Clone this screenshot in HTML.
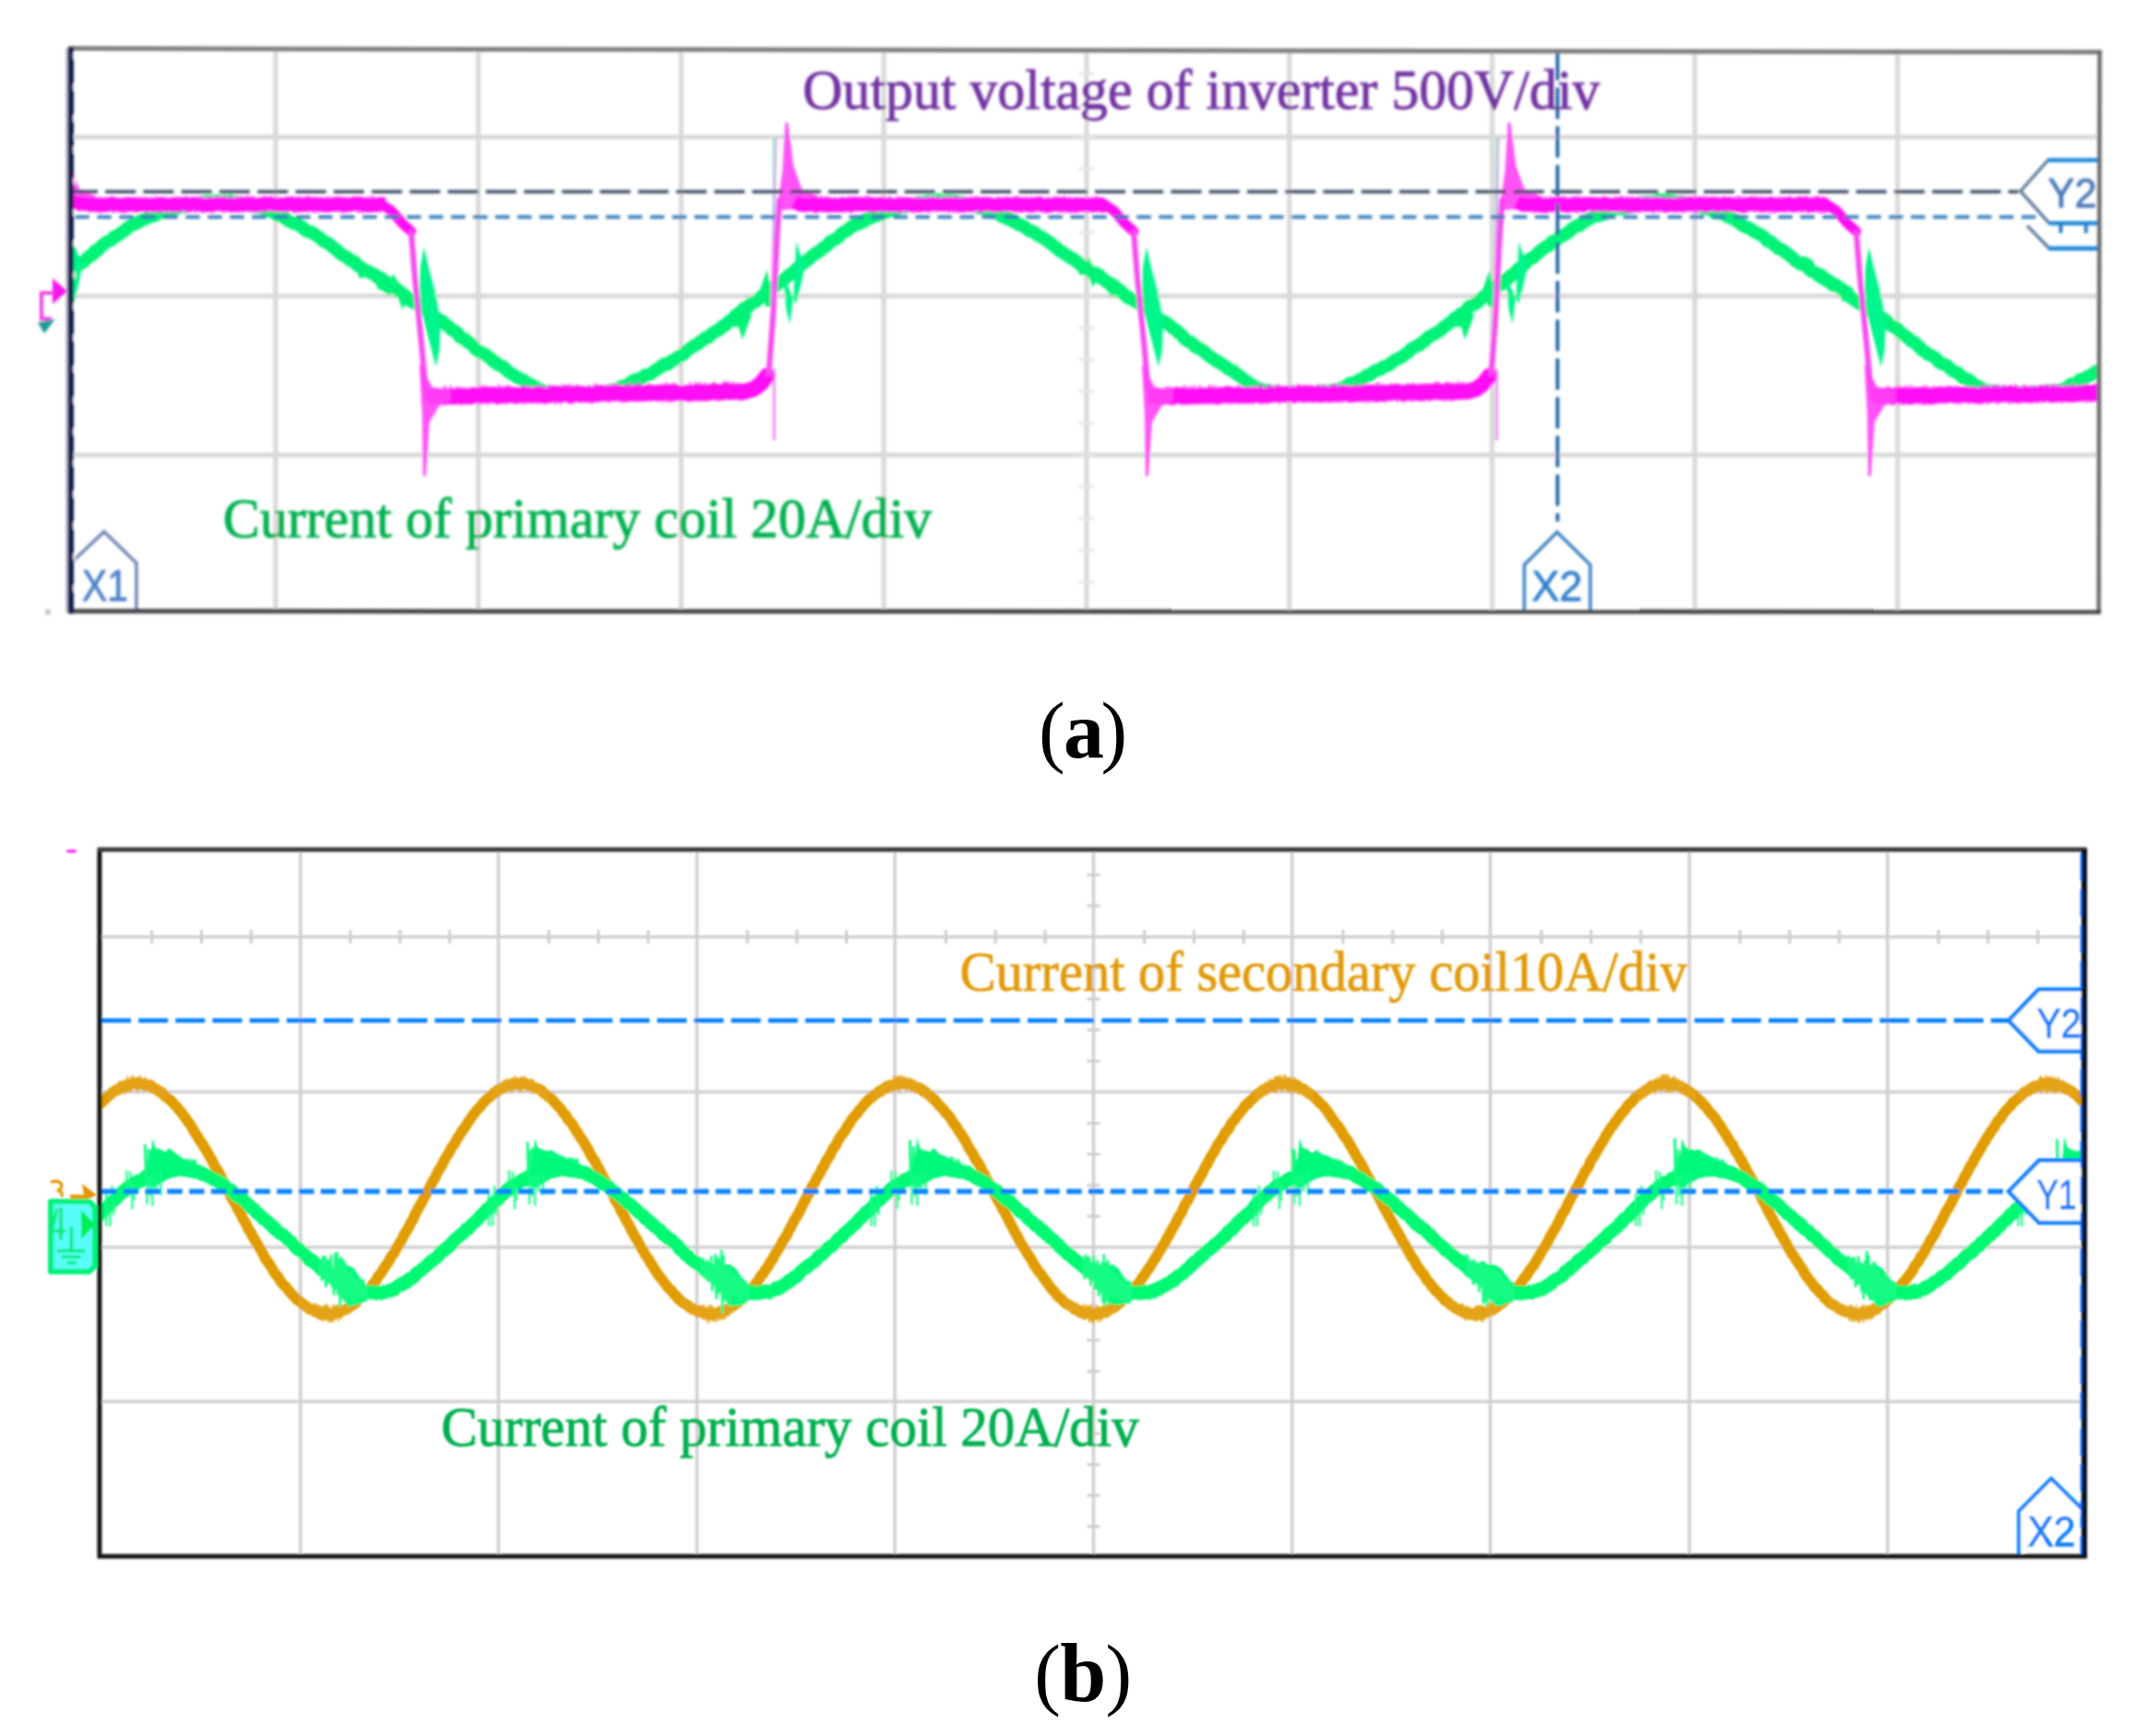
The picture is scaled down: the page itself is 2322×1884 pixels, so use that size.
<!DOCTYPE html>
<html lang="en"><head><meta charset="utf-8"><title>Figure</title>
<style>html,body{margin:0;padding:0;background:#fff}svg{display:block}text{font-family:"Liberation Serif",serif}.ss{font-family:"Liberation Sans",sans-serif}</style></head><body>
<svg width="2322" height="1884" viewBox="0 0 2322 1884">
<defs><filter id="bA" x="-2%" y="-5%" width="104%" height="110%"><feGaussianBlur stdDeviation="1.6"/></filter><filter id="bB" x="-2%" y="-5%" width="104%" height="110%"><feGaussianBlur stdDeviation="0.9"/></filter><clipPath id="cA"><rect x="76" y="53" width="2203" height="611"/></clipPath><clipPath id="cB"><rect x="108" y="922" width="2153.5" height="766"/></clipPath></defs>
<rect width="2322" height="1884" fill="#fff"/>
<g filter="url(#bA)">
<path d="M299,53V663M519,53V663M739,53V663M959,53V663M1179,53V663M1399,53V663M1619,53V663M1839,53V663M2059,53V663M76,148.75H2279M76,321.25H2279M76,493.75H2279" stroke="#d8d8d8" stroke-width="5" fill="none"/>
<path d="M1171,79.8h16M1171,114.2h16M1171,148.8h16M1171,183.2h16M1171,217.8h16M1171,252.2h16M1171,286.8h16M1171,321.2h16M1171,355.8h16M1171,390.2h16M1171,424.8h16M1171,459.2h16M1171,493.8h16M1171,528.2h16M1171,562.8h16M1171,597.2h16M1171,631.8h16" stroke="#e4e4e4" stroke-width="3" fill="none"/>
<g clip-path="url(#cA)">
<polyline points="40.0,323.5 43.0,321.0 46.0,319.9 49.0,316.3 52.0,315.1 55.0,312.2 58.0,309.0 61.0,307.6 64.0,304.0 67.0,302.5 70.0,299.2 73.0,296.7 76.0,295.1 79.0,293.6 82.0,289.4 85.0,287.2 88.0,285.7 91.0,284.1 94.0,280.8 97.0,278.0 100.0,276.9 103.0,272.3 106.0,271.9 109.0,268.1 112.0,265.5 115.0,263.2 118.0,261.5 121.0,260.6 124.0,257.0 127.0,256.0 130.0,254.1 133.0,251.5 136.0,250.0 139.0,246.8 142.0,244.9 145.0,243.4 148.0,242.7 151.0,240.5 154.0,238.7 157.0,237.9 160.0,236.3 163.0,234.7 166.0,234.7 169.0,233.3 172.0,231.0 175.0,230.7 178.0,229.5 181.0,229.3 184.0,228.1 187.0,226.2 190.0,227.1 193.0,224.3 196.0,224.4 199.0,224.5 202.0,222.4 205.0,222.5 208.0,220.7 211.0,221.6 214.0,221.2 217.0,220.2 220.0,220.4 223.0,218.5 226.0,219.0 229.0,218.4 232.0,218.1 235.0,217.7 238.0,218.6 241.0,218.9 244.0,218.0 247.0,218.9 250.0,217.8 253.0,219.8 256.0,220.0 259.0,221.3 262.0,221.4 265.0,220.7 268.0,221.7 271.0,223.1 274.0,222.4 277.0,224.3 280.0,224.5 283.0,225.4 286.0,226.2 289.0,228.9 292.0,228.4 295.0,229.8 298.0,231.4 301.0,233.9 304.0,233.3 307.0,235.6 310.0,237.3 313.0,239.6 316.0,241.0 319.0,242.7 322.0,242.9 325.0,244.9 328.0,246.5 331.0,249.5 334.0,251.5 337.0,251.4 340.0,253.3 343.0,255.4 346.0,257.3 349.0,260.0 352.0,262.3 355.0,263.6 358.0,265.2 361.0,268.3 364.0,270.3 367.0,272.9 370.0,276.0 373.0,277.4 376.0,279.1 379.0,281.4 382.0,283.6 385.0,284.1 388.0,288.2 391.0,289.9 394.0,292.0 397.0,293.8 400.0,294.7 403.0,296.5 406.0,297.6 409.0,300.7 412.0,301.2 415.0,303.1 418.0,305.4 421.0,307.3 424.0,309.8 427.0,311.2 430.0,313.3 433.0,315.9 436.0,318.0 439.0,320.9 442.0,322.2 445.0,326.4 448.0,327.9 451.0,328.9 454.0,331.2 457.0,333.5 460.0,335.6 463.0,337.1 466.0,340.9 469.0,343.3 472.0,344.1 475.0,346.2 478.0,347.4 481.0,349.6 484.0,352.4 487.0,354.5 490.0,358.2 493.0,359.0 496.0,361.1 499.0,365.7 502.0,367.1 505.0,368.5 508.0,371.8 511.0,372.9 514.0,376.3 517.0,379.7 520.0,381.6 523.0,383.3 526.0,384.4 529.0,386.8 532.0,388.5 535.0,392.0 538.0,393.5 541.0,396.2 544.0,397.1 547.0,398.8 550.0,402.1 553.0,404.5 556.0,406.1 559.0,407.9 562.0,410.0 565.0,411.8 568.0,412.6 571.0,415.3 574.0,416.7 577.0,417.8 580.0,419.4 583.0,421.4 586.0,422.5 589.0,424.4 592.0,425.7 595.0,425.0 598.0,426.5 601.0,426.8 604.0,426.9 607.0,425.6 610.0,425.5 613.0,425.6 616.0,425.7 619.0,425.9 622.0,427.0 625.0,427.7 628.0,427.5 631.0,426.6 634.0,426.9 637.0,427.1 640.0,425.2 643.0,426.4 646.0,426.9 649.0,426.4 652.0,426.2 655.0,425.2 658.0,424.1 661.0,425.0 664.0,423.2 667.0,423.5 670.0,422.9 673.0,420.3 676.0,419.0 679.0,419.0 682.0,417.1 685.0,414.3 688.0,412.8 691.0,411.4 694.0,411.8 697.0,410.1 700.0,407.0 703.0,407.1 706.0,405.9 709.0,403.5 712.0,401.1 715.0,399.8 718.0,397.1 721.0,395.1 724.0,395.7 727.0,393.1 730.0,391.0 733.0,390.2 736.0,387.1 739.0,386.2 742.0,384.1 745.0,380.6 748.0,378.7 751.0,376.8 754.0,374.7 757.0,373.5 760.0,370.7 763.0,369.0 766.0,366.2 769.0,366.0 772.0,362.5 775.0,360.6 778.0,358.8 781.0,357.4 784.0,354.0 787.0,353.0 790.0,349.7 793.0,347.5 796.0,345.1 799.0,341.5 802.0,340.0 805.0,337.0 808.0,334.2 811.0,333.9 814.0,330.1 817.0,328.7 820.0,327.2 823.0,324.8 826.0,322.1 829.0,320.4 832.0,318.2 835.0,316.4 838.0,312.4 841.0,311.1 844.0,307.8 847.0,305.4 850.0,304.2 853.0,301.0 856.0,298.7 859.0,296.7 862.0,294.6 865.0,291.0 868.0,289.0 871.0,286.3 874.0,283.9 877.0,281.9 880.0,278.9 883.0,276.7 886.0,274.1 889.0,272.9 892.0,269.9 895.0,268.0 898.0,265.9 901.0,262.1 904.0,260.7 907.0,259.5 910.0,257.2 913.0,253.6 916.0,251.6 919.0,250.4 922.0,247.5 925.0,245.9 928.0,243.6 931.0,243.3 934.0,241.9 937.0,240.6 940.0,237.4 943.0,237.4 946.0,236.0 949.0,233.5 952.0,234.1 955.0,233.1 958.0,230.2 961.0,230.9 964.0,228.5 967.0,227.8 970.0,228.2 973.0,227.0 976.0,224.7 979.0,224.6 982.0,224.2 985.0,223.0 988.0,222.0 991.0,221.6 994.0,221.9 997.0,219.6 1000.0,220.3 1003.0,219.5 1006.0,218.0 1009.0,218.2 1012.0,218.5 1015.0,218.0 1018.0,216.7 1021.0,218.9 1024.0,218.5 1027.0,219.1 1030.0,217.4 1033.0,218.2 1036.0,218.0 1039.0,220.2 1042.0,219.4 1045.0,219.6 1048.0,220.9 1051.0,222.7 1054.0,223.2 1057.0,222.6 1060.0,223.3 1063.0,226.0 1066.0,226.1 1069.0,227.4 1072.0,226.9 1075.0,227.9 1078.0,230.5 1081.0,231.1 1084.0,231.5 1087.0,234.9 1090.0,235.6 1093.0,237.4 1096.0,237.2 1099.0,240.5 1102.0,240.2 1105.0,243.7 1108.0,244.4 1111.0,245.8 1114.0,248.1 1117.0,250.8 1120.0,251.0 1123.0,252.6 1126.0,255.4 1129.0,256.7 1132.0,258.4 1135.0,260.6 1138.0,262.4 1141.0,264.9 1144.0,267.3 1147.0,269.5 1150.0,272.7 1153.0,273.7 1156.0,276.3 1159.0,277.6 1162.0,280.1 1165.0,281.3 1168.0,283.9 1171.0,285.4 1174.0,289.1 1177.0,290.6 1180.0,291.7 1183.0,294.3 1186.0,297.2 1189.0,297.1 1192.0,300.6 1195.0,301.4 1198.0,303.5 1201.0,306.2 1204.0,307.1 1207.0,309.5 1210.0,312.0 1213.0,314.9 1216.0,315.6 1219.0,319.0 1222.0,321.0 1225.0,323.0 1228.0,324.6 1231.0,326.6 1234.0,328.0 1237.0,330.3 1240.0,332.2 1243.0,335.8 1246.0,336.7 1249.0,338.6 1252.0,340.4 1255.0,344.3 1258.0,346.4 1261.0,348.1 1264.0,349.3 1267.0,351.4 1270.0,353.8 1273.0,356.5 1276.0,358.2 1279.0,361.3 1282.0,363.2 1285.0,367.3 1288.0,369.7 1291.0,371.1 1294.0,372.6 1297.0,376.6 1300.0,377.3 1303.0,379.6 1306.0,380.9 1309.0,384.0 1312.0,386.4 1315.0,388.6 1318.0,390.0 1321.0,392.8 1324.0,393.6 1327.0,396.3 1330.0,397.8 1333.0,400.5 1336.0,401.6 1339.0,403.5 1342.0,406.1 1345.0,407.9 1348.0,410.8 1351.0,412.7 1354.0,415.2 1357.0,416.9 1360.0,418.8 1363.0,420.9 1366.0,421.3 1369.0,422.3 1372.0,424.8 1375.0,423.6 1378.0,425.5 1381.0,425.7 1384.0,424.5 1387.0,426.6 1390.0,426.9 1393.0,426.4 1396.0,426.8 1399.0,427.2 1402.0,425.7 1405.0,426.7 1408.0,426.7 1411.0,427.5 1414.0,427.4 1417.0,427.4 1420.0,426.6 1423.0,427.2 1426.0,426.6 1429.0,426.4 1432.0,425.1 1435.0,424.5 1438.0,424.5 1441.0,424.7 1444.0,423.6 1447.0,424.7 1450.0,423.2 1453.0,422.4 1456.0,421.2 1459.0,420.1 1462.0,418.3 1465.0,415.8 1468.0,416.3 1471.0,414.8 1474.0,412.7 1477.0,411.4 1480.0,410.2 1483.0,407.3 1486.0,407.4 1489.0,404.6 1492.0,402.6 1495.0,401.4 1498.0,400.8 1501.0,397.9 1504.0,397.4 1507.0,396.3 1510.0,393.4 1513.0,391.3 1516.0,389.7 1519.0,388.3 1522.0,386.6 1525.0,384.3 1528.0,382.3 1531.0,379.0 1534.0,377.2 1537.0,375.4 1540.0,374.6 1543.0,371.5 1546.0,370.0 1549.0,366.6 1552.0,364.6 1555.0,363.0 1558.0,361.8 1561.0,359.7 1564.0,357.6 1567.0,354.5 1570.0,352.8 1573.0,350.4 1576.0,348.1 1579.0,344.9 1582.0,344.4 1585.0,340.3 1588.0,339.7 1591.0,337.2 1594.0,332.7 1597.0,331.6 1600.0,330.3 1603.0,328.5 1606.0,325.2 1609.0,322.7 1612.0,320.4 1615.0,319.9 1618.0,315.8 1621.0,314.4 1624.0,310.9 1627.0,309.3 1630.0,307.9 1633.0,303.4 1636.0,302.6 1639.0,299.4 1642.0,297.8 1645.0,294.9 1648.0,291.3 1651.0,290.5 1654.0,287.0 1657.0,283.5 1660.0,281.0 1663.0,279.8 1666.0,277.3 1669.0,274.5 1672.0,271.7 1675.0,269.8 1678.0,267.4 1681.0,266.4 1684.0,262.2 1687.0,261.8 1690.0,259.9 1693.0,256.2 1696.0,256.1 1699.0,253.7 1702.0,252.1 1705.0,248.7 1708.0,246.9 1711.0,245.0 1714.0,244.7 1717.0,242.0 1720.0,239.8 1723.0,238.5 1726.0,236.7 1729.0,234.9 1732.0,233.8 1735.0,234.4 1738.0,231.9 1741.0,232.3 1744.0,229.5 1747.0,228.5 1750.0,228.2 1753.0,226.5 1756.0,226.1 1759.0,226.8 1762.0,226.0 1765.0,225.1 1768.0,224.0 1771.0,224.0 1774.0,223.3 1777.0,221.7 1780.0,221.5 1783.0,219.3 1786.0,220.4 1789.0,219.2 1792.0,219.4 1795.0,218.7 1798.0,217.5 1801.0,216.7 1804.0,218.8 1807.0,216.9 1810.0,217.9 1813.0,217.8 1816.0,218.1 1819.0,219.6 1822.0,220.5 1825.0,219.2 1828.0,220.7 1831.0,220.4 1834.0,221.6 1837.0,221.9 1840.0,222.1 1843.0,223.0 1846.0,224.0 1849.0,226.6 1852.0,226.6 1855.0,226.9 1858.0,229.5 1861.0,230.9 1864.0,230.7 1867.0,231.2 1870.0,232.7 1873.0,233.8 1876.0,235.9 1879.0,236.7 1882.0,238.6 1885.0,240.1 1888.0,242.5 1891.0,244.9 1894.0,246.3 1897.0,247.2 1900.0,249.0 1903.0,251.1 1906.0,252.5 1909.0,254.3 1912.0,255.6 1915.0,258.1 1918.0,261.8 1921.0,261.9 1924.0,264.9 1927.0,267.4 1930.0,270.1 1933.0,270.7 1936.0,272.9 1939.0,275.0 1942.0,277.4 1945.0,279.6 1948.0,282.9 1951.0,284.7 1954.0,286.8 1957.0,286.7 1960.0,288.7 1963.0,292.3 1966.0,294.6 1969.0,295.5 1972.0,297.6 1975.0,298.0 1978.0,300.7 1981.0,303.9 1984.0,305.5 1987.0,307.6 1990.0,309.9 1993.0,310.3 1996.0,312.1 1999.0,314.4 2002.0,317.6 2005.0,320.2 2008.0,323.0 2011.0,324.6 2014.0,326.6 2017.0,329.0 2020.0,330.4 2023.0,332.6 2026.0,333.5 2029.0,337.3 2032.0,338.0 2035.0,341.7 2038.0,343.1 2041.0,344.4 2044.0,346.1 2047.0,348.5 2050.0,351.6 2053.0,354.0 2056.0,354.9 2059.0,357.2 2062.0,360.7 2065.0,363.2 2068.0,365.1 2071.0,367.1 2074.0,370.4 2077.0,371.3 2080.0,374.3 2083.0,376.9 2086.0,380.3 2089.0,381.8 2092.0,384.5 2095.0,385.7 2098.0,387.2 2101.0,389.4 2104.0,393.2 2107.0,394.6 2110.0,395.7 2113.0,397.0 2116.0,400.1 2119.0,402.5 2122.0,403.8 2125.0,405.3 2128.0,408.3 2131.0,410.9 2134.0,411.3 2137.0,412.8 2140.0,415.5 2143.0,417.5 2146.0,419.9 2149.0,420.3 2152.0,423.1 2155.0,424.0 2158.0,424.2 2161.0,424.1 2164.0,426.4 2167.0,425.1 2170.0,426.5 2173.0,425.2 2176.0,425.4 2179.0,426.8 2182.0,425.9 2185.0,427.6 2188.0,426.6 2191.0,425.9 2194.0,426.0 2197.0,426.5 2200.0,427.0 2203.0,427.6 2206.0,425.5 2209.0,425.9 2212.0,425.3 2215.0,427.0 2218.0,424.8 2221.0,424.4 2224.0,424.1 2227.0,424.5 2230.0,425.1 2233.0,424.3 2236.0,423.0 2239.0,422.5 2242.0,421.1 2245.0,418.4 2248.0,416.7 2251.0,417.1 2254.0,415.3 2257.0,412.1 2260.0,412.2 2263.0,410.0 2266.0,408.5 2269.0,406.9 2272.0,405.0 2275.0,403.0 2278.0,402.0 2281.0,400.5 2284.0,400.2 2287.0,396.5 2290.0,396.8 2293.0,393.3 2296.0,391.8 2299.0,391.1" stroke="#00f276" stroke-width="14" fill="none" stroke-linejoin="round"/>
<polyline points="-397.0,291.0 -392.0,294.8 -387.0,298.0 -382.0,303.9 -377.0,303.4 -372.0,307.5 -367.0,309.6 -362.0,302.4 -357.0,307.0 -352.0,307.5 -347.0,325.5 -342.0,332.2" stroke="#00f276" stroke-width="6" fill="none"/>
<polygon points="-324.0,268.0 -319.0,290.0 -311.0,320.0 -306.0,350.0 -307.0,380.0 -311.0,398.0 -317.0,375.0 -325.0,345.0 -329.0,315.0 -328.0,290.0" fill="#00f58c"/>
<polyline points="42.0,324.0 47.0,310.0 51.0,332.0 55.0,316.0" stroke="#00f276" stroke-width="9" fill="none"/>
<polyline points="56.0,330.0 56.0,150.0" stroke="#3ff0b0" stroke-width="3" fill="none" opacity="0.8"/>
<polygon points="66.0,300.0 69.0,335.0 73.0,352.0 77.0,320.0 80.0,262.0 84.0,275.0 90.0,285.0 86.0,305.0 80.0,330.0" fill="#00f58c"/>
<polyline points="12.0,354.0 18.0,342.0 22.0,356.0 28.0,340.0" stroke="#00f276" stroke-width="8" fill="none"/>
<polyline points="387.0,281.2 392.0,298.5 397.0,297.1 402.0,292.1 407.0,294.7 412.0,311.0 417.0,313.3 422.0,316.8 427.0,303.7 432.0,312.0 437.0,327.8 442.0,316.4" stroke="#00f276" stroke-width="6" fill="none"/>
<polygon points="460.0,268.0 465.0,290.0 473.0,320.0 478.0,350.0 477.0,380.0 473.0,398.0 467.0,375.0 459.0,345.0 455.0,315.0 456.0,290.0" fill="#00f58c"/>
<polyline points="826.0,324.0 831.0,310.0 835.0,332.0 839.0,316.0" stroke="#00f276" stroke-width="9" fill="none"/>
<polyline points="840.0,330.0 840.0,150.0" stroke="#3ff0b0" stroke-width="3" fill="none" opacity="0.8"/>
<polygon points="850.0,300.0 853.0,335.0 857.0,352.0 861.0,320.0 864.0,262.0 868.0,275.0 874.0,285.0 870.0,305.0 864.0,330.0" fill="#00f58c"/>
<polyline points="796.0,354.0 802.0,342.0 806.0,356.0 812.0,340.0" stroke="#00f276" stroke-width="8" fill="none"/>
<polyline points="1171.0,294.9 1176.0,295.7 1181.0,286.5 1186.0,303.9 1191.0,293.2 1196.0,295.8 1201.0,310.2 1206.0,317.2 1211.0,307.0 1216.0,311.0 1221.0,326.2 1226.0,328.3" stroke="#00f276" stroke-width="6" fill="none"/>
<polygon points="1244.0,268.0 1249.0,290.0 1257.0,320.0 1262.0,350.0 1261.0,380.0 1257.0,398.0 1251.0,375.0 1243.0,345.0 1239.0,315.0 1240.0,290.0" fill="#00f58c"/>
<polyline points="1610.0,324.0 1615.0,310.0 1619.0,332.0 1623.0,316.0" stroke="#00f276" stroke-width="9" fill="none"/>
<polyline points="1624.0,330.0 1624.0,150.0" stroke="#3ff0b0" stroke-width="3" fill="none" opacity="0.8"/>
<polygon points="1634.0,300.0 1637.0,335.0 1641.0,352.0 1645.0,320.0 1648.0,262.0 1652.0,275.0 1658.0,285.0 1654.0,305.0 1648.0,330.0" fill="#00f58c"/>
<polyline points="1580.0,354.0 1586.0,342.0 1590.0,356.0 1596.0,340.0" stroke="#00f276" stroke-width="8" fill="none"/>
<polyline points="1955.0,280.5 1960.0,282.1 1965.0,285.2 1970.0,301.6 1975.0,305.1 1980.0,307.2 1985.0,300.5 1990.0,304.0 1995.0,306.7 2000.0,321.3 2005.0,313.2 2010.0,316.1" stroke="#00f276" stroke-width="6" fill="none"/>
<polygon points="2028.0,268.0 2033.0,290.0 2041.0,320.0 2046.0,350.0 2045.0,380.0 2041.0,398.0 2035.0,375.0 2027.0,345.0 2023.0,315.0 2024.0,290.0" fill="#00f58c"/>
<polyline points="2394.0,324.0 2399.0,310.0 2403.0,332.0 2407.0,316.0" stroke="#00f276" stroke-width="9" fill="none"/>
<polyline points="2408.0,330.0 2408.0,150.0" stroke="#3ff0b0" stroke-width="3" fill="none" opacity="0.8"/>
<polygon points="2418.0,300.0 2421.0,335.0 2425.0,352.0 2429.0,320.0 2432.0,262.0 2436.0,275.0 2442.0,285.0 2438.0,305.0 2432.0,330.0" fill="#00f58c"/>
<polyline points="2364.0,354.0 2370.0,342.0 2374.0,356.0 2380.0,340.0" stroke="#00f276" stroke-width="8" fill="none"/>
<polyline points="-706.0,219.0 -700.0,221.2 -694.0,221.9 -688.0,221.1 -682.0,221.0 -676.0,222.8 -670.0,221.5 -664.0,221.9 -658.0,221.7 -652.0,222.8 -646.0,221.5 -640.0,221.1 -634.0,222.2 -628.0,222.7 -622.0,221.4 -616.0,221.2 -610.0,222.0 -604.0,221.4 -598.0,222.2 -592.0,222.5 -586.0,222.3 -580.0,221.0 -574.0,222.3 -568.0,222.4 -562.0,221.7 -556.0,221.1 -550.0,221.7 -544.0,221.1 -538.0,223.0 -532.0,221.1 -526.0,222.5 -520.0,222.8 -514.0,222.6 -508.0,222.6 -502.0,221.8 -496.0,221.7 -490.0,222.2 -484.0,221.2 -478.0,221.1 -472.0,222.0 -466.0,222.0 -460.0,221.8 -454.0,222.6 -448.0,222.3 -442.0,221.3 -436.0,222.1 -430.0,222.3 -424.0,221.8 -418.0,221.5 -412.0,223.0 -406.0,222.3 -400.0,221.8 -394.0,221.1 -388.0,222.5 -382.0,222.8 -376.0,221.8 -370.0,221.0 -367.0,222.0" stroke="#ff0cf4" stroke-width="15" fill="none" stroke-linejoin="round"/>
<polyline points="-688.0,212.8 -686.8,231.3 -685.4,213.2 -684.2,229.9 -682.8,214.1 -681.6,231.8 -680.2,214.0 -679.0,229.0 -677.6,215.1 -676.4,228.8 -675.0,213.5 -673.8,229.8 -672.4,212.8 -671.2,229.0 -669.8,215.3 -668.6,229.0 -667.2,212.7 -666.0,229.9 -664.6,213.5 -663.4,231.7 -662.0,212.9 -660.8,229.1 -659.4,214.3 -658.2,229.1 -656.8,214.9 -655.6,228.7 -654.2,214.2 -653.0,231.1 -651.6,212.7 -650.4,231.3 -649.0,214.4 -647.8,231.4 -646.4,215.3 -645.2,231.7 -643.8,214.4 -642.6,230.6 -641.2,213.3 -640.0,228.8 -638.6,213.0 -637.4,230.9 -636.0,212.4 -634.8,230.7 -633.4,212.5 -632.2,230.7 -630.8,213.3 -629.6,229.2 -628.2,213.8 -627.0,230.5 -625.6,215.4 -624.4,231.8 -623.0,215.0 -621.8,229.8 -620.4,215.0 -619.2,231.9 -617.8,212.6 -616.6,229.2 -615.2,212.4 -614.0,231.4 -612.6,213.1 -611.4,230.8 -610.0,214.4 -608.8,229.9 -607.4,213.9 -606.2,231.5 -604.8,212.8 -603.6,230.8 -602.2,214.4 -601.0,229.4 -599.6,214.1 -598.4,229.8 -597.0,213.7 -595.8,229.1 -594.4,215.5 -593.2,232.0 -591.8,213.9 -590.6,230.1 -589.2,213.3 -588.0,231.4 -586.6,212.6 -585.4,231.3 -584.0,214.1 -582.8,228.7 -581.4,214.2 -580.2,229.8 -578.8,212.7 -577.6,230.3 -576.2,213.2 -575.0,228.6 -573.6,215.0 -572.4,231.7 -571.0,214.4 -569.8,231.0 -568.4,215.2 -567.2,231.1 -565.8,212.4 -564.6,230.8 -563.2,212.8 -562.0,228.6 -560.6,215.3 -559.4,230.6 -558.0,213.1 -556.8,228.9 -555.4,215.0 -554.2,231.6 -552.8,214.5 -551.6,231.3 -550.2,212.7 -549.0,230.9 -547.6,213.0 -546.4,229.3 -545.0,212.6 -543.8,230.6 -542.4,214.6 -541.2,229.6 -539.8,213.4 -538.6,231.7 -537.2,213.9 -536.0,229.4 -534.6,212.1 -533.4,230.2 -532.0,213.4 -530.8,230.7 -529.4,214.7 -528.2,229.8 -526.8,214.8 -525.6,229.9 -524.2,213.3 -523.0,229.5 -521.6,214.4 -520.4,229.8 -519.0,212.7 -517.8,229.4 -516.4,212.8 -515.2,228.7 -513.8,212.5 -512.6,231.9 -511.2,213.9 -510.0,230.3 -508.6,213.1 -507.4,231.6 -506.0,214.6 -504.8,230.4 -503.4,212.5 -502.2,231.1 -500.8,214.2 -499.6,229.8 -498.2,214.2 -497.0,229.0 -495.6,214.3 -494.4,228.8 -493.0,214.7 -491.8,230.7 -490.4,212.1 -489.2,229.5 -487.8,213.7 -486.6,229.6 -485.2,212.1 -484.0,231.5 -482.6,212.3 -481.4,231.6 -480.0,212.9 -478.8,231.1 -477.4,214.7 -476.2,229.5 -474.8,213.3 -473.6,230.0 -472.2,214.2 -471.0,228.7 -469.6,213.8 -468.4,230.6 -467.0,215.3 -465.8,228.7 -464.4,213.5 -463.2,229.6 -461.8,213.7 -460.6,230.4 -459.2,214.1 -458.0,229.6 -456.6,215.0 -455.4,229.8 -454.0,212.6 -452.8,229.1 -451.4,215.5 -450.2,231.3 -448.8,213.0 -447.6,230.1 -446.2,215.3 -445.0,229.0 -443.6,213.2 -442.4,229.4 -441.0,212.7 -439.8,231.9 -438.4,215.3 -437.2,231.4 -435.8,212.4 -434.6,230.6 -433.2,213.5 -432.0,230.6 -430.6,213.7 -429.4,230.2 -428.0,214.9 -426.8,228.5 -425.4,215.3 -424.2,228.6 -422.8,214.9 -421.6,229.1 -420.2,212.3 -419.0,228.9 -417.6,213.4 -416.4,230.8 -415.0,214.8 -413.8,229.9 -412.4,213.7 -411.2,230.7 -409.8,213.2 -408.6,230.0 -407.2,213.4 -406.0,230.3 -404.6,215.3 -403.4,230.7 -402.0,212.0 -400.8,231.0 -399.4,213.8 -398.2,230.4 -396.8,214.2 -395.6,230.0 -394.2,212.3 -393.0,228.8 -391.6,213.2 -390.4,229.1 -389.0,212.0 -387.8,229.4 -386.4,213.2 -385.2,228.9 -383.8,212.4 -382.6,231.7 -381.2,212.2 -380.0,229.4 -378.6,215.3 -377.4,230.7 -376.0,213.1 -374.8,230.9 -373.4,212.3 -372.2,231.9" stroke="#ff0cf4" stroke-width="1.6" fill="none" opacity="0.75"/>
<polyline points="-371.0,221.0 -359.0,229.0 -347.0,243.0 -338.0,251.0" stroke="#ff0cf4" stroke-width="11" fill="none" stroke-linejoin="round" stroke-linecap="round"/>
<polyline points="-338.0,250.0 -334.0,300.0 -327.0,370.0 -322.0,425.0" stroke="#f84af0" stroke-width="6" fill="none" stroke-linejoin="round"/>
<polyline points="-315.0,430.0 -309.0,429.6 -303.0,430.8 -297.0,430.6 -291.0,428.9 -285.0,429.7 -279.0,428.9 -273.0,430.3 -267.0,430.1 -261.0,428.7 -255.0,428.5 -249.0,429.9 -243.0,428.4 -237.0,428.7 -231.0,429.0 -225.0,428.5 -219.0,429.4 -213.0,429.4 -207.0,429.4 -201.0,429.1 -195.0,428.4 -189.0,428.1 -183.0,428.2 -177.0,427.0 -171.0,427.0 -165.0,428.7 -159.0,427.2 -153.0,428.4 -147.0,428.1 -141.0,427.3 -135.0,427.6 -129.0,427.4 -123.0,426.6 -117.0,426.2 -111.0,426.3 -105.0,427.2 -99.0,426.2 -93.0,427.7 -87.0,427.1 -81.0,425.6 -75.0,425.8 -69.0,426.7 -63.0,425.4 -57.0,425.4 -51.0,425.2 -45.0,426.7 -39.0,426.5 -33.0,425.3 -27.0,426.7 -21.0,425.7 -15.0,425.9 -9.0,426.3 -3.0,425.9 3.0,425.7 9.0,425.0 15.0,424.6 21.0,424.5 24.0,425.0 34.0,422.0 42.0,416.0 48.0,408.0" stroke="#ff0cf4" stroke-width="17" fill="none" stroke-linejoin="round" stroke-linecap="round"/>
<polyline points="-303.0,422.3 -301.8,440.7 -300.4,418.3 -299.2,440.0 -297.8,421.9 -296.6,440.0 -295.2,419.4 -294.0,439.0 -292.6,421.7 -291.4,440.0 -290.0,419.3 -288.8,438.2 -287.4,420.7 -286.2,438.1 -284.8,420.6 -283.6,440.4 -282.2,421.9 -281.0,439.8 -279.6,418.0 -278.4,439.8 -277.0,419.3 -275.8,438.7 -274.4,420.7 -273.2,439.6 -271.8,418.4 -270.6,437.1 -269.2,419.6 -268.0,437.2 -266.6,419.8 -265.4,437.0 -264.0,419.3 -262.8,439.3 -261.4,418.1 -260.2,438.8 -258.8,420.5 -257.6,438.3 -256.2,419.4 -255.0,437.7 -253.6,418.3 -252.4,436.9 -251.0,420.1 -249.8,437.0 -248.4,418.5 -247.2,439.5 -245.8,417.2 -244.6,438.6 -243.2,417.2 -242.0,438.3 -240.6,418.9 -239.4,437.0 -238.0,417.8 -236.8,439.7 -235.4,420.4 -234.2,437.0 -232.8,417.1 -231.6,439.0 -230.2,419.1 -229.0,439.8 -227.6,418.8 -226.4,436.6 -225.0,419.8 -223.8,436.6 -222.4,417.0 -221.2,439.3 -219.8,417.8 -218.6,437.6 -217.2,418.2 -216.0,437.4 -214.6,419.7 -213.4,437.6 -212.0,418.6 -210.8,436.6 -209.4,416.6 -208.2,438.2 -206.8,416.7 -205.6,436.4 -204.2,418.3 -203.0,438.3 -201.6,418.2 -200.4,436.0 -199.0,418.2 -197.8,437.7 -196.4,416.9 -195.2,437.4 -193.8,418.3 -192.6,436.9 -191.2,418.6 -190.0,438.1 -188.6,419.5 -187.4,436.5 -186.0,419.1 -184.8,437.9 -183.4,417.5 -182.2,437.4 -180.8,419.4 -179.6,438.2 -178.2,416.8 -177.0,437.7 -175.6,417.2 -174.4,438.9 -173.0,417.2 -171.8,437.6 -170.4,418.9 -169.2,436.2 -167.8,416.1 -166.6,436.3 -165.2,416.0 -164.0,438.8 -162.6,419.6 -161.4,437.6 -160.0,419.4 -158.8,435.8 -157.4,419.6 -156.2,436.3 -154.8,418.8 -153.6,436.1 -152.2,419.7 -151.0,438.3 -149.6,418.8 -148.4,438.2 -147.0,418.0 -145.8,435.1 -144.4,416.2 -143.2,436.6 -141.8,419.0 -140.6,438.4 -139.2,418.6 -138.0,435.0 -136.6,418.8 -135.4,437.5 -134.0,419.8 -132.8,435.7 -131.4,416.0 -130.2,437.3 -128.8,417.2 -127.6,437.1 -126.2,415.9 -125.0,437.1 -123.6,416.8 -122.4,437.8 -121.0,416.8 -119.8,436.7 -118.4,418.6 -117.2,435.3 -115.8,419.0 -114.6,436.1 -113.2,418.4 -112.0,437.0 -110.6,415.5 -109.4,435.4 -108.0,417.7 -106.8,437.0 -105.4,418.7 -104.2,437.4 -102.8,417.2 -101.6,434.5 -100.2,415.5 -99.0,436.2 -97.6,416.4 -96.4,437.4 -95.0,415.3 -93.8,435.4 -92.4,419.2 -91.2,437.2 -89.8,415.1 -88.6,434.6 -87.2,418.0 -86.0,434.9 -84.6,415.9 -83.4,437.5 -82.0,418.2 -80.8,435.3 -79.4,415.2 -78.2,435.7 -76.8,418.1 -75.6,435.7 -74.2,418.9 -73.0,436.7 -71.6,417.3 -70.4,435.1 -69.0,415.6 -67.8,435.5 -66.4,414.4 -65.2,434.5 -63.8,416.5 -62.6,437.1 -61.2,415.5 -60.0,435.9 -58.6,415.9 -57.4,434.6 -56.0,417.0 -54.8,433.9 -53.4,418.3 -52.2,436.9 -50.8,415.8 -49.6,436.0 -48.2,416.0 -47.0,434.0 -45.6,417.2 -44.4,434.9 -43.0,414.2 -41.8,436.9 -40.4,414.0 -39.2,436.8 -37.8,416.3 -36.6,434.0 -35.2,414.2 -34.0,433.6 -32.6,414.8 -31.4,434.0 -30.0,415.4 -28.8,435.8 -27.4,414.6 -26.2,433.8 -24.8,415.2 -23.6,436.1 -22.2,414.6 -21.0,434.6 -19.6,413.7 -18.4,435.8 -17.0,415.2 -15.8,435.8 -14.4,416.0 -13.2,435.8 -11.8,417.0 -10.6,435.5 -9.2,414.9 -8.0,436.4 -6.6,414.9 -5.4,434.6 -4.0,414.3 -2.8,435.7 -1.4,416.3 -0.2,435.2 1.2,416.4 2.4,434.5 3.8,415.0 5.0,433.1 6.4,413.7 7.6,433.3 9.0,416.4 10.2,434.1 11.6,417.3 12.8,434.7 14.2,416.2 15.4,435.9 16.8,415.2 18.0,433.8 19.4,414.9 20.6,434.9" stroke="#ff0cf4" stroke-width="1.6" fill="none" opacity="0.75"/>
<polyline points="50.0,408.0 55.0,340.0 59.0,260.0 62.0,215.0" stroke="#f84af0" stroke-width="6" fill="none" stroke-linejoin="round"/>
<polygon points="-329.0,395.0 -326.0,450.0 -325.0,517.0 -322.0,517.0 -318.0,458.0 -307.0,440.0 -295.0,436.0 -295.0,424.0 -315.0,420.0" fill="#ff40f6" opacity="0.9"/>
<polygon points="59.0,228.0 65.0,185.0 68.0,133.0 71.0,133.0 77.0,180.0 86.0,205.0 104.0,213.0 104.0,226.0" fill="#ff40f6" opacity="0.9"/>
<polyline points="56.0,400.0 56.0,478.0" stroke="#e070e8" stroke-width="3" fill="none" opacity="0.8"/>
<polyline points="53.0,330.0 58.0,150.0" stroke="#ff80f8" stroke-width="3" fill="none" opacity="0.6"/>
<polyline points="78.0,219.0 84.0,221.4 90.0,221.1 96.0,221.6 102.0,222.2 108.0,222.2 114.0,222.7 120.0,221.4 126.0,221.9 132.0,222.6 138.0,221.4 144.0,221.8 150.0,222.1 156.0,222.2 162.0,222.4 168.0,223.0 174.0,221.2 180.0,222.8 186.0,222.1 192.0,222.3 198.0,221.6 204.0,222.0 210.0,221.4 216.0,221.2 222.0,222.7 228.0,222.3 234.0,221.2 240.0,221.2 246.0,221.8 252.0,222.7 258.0,221.9 264.0,222.1 270.0,222.0 276.0,222.8 282.0,222.4 288.0,221.5 294.0,221.3 300.0,222.2 306.0,222.5 312.0,221.3 318.0,221.6 324.0,222.4 330.0,222.0 336.0,221.6 342.0,221.9 348.0,221.9 354.0,223.0 360.0,222.4 366.0,221.4 372.0,221.7 378.0,222.3 384.0,221.0 390.0,221.1 396.0,222.5 402.0,223.0 408.0,222.6 414.0,221.2 417.0,222.0" stroke="#ff0cf4" stroke-width="15" fill="none" stroke-linejoin="round"/>
<polyline points="96.0,213.8 97.2,231.2 98.6,215.0 99.8,229.2 101.2,214.0 102.4,228.9 103.8,215.2 105.0,230.8 106.4,214.3 107.6,231.2 109.0,213.6 110.2,231.7 111.6,214.5 112.8,229.7 114.2,214.6 115.4,228.7 116.8,214.5 118.0,229.7 119.4,213.8 120.6,229.7 122.0,212.1 123.2,231.6 124.6,214.3 125.8,229.2 127.2,213.8 128.4,228.9 129.8,214.8 131.0,231.0 132.4,215.1 133.6,231.9 135.0,215.2 136.2,232.0 137.6,214.1 138.8,230.4 140.2,214.1 141.4,230.5 142.8,214.1 144.0,228.9 145.4,215.3 146.6,231.4 148.0,213.8 149.2,231.2 150.6,215.3 151.8,230.3 153.2,213.6 154.4,229.8 155.8,215.0 157.0,230.9 158.4,213.1 159.6,231.6 161.0,215.2 162.2,228.6 163.6,213.3 164.8,230.7 166.2,214.9 167.4,230.8 168.8,212.5 170.0,230.0 171.4,215.1 172.6,231.8 174.0,215.5 175.2,231.6 176.6,215.0 177.8,229.6 179.2,213.0 180.4,231.5 181.8,214.9 183.0,228.6 184.4,215.4 185.6,230.5 187.0,213.5 188.2,231.7 189.6,213.8 190.8,230.3 192.2,212.6 193.4,231.2 194.8,214.0 196.0,230.9 197.4,214.1 198.6,228.7 200.0,213.1 201.2,230.6 202.6,212.0 203.8,230.8 205.2,215.0 206.4,231.2 207.8,213.6 209.0,228.8 210.4,213.8 211.6,231.6 213.0,213.3 214.2,230.0 215.6,215.5 216.8,230.8 218.2,212.0 219.4,231.5 220.8,214.7 222.0,228.9 223.4,213.8 224.6,229.5 226.0,213.5 227.2,230.1 228.6,212.9 229.8,231.7 231.2,214.2 232.4,231.1 233.8,213.1 235.0,229.0 236.4,212.8 237.6,229.5 239.0,213.5 240.2,230.2 241.6,213.2 242.8,231.6 244.2,212.3 245.4,228.7 246.8,215.4 248.0,228.7 249.4,212.4 250.6,230.9 252.0,213.3 253.2,229.9 254.6,214.4 255.8,230.6 257.2,212.1 258.4,231.4 259.8,213.4 261.0,229.6 262.4,212.2 263.6,231.0 265.0,213.9 266.2,229.1 267.6,212.1 268.8,228.9 270.2,212.2 271.4,229.1 272.8,212.7 274.0,230.2 275.4,212.8 276.6,230.1 278.0,214.5 279.2,231.1 280.6,214.3 281.8,229.5 283.2,213.3 284.4,230.8 285.8,212.7 287.0,230.6 288.4,212.5 289.6,231.0 291.0,215.4 292.2,229.0 293.6,212.6 294.8,230.5 296.2,212.1 297.4,229.4 298.8,214.1 300.0,229.8 301.4,212.8 302.6,229.3 304.0,213.9 305.2,230.9 306.6,214.4 307.8,229.4 309.2,214.9 310.4,231.7 311.8,212.8 313.0,231.2 314.4,214.5 315.6,229.0 317.0,212.4 318.2,232.0 319.6,215.0 320.8,231.9 322.2,212.7 323.4,230.4 324.8,212.8 326.0,230.2 327.4,213.6 328.6,230.4 330.0,213.8 331.2,229.8 332.6,212.7 333.8,231.0 335.2,212.1 336.4,229.6 337.8,215.3 339.0,229.9 340.4,213.0 341.6,231.7 343.0,213.4 344.2,228.5 345.6,214.2 346.8,230.4 348.2,213.6 349.4,229.7 350.8,215.3 352.0,229.9 353.4,213.7 354.6,229.4 356.0,212.6 357.2,229.6 358.6,213.7 359.8,229.2 361.2,214.8 362.4,228.8 363.8,212.7 365.0,229.5 366.4,213.5 367.6,229.8 369.0,212.8 370.2,231.5 371.6,214.6 372.8,231.7 374.2,213.8 375.4,231.5 376.8,214.2 378.0,230.1 379.4,215.2 380.6,229.6 382.0,215.4 383.2,229.5 384.6,213.4 385.8,228.8 387.2,214.8 388.4,231.5 389.8,213.5 391.0,230.6 392.4,214.8 393.6,231.7 395.0,214.5 396.2,228.8 397.6,213.9 398.8,230.6 400.2,213.4 401.4,229.0 402.8,212.5 404.0,229.7 405.4,212.0 406.6,229.8 408.0,215.4 409.2,228.6 410.6,214.2 411.8,231.0" stroke="#ff0cf4" stroke-width="1.6" fill="none" opacity="0.75"/>
<polyline points="413.0,221.0 425.0,229.0 437.0,243.0 446.0,251.0" stroke="#ff0cf4" stroke-width="11" fill="none" stroke-linejoin="round" stroke-linecap="round"/>
<polyline points="446.0,250.0 450.0,300.0 457.0,370.0 462.0,425.0" stroke="#f84af0" stroke-width="6" fill="none" stroke-linejoin="round"/>
<polyline points="469.0,430.0 475.0,430.0 481.0,430.6 487.0,430.6 493.0,430.5 499.0,429.9 505.0,430.4 511.0,429.9 517.0,428.5 523.0,428.9 529.0,428.7 535.0,428.3 541.0,429.9 547.0,428.9 553.0,428.2 559.0,429.4 565.0,428.4 571.0,428.0 577.0,428.9 583.0,427.7 589.0,429.2 595.0,429.1 601.0,427.2 607.0,428.1 613.0,427.0 619.0,428.7 625.0,427.3 631.0,427.7 637.0,428.0 643.0,428.0 649.0,427.4 655.0,426.5 661.0,426.8 667.0,426.1 673.0,426.4 679.0,427.4 685.0,427.0 691.0,426.6 697.0,427.0 703.0,426.5 709.0,426.2 715.0,426.2 721.0,426.1 727.0,426.0 733.0,426.0 739.0,426.7 745.0,426.8 751.0,426.6 757.0,425.7 763.0,426.5 769.0,426.2 775.0,424.8 781.0,426.1 787.0,424.5 793.0,425.5 799.0,424.9 805.0,425.5 808.0,425.0 818.0,422.0 826.0,416.0 832.0,408.0" stroke="#ff0cf4" stroke-width="17" fill="none" stroke-linejoin="round" stroke-linecap="round"/>
<polyline points="481.0,418.9 482.2,440.8 483.6,418.2 484.8,438.7 486.2,422.2 487.4,437.6 488.8,417.9 490.0,438.4 491.4,421.2 492.6,437.7 494.0,420.6 495.2,438.4 496.6,418.9 497.8,437.8 499.2,420.1 500.4,440.2 501.8,420.1 503.0,437.6 504.4,420.2 505.6,437.9 507.0,421.9 508.2,439.0 509.6,420.6 510.8,439.8 512.2,420.8 513.4,437.3 514.8,419.8 516.0,438.6 517.4,421.2 518.6,438.7 520.0,419.0 521.2,439.6 522.6,417.6 523.8,438.7 525.2,418.0 526.4,437.2 527.8,418.3 529.0,440.1 530.4,419.7 531.6,437.6 533.0,420.6 534.2,437.5 535.6,419.8 536.8,438.0 538.2,420.8 539.4,439.5 540.8,417.1 542.0,437.0 543.4,418.6 544.6,438.0 546.0,419.1 547.2,438.2 548.6,419.4 549.8,439.2 551.2,417.1 552.4,437.4 553.8,419.7 555.0,436.5 556.4,419.4 557.6,437.2 559.0,420.4 560.2,439.2 561.6,418.9 562.8,437.0 564.2,420.4 565.4,438.3 566.8,417.4 568.0,439.2 569.4,417.8 570.6,438.7 572.0,420.3 573.2,436.5 574.6,418.0 575.8,438.2 577.2,420.1 578.4,437.0 579.8,420.9 581.0,438.3 582.4,418.5 583.6,438.8 585.0,416.7 586.2,437.7 587.6,419.2 588.8,436.8 590.2,417.9 591.4,439.1 592.8,420.3 594.0,437.2 595.4,417.3 596.6,436.2 598.0,417.7 599.2,436.5 600.6,418.1 601.8,439.1 603.2,420.4 604.4,438.0 605.8,417.9 607.0,438.5 608.4,418.9 609.6,438.8 611.0,416.1 612.2,435.7 613.6,418.8 614.8,436.3 616.2,416.6 617.4,438.6 618.8,416.8 620.0,438.4 621.4,417.7 622.6,438.4 624.0,419.0 625.2,435.6 626.6,416.9 627.8,436.8 629.2,420.1 630.4,438.0 631.8,419.5 633.0,436.0 634.4,419.7 635.6,437.3 637.0,419.3 638.2,436.2 639.6,417.5 640.8,438.4 642.2,419.9 643.4,438.2 644.8,416.6 646.0,435.9 647.4,416.1 648.6,437.1 650.0,417.8 651.2,435.7 652.6,417.8 653.8,436.1 655.2,419.4 656.4,435.4 657.8,418.5 659.0,436.4 660.4,417.1 661.6,437.4 663.0,419.2 664.2,435.1 665.6,415.7 666.8,436.5 668.2,418.6 669.4,435.4 670.8,416.6 672.0,436.2 673.4,417.7 674.6,437.8 676.0,419.4 677.2,436.7 678.6,416.3 679.8,436.5 681.2,416.7 682.4,434.5 683.8,415.0 685.0,434.5 686.4,417.7 687.6,435.7 689.0,415.5 690.2,436.8 691.6,415.5 692.8,436.2 694.2,414.8 695.4,435.3 696.8,417.4 698.0,436.1 699.4,417.7 700.6,434.6 702.0,416.0 703.2,435.3 704.6,415.1 705.8,436.4 707.2,419.0 708.4,434.4 709.8,418.1 711.0,435.1 712.4,418.0 713.6,436.3 715.0,417.9 716.2,435.4 717.6,417.1 718.8,437.3 720.2,416.8 721.4,434.0 722.8,414.4 724.0,437.2 725.4,418.6 726.6,436.8 728.0,415.9 729.2,436.9 730.6,415.9 731.8,435.9 733.2,415.0 734.4,433.7 735.8,418.1 737.0,434.0 738.4,418.5 739.6,434.4 741.0,418.3 742.2,433.9 743.6,416.9 744.8,434.1 746.2,418.2 747.4,436.8 748.8,414.2 750.0,436.5 751.4,418.0 752.6,435.4 754.0,414.1 755.2,434.9 756.6,416.0 757.8,436.4 759.2,414.1 760.4,435.3 761.8,417.0 763.0,435.8 764.4,414.8 765.6,434.2 767.0,416.1 768.2,435.5 769.6,417.1 770.8,434.4 772.2,415.6 773.4,434.3 774.8,414.0 776.0,434.1 777.4,415.8 778.6,435.8 780.0,417.8 781.2,434.1 782.6,417.0 783.8,434.8 785.2,413.5 786.4,434.2 787.8,413.6 789.0,433.4 790.4,413.5 791.6,433.9 793.0,416.3 794.2,433.7 795.6,413.7 796.8,433.4 798.2,417.4 799.4,432.7 800.8,415.1 802.0,434.7 803.4,416.0 804.6,434.9" stroke="#ff0cf4" stroke-width="1.6" fill="none" opacity="0.75"/>
<polyline points="834.0,408.0 839.0,340.0 843.0,260.0 846.0,215.0" stroke="#f84af0" stroke-width="6" fill="none" stroke-linejoin="round"/>
<polygon points="455.0,395.0 458.0,450.0 459.0,517.0 462.0,517.0 466.0,458.0 477.0,440.0 489.0,436.0 489.0,424.0 469.0,420.0" fill="#ff40f6" opacity="0.9"/>
<polygon points="843.0,228.0 849.0,185.0 852.0,133.0 855.0,133.0 861.0,180.0 870.0,205.0 888.0,213.0 888.0,226.0" fill="#ff40f6" opacity="0.9"/>
<polyline points="840.0,400.0 840.0,478.0" stroke="#e070e8" stroke-width="3" fill="none" opacity="0.8"/>
<polyline points="837.0,330.0 842.0,150.0" stroke="#ff80f8" stroke-width="3" fill="none" opacity="0.6"/>
<polyline points="862.0,219.0 868.0,222.0 874.0,222.7 880.0,221.7 886.0,222.5 892.0,222.0 898.0,223.0 904.0,222.4 910.0,222.9 916.0,221.8 922.0,222.3 928.0,221.3 934.0,221.4 940.0,222.2 946.0,221.6 952.0,222.7 958.0,221.2 964.0,222.7 970.0,222.8 976.0,223.0 982.0,221.5 988.0,222.3 994.0,222.3 1000.0,222.4 1006.0,221.8 1012.0,221.2 1018.0,221.8 1024.0,222.1 1030.0,221.2 1036.0,221.8 1042.0,223.0 1048.0,221.3 1054.0,222.7 1060.0,221.6 1066.0,222.2 1072.0,221.2 1078.0,222.7 1084.0,222.4 1090.0,221.6 1096.0,221.7 1102.0,221.7 1108.0,222.1 1114.0,222.2 1120.0,222.3 1126.0,221.0 1132.0,222.5 1138.0,223.0 1144.0,221.8 1150.0,221.6 1156.0,222.1 1162.0,222.6 1168.0,221.9 1174.0,221.8 1180.0,221.5 1186.0,222.6 1192.0,221.7 1198.0,222.9 1201.0,222.0" stroke="#ff0cf4" stroke-width="15" fill="none" stroke-linejoin="round"/>
<polyline points="880.0,213.4 881.2,229.3 882.6,214.4 883.8,231.9 885.2,212.4 886.4,231.8 887.8,215.4 889.0,229.4 890.4,212.4 891.6,229.5 893.0,213.6 894.2,229.6 895.6,213.3 896.8,230.0 898.2,212.6 899.4,231.0 900.8,214.0 902.0,230.1 903.4,215.4 904.6,230.9 906.0,213.9 907.2,228.5 908.6,215.3 909.8,229.3 911.2,214.1 912.4,230.3 913.8,213.2 915.0,231.7 916.4,215.0 917.6,229.2 919.0,214.0 920.2,229.9 921.6,212.8 922.8,231.6 924.2,213.4 925.4,230.9 926.8,212.9 928.0,228.8 929.4,214.2 930.6,229.8 932.0,215.2 933.2,229.6 934.6,214.9 935.8,230.8 937.2,214.5 938.4,229.7 939.8,212.2 941.0,230.3 942.4,212.1 943.6,230.7 945.0,213.7 946.2,231.4 947.6,214.8 948.8,231.6 950.2,214.1 951.4,228.7 952.8,213.5 954.0,228.9 955.4,213.5 956.6,230.7 958.0,213.0 959.2,230.9 960.6,215.5 961.8,228.5 963.2,213.0 964.4,230.4 965.8,212.3 967.0,229.9 968.4,215.2 969.6,228.6 971.0,215.4 972.2,229.1 973.6,212.8 974.8,230.5 976.2,212.5 977.4,231.6 978.8,213.7 980.0,229.0 981.4,214.8 982.6,230.6 984.0,215.0 985.2,230.3 986.6,213.7 987.8,228.6 989.2,215.2 990.4,231.8 991.8,213.8 993.0,230.1 994.4,214.0 995.6,231.3 997.0,213.2 998.2,230.9 999.6,213.5 1000.8,229.0 1002.2,214.7 1003.4,229.5 1004.8,215.4 1006.0,230.7 1007.4,212.5 1008.6,231.8 1010.0,215.3 1011.2,229.2 1012.6,213.3 1013.8,228.6 1015.2,214.7 1016.4,229.9 1017.8,212.8 1019.0,228.7 1020.4,215.3 1021.6,229.3 1023.0,214.7 1024.2,229.1 1025.6,213.4 1026.8,229.1 1028.2,215.5 1029.4,231.5 1030.8,213.9 1032.0,230.0 1033.4,214.6 1034.6,231.6 1036.0,212.1 1037.2,228.7 1038.6,213.1 1039.8,230.9 1041.2,213.5 1042.4,229.9 1043.8,214.1 1045.0,231.0 1046.4,215.4 1047.6,231.5 1049.0,215.2 1050.2,229.1 1051.6,214.2 1052.8,228.5 1054.2,212.4 1055.4,229.9 1056.8,214.2 1058.0,229.7 1059.4,212.4 1060.6,229.7 1062.0,213.2 1063.2,231.9 1064.6,214.0 1065.8,231.7 1067.2,213.6 1068.4,229.9 1069.8,213.9 1071.0,229.7 1072.4,214.0 1073.6,229.5 1075.0,215.4 1076.2,231.3 1077.6,214.7 1078.8,229.0 1080.2,214.8 1081.4,230.4 1082.8,212.7 1084.0,230.4 1085.4,213.9 1086.6,231.3 1088.0,214.7 1089.2,229.8 1090.6,214.7 1091.8,229.9 1093.2,213.3 1094.4,230.5 1095.8,214.5 1097.0,230.2 1098.4,214.8 1099.6,231.5 1101.0,213.1 1102.2,231.8 1103.6,212.0 1104.8,230.6 1106.2,214.0 1107.4,232.0 1108.8,213.6 1110.0,229.9 1111.4,213.7 1112.6,228.9 1114.0,212.9 1115.2,230.9 1116.6,215.2 1117.8,231.5 1119.2,212.9 1120.4,231.2 1121.8,215.4 1123.0,231.0 1124.4,215.0 1125.6,228.6 1127.0,213.0 1128.2,230.9 1129.6,212.8 1130.8,229.3 1132.2,214.8 1133.4,231.6 1134.8,215.3 1136.0,231.7 1137.4,212.7 1138.6,231.2 1140.0,214.8 1141.2,231.0 1142.6,215.2 1143.8,229.5 1145.2,212.6 1146.4,229.9 1147.8,214.3 1149.0,231.5 1150.4,213.9 1151.6,230.7 1153.0,213.3 1154.2,231.5 1155.6,212.2 1156.8,229.1 1158.2,214.2 1159.4,231.3 1160.8,213.1 1162.0,231.6 1163.4,215.4 1164.6,231.0 1166.0,213.9 1167.2,232.0 1168.6,214.1 1169.8,231.7 1171.2,215.2 1172.4,229.5 1173.8,214.6 1175.0,230.6 1176.4,214.7 1177.6,230.9 1179.0,214.1 1180.2,230.6 1181.6,214.0 1182.8,231.1 1184.2,215.0 1185.4,231.1 1186.8,213.6 1188.0,230.7 1189.4,212.2 1190.6,230.5 1192.0,214.7 1193.2,230.2 1194.6,213.7 1195.8,231.7" stroke="#ff0cf4" stroke-width="1.6" fill="none" opacity="0.75"/>
<polyline points="1197.0,221.0 1209.0,229.0 1221.0,243.0 1230.0,251.0" stroke="#ff0cf4" stroke-width="11" fill="none" stroke-linejoin="round" stroke-linecap="round"/>
<polyline points="1230.0,250.0 1234.0,300.0 1241.0,370.0 1246.0,425.0" stroke="#f84af0" stroke-width="6" fill="none" stroke-linejoin="round"/>
<polyline points="1253.0,430.0 1259.0,430.3 1265.0,430.1 1271.0,430.7 1277.0,429.0 1283.0,430.2 1289.0,429.9 1295.0,430.3 1301.0,430.1 1307.0,429.4 1313.0,429.6 1319.0,430.0 1325.0,429.4 1331.0,428.0 1337.0,428.5 1343.0,429.3 1349.0,428.3 1355.0,429.4 1361.0,428.3 1367.0,428.9 1373.0,429.3 1379.0,428.4 1385.0,427.5 1391.0,428.1 1397.0,427.6 1403.0,428.7 1409.0,427.6 1415.0,427.3 1421.0,427.6 1427.0,427.9 1433.0,428.1 1439.0,427.5 1445.0,427.2 1451.0,427.5 1457.0,426.4 1463.0,427.3 1469.0,427.5 1475.0,427.3 1481.0,426.6 1487.0,426.0 1493.0,427.4 1499.0,427.0 1505.0,426.4 1511.0,425.6 1517.0,425.5 1523.0,426.6 1529.0,425.4 1535.0,425.4 1541.0,426.7 1547.0,425.0 1553.0,425.3 1559.0,424.7 1565.0,425.7 1571.0,424.6 1577.0,425.6 1583.0,425.1 1589.0,425.0 1592.0,425.0 1602.0,422.0 1610.0,416.0 1616.0,408.0" stroke="#ff0cf4" stroke-width="17" fill="none" stroke-linejoin="round" stroke-linecap="round"/>
<polyline points="1265.0,419.2 1266.2,437.4 1267.6,419.3 1268.8,437.8 1270.2,419.4 1271.4,439.8 1272.8,421.7 1274.0,439.8 1275.4,419.6 1276.6,438.1 1278.0,419.4 1279.2,437.6 1280.6,420.3 1281.8,440.5 1283.2,419.1 1284.4,437.7 1285.8,417.7 1287.0,440.0 1288.4,420.2 1289.6,437.8 1291.0,418.9 1292.2,437.1 1293.6,419.8 1294.8,437.1 1296.2,417.9 1297.4,438.0 1298.8,421.4 1300.0,438.0 1301.4,417.5 1302.6,437.4 1304.0,419.8 1305.2,438.8 1306.6,420.5 1307.8,438.7 1309.2,421.5 1310.4,438.4 1311.8,417.3 1313.0,438.4 1314.4,418.3 1315.6,437.8 1317.0,418.3 1318.2,437.6 1319.6,418.7 1320.8,439.9 1322.2,419.4 1323.4,439.3 1324.8,420.1 1326.0,437.8 1327.4,421.1 1328.6,437.5 1330.0,418.7 1331.2,439.0 1332.6,418.2 1333.8,438.7 1335.2,421.0 1336.4,439.0 1337.8,421.2 1339.0,437.7 1340.4,420.6 1341.6,437.6 1343.0,416.9 1344.2,438.1 1345.6,417.2 1346.8,438.6 1348.2,420.7 1349.4,438.7 1350.8,419.7 1352.0,438.3 1353.4,419.4 1354.6,438.3 1356.0,419.4 1357.2,436.8 1358.6,420.4 1359.8,439.2 1361.2,417.2 1362.4,436.9 1363.8,420.7 1365.0,436.3 1366.4,417.3 1367.6,439.1 1369.0,416.3 1370.2,437.3 1371.6,420.6 1372.8,436.6 1374.2,418.9 1375.4,438.3 1376.8,416.3 1378.0,437.8 1379.4,417.9 1380.6,436.2 1382.0,419.6 1383.2,436.1 1384.6,417.7 1385.8,437.0 1387.2,416.2 1388.4,438.6 1389.8,418.4 1391.0,436.3 1392.4,418.8 1393.6,435.6 1395.0,417.7 1396.2,438.4 1397.6,418.1 1398.8,435.9 1400.2,420.1 1401.4,435.6 1402.8,417.1 1404.0,438.5 1405.4,420.0 1406.6,435.3 1408.0,416.0 1409.2,435.9 1410.6,417.0 1411.8,436.5 1413.2,420.2 1414.4,438.0 1415.8,417.1 1417.0,437.1 1418.4,418.0 1419.6,437.0 1421.0,417.7 1422.2,436.6 1423.6,417.6 1424.8,437.2 1426.2,419.3 1427.4,436.4 1428.8,417.2 1430.0,435.2 1431.4,416.3 1432.6,437.4 1434.0,418.4 1435.2,437.2 1436.6,417.3 1437.8,436.3 1439.2,418.1 1440.4,437.1 1441.8,419.1 1443.0,437.8 1444.4,417.3 1445.6,436.9 1447.0,415.9 1448.2,435.5 1449.6,416.3 1450.8,437.1 1452.2,418.9 1453.4,436.6 1454.8,417.1 1456.0,437.9 1457.4,417.9 1458.6,435.4 1460.0,417.5 1461.2,435.4 1462.6,418.4 1463.8,437.8 1465.2,418.5 1466.4,437.0 1467.8,418.4 1469.0,437.3 1470.4,416.4 1471.6,435.0 1473.0,416.3 1474.2,436.8 1475.6,418.2 1476.8,435.9 1478.2,416.8 1479.4,436.6 1480.8,415.9 1482.0,437.4 1483.4,416.6 1484.6,437.1 1486.0,416.0 1487.2,436.9 1488.6,418.4 1489.8,435.8 1491.2,416.7 1492.4,436.9 1493.8,414.7 1495.0,436.2 1496.4,414.6 1497.6,435.7 1499.0,416.8 1500.2,436.3 1501.6,416.4 1502.8,437.2 1504.2,418.0 1505.4,435.5 1506.8,418.4 1508.0,435.1 1509.4,416.0 1510.6,435.2 1512.0,418.5 1513.2,433.8 1514.6,415.5 1515.8,437.0 1517.2,416.6 1518.4,434.0 1519.8,418.0 1521.0,436.8 1522.4,418.2 1523.6,437.0 1525.0,417.6 1526.2,433.9 1527.6,415.2 1528.8,434.7 1530.2,416.8 1531.4,436.4 1532.8,414.8 1534.0,436.0 1535.4,418.3 1536.6,434.2 1538.0,417.2 1539.2,435.1 1540.6,415.9 1541.8,434.5 1543.2,416.0 1544.4,436.1 1545.8,416.6 1547.0,434.4 1548.4,416.7 1549.6,435.3 1551.0,418.0 1552.2,436.3 1553.6,417.0 1554.8,434.3 1556.2,414.9 1557.4,433.1 1558.8,413.5 1560.0,434.5 1561.4,414.4 1562.6,434.7 1564.0,417.6 1565.2,433.8 1566.6,417.2 1567.8,436.1 1569.2,413.9 1570.4,435.2 1571.8,414.0 1573.0,434.9 1574.4,416.6 1575.6,436.3 1577.0,414.3 1578.2,433.7 1579.6,415.7 1580.8,432.8 1582.2,413.2 1583.4,434.4 1584.8,415.4 1586.0,432.7 1587.4,413.8 1588.6,432.8" stroke="#ff0cf4" stroke-width="1.6" fill="none" opacity="0.75"/>
<polyline points="1618.0,408.0 1623.0,340.0 1627.0,260.0 1630.0,215.0" stroke="#f84af0" stroke-width="6" fill="none" stroke-linejoin="round"/>
<polygon points="1239.0,395.0 1242.0,450.0 1243.0,517.0 1246.0,517.0 1250.0,458.0 1261.0,440.0 1273.0,436.0 1273.0,424.0 1253.0,420.0" fill="#ff40f6" opacity="0.9"/>
<polygon points="1627.0,228.0 1633.0,185.0 1636.0,133.0 1639.0,133.0 1645.0,180.0 1654.0,205.0 1672.0,213.0 1672.0,226.0" fill="#ff40f6" opacity="0.9"/>
<polyline points="1624.0,400.0 1624.0,478.0" stroke="#e070e8" stroke-width="3" fill="none" opacity="0.8"/>
<polyline points="1621.0,330.0 1626.0,150.0" stroke="#ff80f8" stroke-width="3" fill="none" opacity="0.6"/>
<polyline points="1646.0,219.0 1652.0,222.2 1658.0,222.3 1664.0,222.2 1670.0,222.7 1676.0,222.9 1682.0,222.4 1688.0,221.9 1694.0,221.5 1700.0,222.9 1706.0,222.0 1712.0,221.7 1718.0,222.1 1724.0,221.6 1730.0,221.3 1736.0,222.2 1742.0,221.4 1748.0,222.6 1754.0,222.5 1760.0,221.7 1766.0,221.9 1772.0,222.9 1778.0,221.6 1784.0,221.7 1790.0,222.0 1796.0,221.5 1802.0,221.5 1808.0,222.8 1814.0,222.2 1820.0,222.3 1826.0,222.5 1832.0,221.3 1838.0,221.8 1844.0,221.1 1850.0,223.0 1856.0,221.7 1862.0,222.1 1868.0,222.2 1874.0,221.3 1880.0,222.4 1886.0,222.8 1892.0,222.8 1898.0,221.2 1904.0,221.4 1910.0,221.9 1916.0,222.1 1922.0,221.2 1928.0,222.6 1934.0,222.6 1940.0,221.5 1946.0,222.6 1952.0,221.3 1958.0,221.1 1964.0,222.9 1970.0,221.7 1976.0,221.7 1982.0,222.7 1985.0,222.0" stroke="#ff0cf4" stroke-width="15" fill="none" stroke-linejoin="round"/>
<polyline points="1664.0,214.6 1665.2,231.6 1666.6,213.0 1667.8,229.7 1669.2,213.0 1670.4,230.9 1671.8,212.4 1673.0,231.2 1674.4,213.7 1675.6,231.6 1677.0,212.7 1678.2,232.0 1679.6,215.0 1680.8,229.2 1682.2,212.4 1683.4,230.8 1684.8,214.1 1686.0,229.9 1687.4,212.8 1688.6,231.8 1690.0,213.4 1691.2,229.0 1692.6,213.0 1693.8,229.4 1695.2,213.5 1696.4,230.8 1697.8,212.1 1699.0,228.8 1700.4,214.8 1701.6,231.7 1703.0,213.5 1704.2,229.6 1705.6,214.3 1706.8,230.1 1708.2,212.1 1709.4,230.9 1710.8,213.0 1712.0,231.7 1713.4,212.6 1714.6,229.6 1716.0,214.9 1717.2,231.6 1718.6,213.6 1719.8,231.2 1721.2,213.3 1722.4,229.3 1723.8,215.4 1725.0,228.7 1726.4,213.9 1727.6,231.6 1729.0,214.5 1730.2,230.3 1731.6,215.2 1732.8,229.3 1734.2,215.3 1735.4,229.0 1736.8,215.3 1738.0,228.8 1739.4,212.6 1740.6,230.5 1742.0,213.0 1743.2,228.5 1744.6,214.6 1745.8,230.7 1747.2,215.4 1748.4,229.6 1749.8,215.4 1751.0,229.6 1752.4,212.5 1753.6,228.6 1755.0,213.8 1756.2,230.6 1757.6,212.7 1758.8,229.1 1760.2,212.5 1761.4,231.3 1762.8,215.2 1764.0,230.6 1765.4,212.8 1766.6,232.0 1768.0,214.1 1769.2,231.8 1770.6,212.4 1771.8,228.6 1773.2,214.4 1774.4,230.8 1775.8,214.4 1777.0,230.0 1778.4,213.0 1779.6,231.4 1781.0,215.0 1782.2,228.6 1783.6,214.8 1784.8,230.4 1786.2,212.6 1787.4,229.8 1788.8,214.2 1790.0,229.7 1791.4,213.1 1792.6,231.5 1794.0,215.0 1795.2,231.9 1796.6,213.5 1797.8,229.3 1799.2,213.3 1800.4,231.3 1801.8,213.8 1803.0,228.6 1804.4,213.2 1805.6,230.8 1807.0,213.6 1808.2,231.0 1809.6,213.5 1810.8,229.8 1812.2,213.6 1813.4,229.5 1814.8,214.6 1816.0,230.5 1817.4,215.2 1818.6,231.3 1820.0,212.1 1821.2,229.0 1822.6,213.3 1823.8,229.9 1825.2,212.1 1826.4,231.8 1827.8,213.3 1829.0,228.9 1830.4,213.6 1831.6,229.2 1833.0,212.8 1834.2,229.4 1835.6,213.4 1836.8,231.1 1838.2,212.3 1839.4,231.5 1840.8,212.5 1842.0,231.2 1843.4,213.7 1844.6,229.7 1846.0,213.0 1847.2,230.0 1848.6,212.5 1849.8,229.2 1851.2,212.3 1852.4,231.7 1853.8,214.1 1855.0,229.2 1856.4,212.7 1857.6,228.6 1859.0,213.2 1860.2,228.6 1861.6,212.7 1862.8,231.7 1864.2,213.1 1865.4,229.7 1866.8,214.7 1868.0,229.8 1869.4,212.3 1870.6,229.8 1872.0,213.2 1873.2,231.5 1874.6,215.4 1875.8,228.6 1877.2,213.0 1878.4,229.3 1879.8,214.3 1881.0,229.6 1882.4,214.0 1883.6,229.5 1885.0,212.4 1886.2,230.2 1887.6,212.1 1888.8,231.3 1890.2,213.8 1891.4,231.8 1892.8,212.8 1894.0,231.8 1895.4,215.0 1896.6,229.6 1898.0,215.2 1899.2,228.5 1900.6,212.4 1901.8,229.4 1903.2,214.4 1904.4,230.6 1905.8,212.2 1907.0,229.2 1908.4,215.3 1909.6,231.2 1911.0,212.5 1912.2,231.1 1913.6,215.3 1914.8,231.2 1916.2,214.0 1917.4,230.0 1918.8,215.0 1920.0,231.8 1921.4,213.1 1922.6,231.3 1924.0,215.0 1925.2,231.7 1926.6,215.0 1927.8,229.6 1929.2,213.7 1930.4,229.7 1931.8,212.9 1933.0,230.1 1934.4,214.1 1935.6,229.9 1937.0,213.3 1938.2,230.8 1939.6,214.1 1940.8,229.7 1942.2,212.4 1943.4,230.5 1944.8,214.8 1946.0,230.7 1947.4,215.4 1948.6,229.0 1950.0,213.4 1951.2,230.5 1952.6,213.1 1953.8,231.0 1955.2,215.3 1956.4,231.6 1957.8,215.3 1959.0,228.9 1960.4,212.1 1961.6,231.9 1963.0,213.7 1964.2,228.5 1965.6,214.7 1966.8,230.4 1968.2,213.3 1969.4,230.4 1970.8,212.0 1972.0,230.4 1973.4,212.6 1974.6,231.9 1976.0,215.2 1977.2,231.9 1978.6,212.5 1979.8,231.9" stroke="#ff0cf4" stroke-width="1.6" fill="none" opacity="0.75"/>
<polyline points="1981.0,221.0 1993.0,229.0 2005.0,243.0 2014.0,251.0" stroke="#ff0cf4" stroke-width="11" fill="none" stroke-linejoin="round" stroke-linecap="round"/>
<polyline points="2014.0,250.0 2018.0,300.0 2025.0,370.0 2030.0,425.0" stroke="#f84af0" stroke-width="6" fill="none" stroke-linejoin="round"/>
<polyline points="2037.0,430.0 2043.0,429.4 2049.0,429.1 2055.0,430.2 2061.0,428.8 2067.0,429.2 2073.0,430.5 2079.0,428.9 2085.0,428.5 2091.0,429.9 2097.0,430.1 2103.0,428.6 2109.0,428.7 2115.0,428.0 2121.0,428.7 2127.0,428.3 2133.0,428.3 2139.0,428.4 2145.0,429.5 2151.0,428.9 2157.0,427.8 2163.0,428.0 2169.0,428.2 2175.0,427.8 2181.0,427.2 2187.0,428.4 2193.0,428.5 2199.0,428.3 2205.0,428.4 2211.0,427.7 2217.0,426.9 2223.0,427.3 2229.0,428.2 2235.0,427.5 2241.0,427.5 2247.0,427.9 2253.0,427.5 2259.0,427.1 2265.0,425.8 2271.0,426.8 2277.0,425.6 2283.0,426.8 2289.0,426.1 2295.0,426.3 2301.0,426.5 2307.0,425.9 2313.0,426.3 2319.0,425.8 2325.0,425.9 2331.0,425.6 2337.0,425.9 2343.0,425.4 2349.0,425.1 2355.0,425.4 2361.0,425.0 2367.0,425.8 2373.0,425.6 2376.0,425.0 2386.0,422.0 2394.0,416.0 2400.0,408.0" stroke="#ff0cf4" stroke-width="17" fill="none" stroke-linejoin="round" stroke-linecap="round"/>
<polyline points="2049.0,418.5 2050.2,438.7 2051.6,422.1 2052.8,440.8 2054.2,421.1 2055.4,439.6 2056.8,418.6 2058.0,437.5 2059.4,418.7 2060.6,439.6 2062.0,418.1 2063.2,439.9 2064.6,421.0 2065.8,440.1 2067.2,418.3 2068.4,438.4 2069.8,419.4 2071.0,439.1 2072.4,417.6 2073.6,437.3 2075.0,418.6 2076.2,438.3 2077.6,421.1 2078.8,437.6 2080.2,420.3 2081.4,439.3 2082.8,421.2 2084.0,439.2 2085.4,421.1 2086.6,440.2 2088.0,418.0 2089.2,439.1 2090.6,417.7 2091.8,437.9 2093.2,420.1 2094.4,439.8 2095.8,419.8 2097.0,438.1 2098.4,418.5 2099.6,438.0 2101.0,420.0 2102.2,438.9 2103.6,419.2 2104.8,437.6 2106.2,418.6 2107.4,437.5 2108.8,420.2 2110.0,438.1 2111.4,421.0 2112.6,438.7 2114.0,418.1 2115.2,437.0 2116.6,419.1 2117.8,436.4 2119.2,420.8 2120.4,438.1 2121.8,418.3 2123.0,438.5 2124.4,418.9 2125.6,439.1 2127.0,420.1 2128.2,438.2 2129.6,421.2 2130.8,437.1 2132.2,418.5 2133.4,437.2 2134.8,418.7 2136.0,439.3 2137.4,419.9 2138.6,437.0 2140.0,419.1 2141.2,437.9 2142.6,418.8 2143.8,436.3 2145.2,420.4 2146.4,439.3 2147.8,419.6 2149.0,438.7 2150.4,416.7 2151.6,438.4 2153.0,419.2 2154.2,436.0 2155.6,417.4 2156.8,439.2 2158.2,418.8 2159.4,437.9 2160.8,419.6 2162.0,436.6 2163.4,416.9 2164.6,436.1 2166.0,417.9 2167.2,439.1 2168.6,416.8 2169.8,437.6 2171.2,420.3 2172.4,436.3 2173.8,416.7 2175.0,435.8 2176.4,418.5 2177.6,436.9 2179.0,418.6 2180.2,438.7 2181.6,417.5 2182.8,438.2 2184.2,419.9 2185.4,437.4 2186.8,416.1 2188.0,437.8 2189.4,418.3 2190.6,438.8 2192.0,419.5 2193.2,435.5 2194.6,418.4 2195.8,435.7 2197.2,416.8 2198.4,435.2 2199.8,419.1 2201.0,435.8 2202.4,417.7 2203.6,438.3 2205.0,418.7 2206.2,436.2 2207.6,418.3 2208.8,436.6 2210.2,419.6 2211.4,438.0 2212.8,417.4 2214.0,435.0 2215.4,417.7 2216.6,437.9 2218.0,418.9 2219.2,436.5 2220.6,416.1 2221.8,435.5 2223.2,418.3 2224.4,437.8 2225.8,417.3 2227.0,437.4 2228.4,415.9 2229.6,435.2 2231.0,417.8 2232.2,434.9 2233.6,416.8 2234.8,435.8 2236.2,418.7 2237.4,438.0 2238.8,418.7 2240.0,436.4 2241.4,417.2 2242.6,434.8 2244.0,417.8 2245.2,436.8 2246.6,418.1 2247.8,435.8 2249.2,415.4 2250.4,436.8 2251.8,418.0 2253.0,435.2 2254.4,417.6 2255.6,435.9 2257.0,416.9 2258.2,435.4 2259.6,418.7 2260.8,435.0 2262.2,416.3 2263.4,437.5 2264.8,416.2 2266.0,436.7 2267.4,418.5 2268.6,437.4 2270.0,417.6 2271.2,435.7 2272.6,415.9 2273.8,436.4 2275.2,415.7 2276.4,434.0 2277.8,418.7 2279.0,437.3 2280.4,415.2 2281.6,434.1 2283.0,417.9 2284.2,435.4 2285.6,418.0 2286.8,434.6 2288.2,414.4 2289.4,436.0 2290.8,417.0 2292.0,436.3 2293.4,417.8 2294.6,434.5 2296.0,417.9 2297.2,436.7 2298.6,418.1 2299.8,434.1 2301.2,414.7 2302.4,436.5 2303.8,416.3 2305.0,433.6 2306.4,415.3 2307.6,436.1 2309.0,417.8 2310.2,434.3 2311.6,415.2 2312.8,436.1 2314.2,414.8 2315.4,435.3 2316.8,417.7 2318.0,436.1 2319.4,415.1 2320.6,435.2 2322.0,416.2 2323.2,434.0 2324.6,417.9 2325.8,433.4 2327.2,417.2 2328.4,436.2 2329.8,415.0 2331.0,434.7 2332.4,416.2 2333.6,436.2 2335.0,414.0 2336.2,433.6 2337.6,417.4 2338.8,434.6 2340.2,414.6 2341.4,436.1 2342.8,414.4 2344.0,435.5 2345.4,414.7 2346.6,434.0 2348.0,416.8 2349.2,434.8 2350.6,416.9 2351.8,436.2 2353.2,414.8 2354.4,433.7 2355.8,413.4 2357.0,433.9 2358.4,417.1 2359.6,433.8 2361.0,414.8 2362.2,435.2 2363.6,416.8 2364.8,433.2 2366.2,416.8 2367.4,433.8 2368.8,415.8 2370.0,432.7 2371.4,416.0 2372.6,434.9" stroke="#ff0cf4" stroke-width="1.6" fill="none" opacity="0.75"/>
<polyline points="2402.0,408.0 2407.0,340.0 2411.0,260.0 2414.0,215.0" stroke="#f84af0" stroke-width="6" fill="none" stroke-linejoin="round"/>
<polygon points="2023.0,395.0 2026.0,450.0 2027.0,517.0 2030.0,517.0 2034.0,458.0 2045.0,440.0 2057.0,436.0 2057.0,424.0 2037.0,420.0" fill="#ff40f6" opacity="0.9"/>
<polygon points="2411.0,228.0 2417.0,185.0 2420.0,133.0 2423.0,133.0 2429.0,180.0 2438.0,205.0 2456.0,213.0 2456.0,226.0" fill="#ff40f6" opacity="0.9"/>
<polyline points="2408.0,400.0 2408.0,478.0" stroke="#e070e8" stroke-width="3" fill="none" opacity="0.8"/>
<polyline points="2405.0,330.0 2410.0,150.0" stroke="#ff80f8" stroke-width="3" fill="none" opacity="0.6"/>
<polyline points="2430.0,219.0 2436.0,221.4 2442.0,222.3 2448.0,222.0 2454.0,221.1 2460.0,222.0 2466.0,221.0 2472.0,222.6 2478.0,222.8 2484.0,222.8 2490.0,221.4 2496.0,221.6 2502.0,221.6 2508.0,222.2 2514.0,222.5 2520.0,221.4 2526.0,221.9 2532.0,222.5 2538.0,222.5 2544.0,222.8 2550.0,222.2 2556.0,221.6 2562.0,222.2 2568.0,221.2 2574.0,221.0 2580.0,221.4 2586.0,221.3 2592.0,221.6 2598.0,221.3 2604.0,221.7 2610.0,222.0 2616.0,221.7 2622.0,221.7 2628.0,221.2 2634.0,222.7 2640.0,222.6 2646.0,222.4 2652.0,221.9 2658.0,222.5 2664.0,221.2 2670.0,221.3 2676.0,221.8 2682.0,221.1 2688.0,221.1 2694.0,222.2 2700.0,221.8 2706.0,222.4 2712.0,221.8 2718.0,222.7 2724.0,221.2 2730.0,222.5 2736.0,222.5 2742.0,221.7 2748.0,222.3 2754.0,221.2 2760.0,221.0 2766.0,222.3 2769.0,222.0" stroke="#ff0cf4" stroke-width="15" fill="none" stroke-linejoin="round"/>
<polyline points="2448.0,212.6 2449.2,229.6 2450.6,214.6 2451.8,228.9 2453.2,214.7 2454.4,229.0 2455.8,214.6 2457.0,230.4 2458.4,214.4 2459.6,229.4 2461.0,213.5 2462.2,228.6 2463.6,214.6 2464.8,231.8 2466.2,214.5 2467.4,230.4 2468.8,212.0 2470.0,231.7 2471.4,213.0 2472.6,230.4 2474.0,214.7 2475.2,228.8 2476.6,215.1 2477.8,228.7 2479.2,212.7 2480.4,231.0 2481.8,214.8 2483.0,231.1 2484.4,215.2 2485.6,229.1 2487.0,212.6 2488.2,232.0 2489.6,214.0 2490.8,230.7 2492.2,215.1 2493.4,230.5 2494.8,215.1 2496.0,230.8 2497.4,214.7 2498.6,229.4 2500.0,212.8 2501.2,230.3 2502.6,212.6 2503.8,231.4 2505.2,215.2 2506.4,229.7 2507.8,215.2 2509.0,229.3 2510.4,212.8 2511.6,229.1 2513.0,214.4 2514.2,228.8 2515.6,212.8 2516.8,230.6 2518.2,214.9 2519.4,229.6 2520.8,212.2 2522.0,231.3 2523.4,215.4 2524.6,231.3 2526.0,215.0 2527.2,230.3 2528.6,214.9 2529.8,231.3 2531.2,212.8 2532.4,229.2 2533.8,212.3 2535.0,230.9 2536.4,213.0 2537.6,228.7 2539.0,215.5 2540.2,231.6 2541.6,215.4 2542.8,230.3 2544.2,214.3 2545.4,228.7 2546.8,213.4 2548.0,228.7 2549.4,212.5 2550.6,228.7 2552.0,214.2 2553.2,229.9 2554.6,213.2 2555.8,231.9 2557.2,213.5 2558.4,231.3 2559.8,213.8 2561.0,231.2 2562.4,213.8 2563.6,229.4 2565.0,213.1 2566.2,229.6 2567.6,215.3 2568.8,230.1 2570.2,212.7 2571.4,230.9 2572.8,214.9 2574.0,229.9 2575.4,213.3 2576.6,231.8 2578.0,213.7 2579.2,231.1 2580.6,213.4 2581.8,230.8 2583.2,213.3 2584.4,228.7 2585.8,212.8 2587.0,231.3 2588.4,212.9 2589.6,231.5 2591.0,214.7 2592.2,230.6 2593.6,213.5 2594.8,231.6 2596.2,213.5 2597.4,231.8 2598.8,212.4 2600.0,228.7 2601.4,213.2 2602.6,229.9 2604.0,213.3 2605.2,231.2 2606.6,214.3 2607.8,229.8 2609.2,212.2 2610.4,229.3 2611.8,213.1 2613.0,231.3 2614.4,213.2 2615.6,231.7 2617.0,214.0 2618.2,229.6 2619.6,214.4 2620.8,230.6 2622.2,212.2 2623.4,231.6 2624.8,213.8 2626.0,229.9 2627.4,214.5 2628.6,229.0 2630.0,213.6 2631.2,228.8 2632.6,214.1 2633.8,230.1 2635.2,215.4 2636.4,229.7 2637.8,212.0 2639.0,229.2 2640.4,212.4 2641.6,229.9 2643.0,213.6 2644.2,229.3 2645.6,214.7 2646.8,230.7 2648.2,214.2 2649.4,231.6 2650.8,214.1 2652.0,229.7 2653.4,215.0 2654.6,229.1 2656.0,214.3 2657.2,231.4 2658.6,212.4 2659.8,231.9 2661.2,214.4 2662.4,229.6 2663.8,212.4 2665.0,231.3 2666.4,213.4 2667.6,231.5 2669.0,212.1 2670.2,229.9 2671.6,215.5 2672.8,231.5 2674.2,215.1 2675.4,229.4 2676.8,213.5 2678.0,230.8 2679.4,212.9 2680.6,230.9 2682.0,212.1 2683.2,231.1 2684.6,212.9 2685.8,230.8 2687.2,215.0 2688.4,231.1 2689.8,214.6 2691.0,230.0 2692.4,213.7 2693.6,229.7 2695.0,214.6 2696.2,229.5 2697.6,214.4 2698.8,231.0 2700.2,213.1 2701.4,231.8 2702.8,212.7 2704.0,228.7 2705.4,213.2 2706.6,230.2 2708.0,213.1 2709.2,228.6 2710.6,212.4 2711.8,231.6 2713.2,215.1 2714.4,229.8 2715.8,214.4 2717.0,230.3 2718.4,215.0 2719.6,230.6 2721.0,213.9 2722.2,231.8 2723.6,213.8 2724.8,228.5 2726.2,212.2 2727.4,229.5 2728.8,214.8 2730.0,231.7 2731.4,213.7 2732.6,232.0 2734.0,214.9 2735.2,230.6 2736.6,212.1 2737.8,230.7 2739.2,214.7 2740.4,231.2 2741.8,215.4 2743.0,230.4 2744.4,214.1 2745.6,228.8 2747.0,212.2 2748.2,230.7 2749.6,213.8 2750.8,231.9 2752.2,214.2 2753.4,231.7 2754.8,214.4 2756.0,231.4 2757.4,213.8 2758.6,228.7 2760.0,213.6 2761.2,231.6 2762.6,214.8 2763.8,231.3" stroke="#ff0cf4" stroke-width="1.6" fill="none" opacity="0.75"/>
<polyline points="2765.0,221.0 2777.0,229.0 2789.0,243.0 2798.0,251.0" stroke="#ff0cf4" stroke-width="11" fill="none" stroke-linejoin="round" stroke-linecap="round"/>
<polyline points="2798.0,250.0 2802.0,300.0 2809.0,370.0 2814.0,425.0" stroke="#f84af0" stroke-width="6" fill="none" stroke-linejoin="round"/>
<polyline points="2821.0,430.0 2827.0,429.1 2833.0,429.5 2839.0,429.9 2845.0,430.1 2851.0,430.5 2857.0,429.7 2863.0,430.4 2869.0,429.9 2875.0,429.0 2881.0,429.6 2887.0,428.6 2893.0,429.8 2899.0,428.9 2905.0,429.1 2911.0,429.6 2917.0,428.5 2923.0,428.9 2929.0,428.2 2935.0,428.0 2941.0,428.9 2947.0,428.1 2953.0,427.3 2959.0,428.9 2965.0,428.2 2971.0,427.8 2977.0,427.6 2983.0,427.0 2989.0,428.4 2995.0,426.6 3001.0,426.9 3007.0,427.4 3013.0,427.5 3019.0,427.8 3025.0,426.9 3031.0,426.1 3037.0,426.6 3043.0,427.2 3049.0,426.5 3055.0,427.2 3061.0,427.2 3067.0,425.6 3073.0,426.2 3079.0,425.2 3085.0,426.2 3091.0,426.4 3097.0,425.6 3103.0,426.1 3109.0,425.5 3115.0,426.6 3121.0,426.4 3127.0,426.2 3133.0,424.6 3139.0,425.5 3145.0,425.9 3151.0,425.8 3157.0,425.5 3160.0,425.0 3170.0,422.0 3178.0,416.0 3184.0,408.0" stroke="#ff0cf4" stroke-width="17" fill="none" stroke-linejoin="round" stroke-linecap="round"/>
<polyline points="2833.0,418.2 2834.2,438.0 2835.6,421.6 2836.8,439.9 2838.2,419.0 2839.4,437.7 2840.8,420.5 2842.0,440.2 2843.4,418.7 2844.6,440.2 2846.0,420.4 2847.2,439.0 2848.6,420.7 2849.8,440.2 2851.2,418.9 2852.4,437.6 2853.8,418.8 2855.0,438.5 2856.4,417.9 2857.6,438.1 2859.0,421.1 2860.2,439.4 2861.6,417.8 2862.8,437.2 2864.2,421.9 2865.4,438.9 2866.8,420.8 2868.0,438.4 2869.4,420.9 2870.6,439.4 2872.0,418.3 2873.2,439.2 2874.6,417.9 2875.8,437.2 2877.2,420.7 2878.4,439.7 2879.8,420.6 2881.0,437.1 2882.4,420.4 2883.6,436.8 2885.0,417.3 2886.2,439.9 2887.6,419.9 2888.8,437.6 2890.2,418.6 2891.4,439.6 2892.8,419.8 2894.0,439.6 2895.4,418.3 2896.6,439.2 2898.0,418.7 2899.2,438.2 2900.6,418.7 2901.8,439.6 2903.2,420.0 2904.4,437.6 2905.8,418.8 2907.0,439.4 2908.4,420.9 2909.6,436.4 2911.0,418.9 2912.2,436.7 2913.6,416.9 2914.8,437.0 2916.2,419.1 2917.4,438.8 2918.8,419.1 2920.0,437.9 2921.4,416.7 2922.6,438.1 2924.0,418.4 2925.2,436.2 2926.6,418.6 2927.8,437.6 2929.2,418.8 2930.4,437.0 2931.8,416.7 2933.0,439.3 2934.4,418.5 2935.6,436.7 2937.0,418.3 2938.2,438.7 2939.6,419.5 2940.8,439.2 2942.2,418.2 2943.4,438.3 2944.8,419.7 2946.0,436.3 2947.4,417.0 2948.6,436.6 2950.0,419.0 2951.2,439.0 2952.6,419.4 2953.8,435.9 2955.2,420.1 2956.4,436.9 2957.8,416.2 2959.0,437.0 2960.4,417.5 2961.6,438.6 2963.0,420.2 2964.2,436.8 2965.6,418.0 2966.8,437.7 2968.2,419.2 2969.4,437.6 2970.8,417.8 2972.0,436.9 2973.4,415.9 2974.6,438.4 2976.0,417.5 2977.2,435.9 2978.6,417.5 2979.8,435.6 2981.2,419.4 2982.4,437.8 2983.8,419.8 2985.0,438.3 2986.4,420.0 2987.6,437.8 2989.0,416.5 2990.2,437.7 2991.6,416.5 2992.8,435.7 2994.2,416.6 2995.4,437.9 2996.8,418.6 2998.0,437.7 2999.4,419.8 3000.6,437.5 3002.0,417.1 3003.2,434.9 3004.6,418.2 3005.8,436.3 3007.2,416.0 3008.4,437.0 3009.8,416.4 3011.0,436.6 3012.4,417.2 3013.6,436.9 3015.0,417.1 3016.2,435.8 3017.6,418.0 3018.8,435.0 3020.2,416.3 3021.4,437.0 3022.8,417.7 3024.0,434.7 3025.4,416.3 3026.6,437.2 3028.0,417.9 3029.2,437.5 3030.6,417.8 3031.8,437.5 3033.2,417.2 3034.4,434.7 3035.8,417.8 3037.0,435.5 3038.4,415.3 3039.6,437.7 3041.0,415.5 3042.2,436.1 3043.6,418.1 3044.8,435.6 3046.2,417.6 3047.4,436.5 3048.8,415.0 3050.0,434.8 3051.4,417.9 3052.6,437.0 3054.0,416.8 3055.2,436.8 3056.6,415.8 3057.8,434.6 3059.2,415.0 3060.4,435.5 3061.8,418.4 3063.0,434.4 3064.4,415.7 3065.6,435.8 3067.0,418.8 3068.2,436.7 3069.6,414.5 3070.8,434.2 3072.2,415.3 3073.4,434.5 3074.8,416.2 3076.0,437.0 3077.4,414.9 3078.6,434.9 3080.0,416.2 3081.2,435.3 3082.6,415.2 3083.8,436.8 3085.2,418.6 3086.4,434.3 3087.8,417.0 3089.0,436.7 3090.4,418.1 3091.6,436.6 3093.0,414.3 3094.2,435.0 3095.6,415.9 3096.8,436.7 3098.2,415.3 3099.4,436.6 3100.8,415.0 3102.0,435.4 3103.4,415.1 3104.6,436.4 3106.0,417.6 3107.2,435.6 3108.6,414.4 3109.8,436.7 3111.2,415.0 3112.4,434.9 3113.8,414.2 3115.0,435.3 3116.4,417.6 3117.6,434.9 3119.0,416.4 3120.2,435.6 3121.6,414.5 3122.8,436.2 3124.2,418.0 3125.4,435.0 3126.8,414.6 3128.0,433.8 3129.4,414.6 3130.6,435.2 3132.0,416.8 3133.2,436.1 3134.6,417.0 3135.8,432.9 3137.2,415.7 3138.4,434.2 3139.8,413.6 3141.0,436.2 3142.4,414.3 3143.6,432.9 3145.0,415.2 3146.2,434.7 3147.6,415.8 3148.8,432.8 3150.2,415.5 3151.4,434.3 3152.8,413.3 3154.0,435.3 3155.4,413.6 3156.6,432.9" stroke="#ff0cf4" stroke-width="1.6" fill="none" opacity="0.75"/>
<polyline points="3186.0,408.0 3191.0,340.0 3195.0,260.0 3198.0,215.0" stroke="#f84af0" stroke-width="6" fill="none" stroke-linejoin="round"/>
<polygon points="2807.0,395.0 2810.0,450.0 2811.0,517.0 2814.0,517.0 2818.0,458.0 2829.0,440.0 2841.0,436.0 2841.0,424.0 2821.0,420.0" fill="#ff40f6" opacity="0.9"/>
<polygon points="3195.0,228.0 3201.0,185.0 3204.0,133.0 3207.0,133.0 3213.0,180.0 3222.0,205.0 3240.0,213.0 3240.0,226.0" fill="#ff40f6" opacity="0.9"/>
<polyline points="3192.0,400.0 3192.0,478.0" stroke="#e070e8" stroke-width="3" fill="none" opacity="0.8"/>
<polyline points="3189.0,330.0 3194.0,150.0" stroke="#ff80f8" stroke-width="3" fill="none" opacity="0.6"/>
</g>
<path d="M76,208H2190" stroke="#3c4c66" stroke-width="4" stroke-dasharray="33 8.3" stroke-dashoffset="3.1" fill="none" opacity="0.92"/>
<path d="M76,235.5H2210" stroke="#2c78b8" stroke-width="4" stroke-dasharray="15.5 8.5" stroke-dashoffset="18.6" fill="none" opacity="0.92"/>
<path d="M1690,53V566" stroke="#2468a8" stroke-width="4" stroke-dasharray="34 8" fill="none"/>
<path d="M79,609L113,577L148,611V663" stroke="#6f82b4" stroke-width="3.5" fill="none"/>
<path d="M1654,663V613L1689.5,577.5L1725.5,613V663" stroke="#3a80c4" stroke-width="3.5" fill="none"/>
<path d="M2222.4,173.7L2192.3,207.4L2223.4,242.2M2199.6,244.8L2223.4,269.5" stroke="#5c7894" stroke-width="3.3" fill="none"/>
<path d="M2280,173.7H2221.5M2280,242.2H2222.5M2280,269.6H2222.5" stroke="#1c86d8" stroke-width="4.6" fill="none"/>
<path d="M2236,243v10M2263.4,243v10" stroke="#2a78c8" stroke-width="4" fill="none"/>
<text class="ss" x="89" y="652" font-size="48" fill="#4c80c8" stroke="#4c80c8" stroke-width="0.8" textLength="50" lengthAdjust="spacingAndGlyphs">X1</text>
<text class="ss" x="1662" y="652" font-size="46" fill="#2f7ecc" stroke="#2f7ecc" stroke-width="0.8" textLength="55" lengthAdjust="spacingAndGlyphs">X2</text>
<text class="ss" x="2222" y="225" font-size="45" fill="#4a7ab8" stroke="#4a7ab8" stroke-width="0.8" textLength="53" lengthAdjust="spacingAndGlyphs">Y2</text>
<rect x="49" y="661" width="6" height="6" fill="#c8c8c8"/>
<path d="M74,52.6L2280.5,56.6" stroke="#7c7c7c" stroke-width="5" fill="none"/>
<path d="M2278.2,55L2277.2,665.5" stroke="#6a6a6a" stroke-width="4.6" fill="none"/>
<path d="M74,663.3L2279.5,664" stroke="#444" stroke-width="5" fill="none"/>
<path d="M73,52V665" stroke="#8a8aa0" stroke-width="3" fill="none" opacity="0.7"/>
<path d="M77,51V666" stroke="#0c1646" stroke-width="6" fill="none"/>
<path d="M80.6,57V663" stroke="#fff" stroke-width="2.6" stroke-dasharray="7 27" fill="none" opacity="0.85"/>
<polygon points="57,302 73,316 57,330" fill="#f418ec"/>
<path d="M58,318H45V346H56" stroke="#f040e0" stroke-width="4" fill="none"/>
<polygon points="41,350 60,346 48,362" fill="#1a9a98"/>
<text x="871" y="118" font-size="62" fill="#7030a0" stroke="#7030a0" stroke-width="0.9" textLength="865" lengthAdjust="spacingAndGlyphs">Output voltage of inverter 500V/div</text>
<text x="242" y="583" font-size="62" fill="#00b050" stroke="#00b050" stroke-width="1" textLength="769" lengthAdjust="spacingAndGlyphs">Current of primary coil 20A/div</text>
</g>
<text fill="#000"><tspan x="1127" y="821.8" font-size="86">(</tspan><tspan x="1154.1" y="822.3" font-size="88" font-weight="bold">a</tspan><tspan x="1194.5" y="821.8" font-size="86">)</tspan></text>
<g filter="url(#bB)">
<path d="M326,922V1689M540.8,922V1689M756.3,922V1689M971,922V1689M1186.5,922V1689M1402,922V1689M1617,922V1689M1833,922V1689M2048,922V1689M108,1016.8H2261.5M108,1185H2261.5M108,1353.5H2261.5M108,1521H2261.5" stroke="#d0d0d0" stroke-width="3.6" fill="none"/>
<path d="M164.8,1009.3v15M218.6,1009.3v15M272.5,1009.3v15M380.1,1009.3v15M434.0,1009.3v15M487.9,1009.3v15M595.6,1009.3v15M649.4,1009.3v15M703.2,1009.3v15M811.0,1009.3v15M864.8,1009.3v15M918.6,1009.3v15M1026.4,1009.3v15M1080.2,1009.3v15M1134.0,1009.3v15M1241.8,1009.3v15M1295.6,1009.3v15M1349.5,1009.3v15M1457.2,1009.3v15M1511.0,1009.3v15M1564.9,1009.3v15M1672.6,1009.3v15M1726.4,1009.3v15M1780.3,1009.3v15M1888.0,1009.3v15M1941.8,1009.3v15M1995.7,1009.3v15M2103.3,1009.3v15M2157.2,1009.3v15M2211.1,1009.3v15M1179.5,949.4h14M1179.5,983.1h14M1179.5,1050.5h14M1179.5,1084.2h14M1179.5,1117.8h14M1179.5,1151.5h14M1179.5,1218.9h14M1179.5,1252.6h14M1179.5,1286.2h14M1179.5,1319.9h14M1179.5,1387.3h14M1179.5,1421.0h14M1179.5,1454.6h14M1179.5,1488.3h14M1179.5,1555.7h14M1179.5,1589.4h14M1179.5,1623.0h14M1179.5,1656.7h14" stroke="#cdcdcd" stroke-width="3" fill="none"/>
<g clip-path="url(#cB)">
<polyline points="100.0,1207.7 102.0,1205.9 104.0,1203.3 106.0,1200.8 108.0,1198.1 110.0,1196.9 112.0,1194.7 114.0,1193.1 116.0,1191.2 118.0,1189.3 120.0,1187.7 122.0,1185.5 124.0,1184.5 126.0,1182.7 128.0,1182.4 130.0,1181.6 132.0,1179.2 134.0,1179.3 136.0,1177.8 138.0,1178.4 140.0,1176.7 142.0,1176.3 144.0,1176.4 146.0,1175.6 148.0,1175.3 150.0,1176.5 152.0,1176.0 154.0,1177.1 156.0,1176.3 158.0,1177.7 160.0,1177.1 162.0,1179.0 164.0,1178.8 166.0,1180.8 168.0,1181.6 170.0,1182.2 172.0,1184.3 174.0,1184.5 176.0,1186.1 178.0,1189.0 180.0,1189.9 182.0,1192.1 184.0,1193.4 186.0,1194.8 188.0,1197.5 190.0,1199.7 192.0,1201.4 194.0,1204.1 196.0,1206.3 198.0,1208.8 200.0,1212.0 202.0,1214.1 204.0,1217.5 206.0,1219.8 208.0,1223.0 210.0,1227.1 212.0,1229.9 214.0,1232.9 216.0,1236.2 218.0,1239.4 220.0,1241.8 222.0,1245.9 224.0,1248.6 226.0,1252.3 228.0,1255.9 230.0,1259.1 232.0,1263.5 234.0,1267.2 236.0,1270.0 238.0,1273.6 240.0,1277.3 242.0,1281.8 244.0,1284.8 246.0,1289.6 248.0,1293.0 250.0,1297.5 252.0,1301.2 254.0,1304.2 256.0,1307.6 258.0,1312.5 260.0,1315.6 262.0,1319.0 264.0,1323.6 266.0,1326.4 268.0,1330.3 270.0,1334.8 272.0,1337.2 274.0,1341.7 276.0,1344.7 278.0,1348.5 280.0,1351.3 282.0,1354.8 284.0,1358.2 286.0,1361.8 288.0,1366.2 290.0,1368.7 292.0,1371.6 294.0,1374.7 296.0,1378.2 298.0,1381.5 300.0,1384.2 302.0,1385.8 304.0,1389.9 306.0,1392.5 308.0,1395.1 310.0,1396.1 312.0,1399.1 314.0,1401.3 316.0,1403.8 318.0,1406.0 320.0,1407.8 322.0,1410.5 324.0,1411.5 326.0,1412.9 328.0,1414.9 330.0,1416.2 332.0,1417.9 334.0,1418.7 336.0,1421.1 338.0,1421.2 340.0,1422.3 342.0,1423.3 344.0,1423.7 346.0,1424.5 348.0,1425.8 350.0,1424.9 352.0,1426.0 354.0,1425.6 356.0,1425.3 358.0,1425.9 360.0,1425.8 362.0,1426.0 364.0,1425.3 366.0,1423.8 368.0,1424.4 370.0,1422.6 372.0,1422.1 374.0,1421.1 376.0,1420.9 378.0,1419.3 380.0,1417.0 382.0,1416.8 384.0,1415.5 386.0,1414.0 388.0,1411.3 390.0,1409.3 392.0,1407.1 394.0,1405.6 396.0,1403.0 398.0,1402.1 400.0,1399.5 402.0,1397.5 404.0,1394.3 406.0,1392.2 408.0,1389.9 410.0,1385.7 412.0,1383.5 414.0,1380.8 416.0,1377.4 418.0,1374.2 420.0,1371.8 422.0,1368.6 424.0,1364.9 426.0,1361.7 428.0,1359.3 430.0,1354.7 432.0,1352.3 434.0,1348.3 436.0,1345.4 438.0,1340.9 440.0,1337.3 442.0,1334.5 444.0,1330.7 446.0,1326.6 448.0,1323.7 450.0,1318.6 452.0,1315.0 454.0,1311.0 456.0,1307.6 458.0,1304.5 460.0,1300.3 462.0,1296.6 464.0,1292.6 466.0,1289.1 468.0,1285.4 470.0,1281.3 472.0,1278.5 474.0,1274.0 476.0,1270.0 478.0,1267.1 480.0,1263.4 482.0,1259.3 484.0,1255.9 486.0,1252.9 488.0,1249.6 490.0,1245.3 492.0,1243.0 494.0,1239.7 496.0,1235.5 498.0,1232.9 500.0,1229.7 502.0,1226.2 504.0,1224.1 506.0,1220.9 508.0,1217.5 510.0,1214.9 512.0,1211.9 514.0,1209.1 516.0,1206.6 518.0,1204.1 520.0,1202.3 522.0,1200.2 524.0,1197.0 526.0,1195.2 528.0,1193.1 530.0,1191.8 532.0,1189.7 534.0,1188.4 536.0,1185.9 538.0,1185.4 540.0,1183.0 542.0,1182.7 544.0,1181.5 546.0,1180.8 548.0,1178.7 550.0,1178.0 552.0,1178.5 554.0,1176.8 556.0,1176.1 558.0,1175.9 560.0,1175.5 562.0,1175.7 564.0,1176.6 566.0,1176.8 568.0,1175.9 570.0,1175.9 572.0,1176.5 574.0,1177.3 576.0,1177.7 578.0,1179.8 580.0,1180.3 582.0,1180.8 584.0,1181.3 586.0,1182.6 588.0,1183.9 590.0,1186.5 592.0,1187.5 594.0,1189.4 596.0,1190.9 598.0,1192.0 600.0,1194.3 602.0,1196.7 604.0,1198.9 606.0,1200.9 608.0,1203.0 610.0,1205.9 612.0,1208.7 614.0,1210.4 616.0,1214.4 618.0,1217.0 620.0,1218.5 622.0,1221.8 624.0,1225.3 626.0,1228.6 628.0,1231.2 630.0,1234.8 632.0,1237.3 634.0,1240.5 636.0,1244.4 638.0,1246.9 640.0,1251.5 642.0,1255.2 644.0,1258.1 646.0,1261.0 648.0,1265.5 650.0,1268.3 652.0,1272.6 654.0,1276.9 656.0,1279.9 658.0,1283.8 660.0,1287.9 662.0,1290.6 664.0,1294.4 666.0,1298.3 668.0,1303.4 670.0,1305.7 672.0,1309.5 674.0,1314.6 676.0,1317.5 678.0,1320.9 680.0,1325.6 682.0,1328.2 684.0,1332.9 686.0,1336.6 688.0,1340.4 690.0,1343.3 692.0,1346.8 694.0,1350.8 696.0,1354.6 698.0,1357.4 700.0,1361.4 702.0,1364.3 704.0,1366.8 706.0,1370.9 708.0,1373.4 710.0,1377.0 712.0,1380.2 714.0,1383.1 716.0,1385.8 718.0,1388.1 720.0,1391.0 722.0,1393.5 724.0,1396.2 726.0,1398.6 728.0,1399.9 730.0,1402.4 732.0,1405.4 734.0,1406.3 736.0,1409.8 738.0,1410.6 740.0,1413.3 742.0,1414.4 744.0,1415.5 746.0,1416.5 748.0,1419.0 750.0,1419.9 752.0,1421.4 754.0,1421.2 756.0,1422.3 758.0,1423.3 760.0,1424.0 762.0,1424.6 764.0,1425.7 766.0,1425.0 768.0,1425.4 770.0,1426.4 772.0,1426.7 774.0,1425.9 776.0,1426.1 778.0,1426.0 780.0,1424.8 782.0,1424.6 784.0,1423.9 786.0,1422.0 788.0,1422.4 790.0,1420.0 792.0,1419.8 794.0,1417.7 796.0,1417.3 798.0,1415.5 800.0,1414.2 802.0,1412.5 804.0,1410.3 806.0,1409.1 808.0,1407.4 810.0,1405.5 812.0,1401.8 814.0,1399.5 816.0,1397.5 818.0,1395.5 820.0,1393.2 822.0,1390.6 824.0,1387.6 826.0,1384.1 828.0,1382.8 830.0,1378.8 832.0,1376.5 834.0,1373.5 836.0,1369.2 838.0,1367.5 840.0,1363.0 842.0,1359.5 844.0,1356.6 846.0,1353.4 848.0,1349.9 850.0,1345.7 852.0,1343.1 854.0,1339.9 856.0,1335.2 858.0,1332.3 860.0,1327.7 862.0,1323.9 864.0,1320.9 866.0,1317.7 868.0,1313.8 870.0,1309.6 872.0,1305.4 874.0,1302.0 876.0,1297.7 878.0,1294.7 880.0,1290.3 882.0,1286.3 884.0,1283.7 886.0,1278.9 888.0,1275.8 890.0,1272.6 892.0,1267.9 894.0,1265.5 896.0,1260.5 898.0,1257.7 900.0,1254.6 902.0,1250.6 904.0,1246.3 906.0,1244.3 908.0,1240.5 910.0,1236.8 912.0,1233.4 914.0,1230.6 916.0,1228.4 918.0,1225.2 920.0,1221.5 922.0,1219.0 924.0,1215.4 926.0,1212.6 928.0,1210.4 930.0,1208.4 932.0,1205.4 934.0,1203.1 936.0,1200.8 938.0,1198.1 940.0,1196.3 942.0,1193.8 944.0,1192.2 946.0,1191.2 948.0,1188.9 950.0,1187.4 952.0,1186.2 954.0,1184.4 956.0,1183.3 958.0,1182.1 960.0,1181.0 962.0,1179.0 964.0,1179.1 966.0,1178.0 968.0,1177.6 970.0,1177.5 972.0,1176.7 974.0,1175.9 976.0,1176.7 978.0,1176.2 980.0,1175.9 982.0,1176.2 984.0,1176.5 986.0,1176.6 988.0,1176.7 990.0,1178.1 992.0,1179.3 994.0,1180.0 996.0,1181.0 998.0,1180.7 1000.0,1182.3 1002.0,1184.7 1004.0,1184.7 1006.0,1187.2 1008.0,1188.1 1010.0,1190.0 1012.0,1192.7 1014.0,1193.2 1016.0,1195.9 1018.0,1198.4 1020.0,1200.6 1022.0,1202.4 1024.0,1204.6 1026.0,1207.6 1028.0,1209.2 1030.0,1211.7 1032.0,1214.4 1034.0,1218.2 1036.0,1220.7 1038.0,1223.2 1040.0,1227.4 1042.0,1229.2 1044.0,1232.7 1046.0,1236.1 1048.0,1238.6 1050.0,1243.4 1052.0,1246.7 1054.0,1249.7 1056.0,1252.9 1058.0,1257.2 1060.0,1260.2 1062.0,1262.9 1064.0,1266.5 1066.0,1271.2 1068.0,1274.1 1070.0,1278.8 1072.0,1282.1 1074.0,1285.3 1076.0,1289.6 1078.0,1293.7 1080.0,1297.7 1082.0,1301.3 1084.0,1304.5 1086.0,1308.3 1088.0,1312.4 1090.0,1315.5 1092.0,1319.3 1094.0,1323.1 1096.0,1327.4 1098.0,1331.1 1100.0,1334.8 1102.0,1338.7 1104.0,1342.0 1106.0,1346.1 1108.0,1349.7 1110.0,1352.9 1112.0,1355.7 1114.0,1359.1 1116.0,1362.5 1118.0,1365.0 1120.0,1368.4 1122.0,1372.7 1124.0,1375.1 1126.0,1378.7 1128.0,1381.1 1130.0,1383.3 1132.0,1386.5 1134.0,1389.2 1136.0,1391.7 1138.0,1394.7 1140.0,1397.6 1142.0,1399.8 1144.0,1402.1 1146.0,1404.3 1148.0,1406.9 1150.0,1408.7 1152.0,1409.7 1154.0,1412.4 1156.0,1414.2 1158.0,1415.7 1160.0,1416.2 1162.0,1417.9 1164.0,1418.6 1166.0,1421.1 1168.0,1421.7 1170.0,1421.8 1172.0,1423.8 1174.0,1424.8 1176.0,1425.1 1178.0,1425.7 1180.0,1425.0 1182.0,1425.4 1184.0,1425.5 1186.0,1425.3 1188.0,1426.7 1190.0,1426.5 1192.0,1425.3 1194.0,1425.8 1196.0,1424.4 1198.0,1423.6 1200.0,1422.9 1202.0,1422.2 1204.0,1420.8 1206.0,1420.2 1208.0,1418.7 1210.0,1418.3 1212.0,1416.2 1214.0,1414.8 1216.0,1413.1 1218.0,1411.1 1220.0,1408.9 1222.0,1407.0 1224.0,1405.6 1226.0,1403.2 1228.0,1400.8 1230.0,1398.7 1232.0,1397.3 1234.0,1393.9 1236.0,1392.2 1238.0,1388.8 1240.0,1385.7 1242.0,1383.6 1244.0,1379.9 1246.0,1377.1 1248.0,1374.8 1250.0,1371.2 1252.0,1367.5 1254.0,1365.2 1256.0,1361.3 1258.0,1358.0 1260.0,1354.5 1262.0,1351.8 1264.0,1348.8 1266.0,1344.2 1268.0,1341.2 1270.0,1337.1 1272.0,1333.7 1274.0,1330.1 1276.0,1327.0 1278.0,1322.1 1280.0,1319.0 1282.0,1315.9 1284.0,1311.2 1286.0,1306.8 1288.0,1304.1 1290.0,1300.5 1292.0,1296.2 1294.0,1293.0 1296.0,1287.9 1298.0,1284.8 1300.0,1281.0 1302.0,1277.2 1304.0,1274.4 1306.0,1270.1 1308.0,1265.8 1310.0,1263.2 1312.0,1258.9 1314.0,1255.0 1316.0,1252.1 1318.0,1249.0 1320.0,1244.7 1322.0,1241.1 1324.0,1238.4 1326.0,1235.9 1328.0,1232.0 1330.0,1228.3 1332.0,1226.7 1334.0,1223.7 1336.0,1219.3 1338.0,1216.7 1340.0,1214.9 1342.0,1211.5 1344.0,1209.5 1346.0,1207.0 1348.0,1204.5 1350.0,1201.7 1352.0,1198.9 1354.0,1198.1 1356.0,1195.3 1358.0,1193.7 1360.0,1192.0 1362.0,1189.4 1364.0,1187.3 1366.0,1186.9 1368.0,1184.8 1370.0,1183.2 1372.0,1182.3 1374.0,1181.2 1376.0,1180.5 1378.0,1179.1 1380.0,1178.1 1382.0,1177.4 1384.0,1176.9 1386.0,1176.6 1388.0,1175.7 1390.0,1175.4 1392.0,1175.6 1394.0,1175.8 1396.0,1175.7 1398.0,1177.0 1400.0,1176.6 1402.0,1177.3 1404.0,1177.1 1406.0,1178.2 1408.0,1178.4 1410.0,1180.8 1412.0,1181.5 1414.0,1181.5 1416.0,1183.0 1418.0,1185.4 1420.0,1185.6 1422.0,1187.6 1424.0,1188.8 1426.0,1190.6 1428.0,1193.0 1430.0,1194.5 1432.0,1197.2 1434.0,1198.5 1436.0,1200.7 1438.0,1203.1 1440.0,1205.4 1442.0,1208.8 1444.0,1211.6 1446.0,1214.6 1448.0,1217.4 1450.0,1220.0 1452.0,1222.1 1454.0,1225.7 1456.0,1228.2 1458.0,1232.3 1460.0,1234.9 1462.0,1237.2 1464.0,1241.4 1466.0,1244.2 1468.0,1248.2 1470.0,1251.2 1472.0,1255.3 1474.0,1258.5 1476.0,1261.7 1478.0,1264.9 1480.0,1269.0 1482.0,1273.4 1484.0,1277.0 1486.0,1279.8 1488.0,1284.4 1490.0,1288.7 1492.0,1292.1 1494.0,1295.3 1496.0,1299.3 1498.0,1302.9 1500.0,1307.0 1502.0,1311.2 1504.0,1314.8 1506.0,1318.1 1508.0,1322.2 1510.0,1325.0 1512.0,1329.9 1514.0,1332.4 1516.0,1336.5 1518.0,1339.9 1520.0,1343.2 1522.0,1347.7 1524.0,1350.1 1526.0,1353.9 1528.0,1357.2 1530.0,1360.9 1532.0,1364.8 1534.0,1366.9 1536.0,1370.7 1538.0,1374.6 1540.0,1376.7 1542.0,1380.3 1544.0,1382.1 1546.0,1385.0 1548.0,1388.7 1550.0,1391.1 1552.0,1393.2 1554.0,1396.4 1556.0,1398.1 1558.0,1401.3 1560.0,1402.4 1562.0,1405.2 1564.0,1406.6 1566.0,1408.8 1568.0,1411.8 1570.0,1412.0 1572.0,1414.1 1574.0,1416.2 1576.0,1417.1 1578.0,1418.9 1580.0,1420.0 1582.0,1421.0 1584.0,1422.0 1586.0,1423.2 1588.0,1423.9 1590.0,1424.5 1592.0,1425.7 1594.0,1426.1 1596.0,1426.1 1598.0,1426.6 1600.0,1425.7 1602.0,1426.3 1604.0,1426.5 1606.0,1424.8 1608.0,1425.2 1610.0,1424.5 1612.0,1424.5 1614.0,1423.5 1616.0,1422.3 1618.0,1421.3 1620.0,1421.2 1622.0,1419.6 1624.0,1418.7 1626.0,1417.2 1628.0,1415.2 1630.0,1414.1 1632.0,1412.5 1634.0,1409.9 1636.0,1409.1 1638.0,1405.7 1640.0,1404.0 1642.0,1402.1 1644.0,1399.5 1646.0,1397.1 1648.0,1395.7 1650.0,1392.5 1652.0,1389.8 1654.0,1386.6 1656.0,1385.1 1658.0,1381.1 1660.0,1378.3 1662.0,1375.8 1664.0,1373.2 1666.0,1370.2 1668.0,1366.5 1670.0,1363.5 1672.0,1359.5 1674.0,1356.0 1676.0,1353.5 1678.0,1350.1 1680.0,1346.5 1682.0,1342.0 1684.0,1339.0 1686.0,1334.8 1688.0,1332.4 1690.0,1328.2 1692.0,1324.6 1694.0,1320.0 1696.0,1316.1 1698.0,1313.8 1700.0,1309.5 1702.0,1304.8 1704.0,1301.6 1706.0,1297.4 1708.0,1294.4 1710.0,1289.8 1712.0,1287.3 1714.0,1283.2 1716.0,1279.4 1718.0,1275.1 1720.0,1271.0 1722.0,1268.8 1724.0,1265.1 1726.0,1260.0 1728.0,1256.9 1730.0,1254.4 1732.0,1250.2 1734.0,1247.4 1736.0,1243.5 1738.0,1240.6 1740.0,1237.5 1742.0,1233.2 1744.0,1230.4 1746.0,1227.0 1748.0,1223.6 1750.0,1221.8 1752.0,1218.2 1754.0,1215.9 1756.0,1213.4 1758.0,1210.1 1760.0,1207.7 1762.0,1205.9 1764.0,1203.3 1766.0,1200.1 1768.0,1197.9 1770.0,1196.5 1772.0,1194.3 1774.0,1191.9 1776.0,1189.9 1778.0,1188.9 1780.0,1186.9 1782.0,1186.2 1784.0,1184.7 1786.0,1183.0 1788.0,1182.4 1790.0,1180.1 1792.0,1179.1 1794.0,1178.7 1796.0,1178.6 1798.0,1177.4 1800.0,1176.4 1802.0,1177.2 1804.0,1176.5 1806.0,1175.7 1808.0,1176.4 1810.0,1175.5 1812.0,1175.7 1814.0,1176.5 1816.0,1177.7 1818.0,1177.3 1820.0,1178.3 1822.0,1178.7 1824.0,1180.4 1826.0,1180.7 1828.0,1181.1 1830.0,1182.2 1832.0,1184.9 1834.0,1185.2 1836.0,1187.5 1838.0,1187.9 1840.0,1190.9 1842.0,1191.6 1844.0,1194.6 1846.0,1195.5 1848.0,1198.8 1850.0,1199.9 1852.0,1202.5 1854.0,1205.6 1856.0,1207.9 1858.0,1210.0 1860.0,1212.2 1862.0,1215.1 1864.0,1218.4 1866.0,1220.6 1868.0,1224.2 1870.0,1227.4 1872.0,1230.2 1874.0,1233.7 1876.0,1237.0 1878.0,1240.2 1880.0,1242.3 1882.0,1247.2 1884.0,1250.7 1886.0,1252.7 1888.0,1257.5 1890.0,1259.6 1892.0,1264.0 1894.0,1267.2 1896.0,1271.9 1898.0,1275.2 1900.0,1278.2 1902.0,1281.7 1904.0,1286.0 1906.0,1290.0 1908.0,1293.1 1910.0,1296.9 1912.0,1301.0 1914.0,1305.4 1916.0,1308.2 1918.0,1313.5 1920.0,1316.9 1922.0,1320.5 1924.0,1324.1 1926.0,1328.3 1928.0,1331.3 1930.0,1334.9 1932.0,1339.3 1934.0,1341.7 1936.0,1346.1 1938.0,1349.3 1940.0,1353.3 1942.0,1356.4 1944.0,1360.2 1946.0,1362.7 1948.0,1365.9 1950.0,1368.8 1952.0,1372.1 1954.0,1374.9 1956.0,1377.9 1958.0,1381.7 1960.0,1385.0 1962.0,1387.5 1964.0,1390.3 1966.0,1392.4 1968.0,1395.5 1970.0,1397.9 1972.0,1399.0 1974.0,1402.3 1976.0,1404.3 1978.0,1405.6 1980.0,1409.1 1982.0,1410.3 1984.0,1412.7 1986.0,1414.5 1988.0,1415.5 1990.0,1416.1 1992.0,1418.0 1994.0,1418.9 1996.0,1421.1 1998.0,1421.3 2000.0,1421.8 2002.0,1423.1 2004.0,1424.3 2006.0,1424.0 2008.0,1424.9 2010.0,1425.3 2012.0,1425.5 2014.0,1425.6 2016.0,1426.0 2018.0,1426.1 2020.0,1425.6 2022.0,1426.1 2024.0,1425.5 2026.0,1424.5 2028.0,1424.3 2030.0,1422.6 2032.0,1421.9 2034.0,1421.8 2036.0,1419.5 2038.0,1418.5 2040.0,1417.0 2042.0,1416.2 2044.0,1415.2 2046.0,1412.8 2048.0,1410.7 2050.0,1409.5 2052.0,1407.1 2054.0,1405.2 2056.0,1403.1 2058.0,1401.1 2060.0,1398.8 2062.0,1395.7 2064.0,1393.2 2066.0,1390.7 2068.0,1389.0 2070.0,1385.8 2072.0,1383.2 2074.0,1380.8 2076.0,1377.3 2078.0,1373.5 2080.0,1371.1 2082.0,1368.5 2084.0,1364.1 2086.0,1362.1 2088.0,1358.8 2090.0,1354.0 2092.0,1351.8 2094.0,1347.2 2096.0,1344.1 2098.0,1341.0 2100.0,1337.7 2102.0,1332.9 2104.0,1329.6 2106.0,1326.2 2108.0,1322.2 2110.0,1317.8 2112.0,1314.0 2114.0,1311.4 2116.0,1307.4 2118.0,1304.0 2120.0,1299.1 2122.0,1296.5 2124.0,1291.8 2126.0,1287.6 2128.0,1285.0 2130.0,1280.5 2132.0,1276.6 2134.0,1273.6 2136.0,1269.7 2138.0,1265.3 2140.0,1262.8 2142.0,1258.4 2144.0,1255.2 2146.0,1251.7 2148.0,1248.4 2150.0,1245.2 2152.0,1240.9 2154.0,1238.5 2156.0,1234.5 2158.0,1232.1 2160.0,1228.4 2162.0,1225.6 2164.0,1223.2 2166.0,1219.0 2168.0,1216.2 2170.0,1214.8 2172.0,1211.5 2174.0,1208.4 2176.0,1205.6 2178.0,1203.7 2180.0,1201.4 2182.0,1199.9 2184.0,1196.4 2186.0,1195.0 2188.0,1193.9 2190.0,1191.8 2192.0,1190.1 2194.0,1187.9 2196.0,1185.7 2198.0,1184.6 2200.0,1183.7 2202.0,1183.0 2204.0,1181.2 2206.0,1179.5 2208.0,1179.2 2210.0,1178.4 2212.0,1178.1 2214.0,1177.6 2216.0,1176.4 2218.0,1176.2 2220.0,1176.4 2222.0,1176.0 2224.0,1175.8 2226.0,1175.5 2228.0,1176.5 2230.0,1176.4 2232.0,1177.7 2234.0,1178.3 2236.0,1178.7 2238.0,1179.8 2240.0,1180.2 2242.0,1181.5 2244.0,1182.9 2246.0,1183.2 2248.0,1184.3 2250.0,1186.6 2252.0,1187.5 2254.0,1189.0 2256.0,1191.7 2258.0,1193.5 2260.0,1195.9 2262.0,1197.4 2264.0,1199.8 2266.0,1200.9 2268.0,1204.5" stroke="#e09c00" stroke-width="11.5" fill="none" stroke-linejoin="round"/>
<polyline points="-298.4,1186.3 -297.6,1195.6 -296.7,1182.3 -295.9,1196.0 -295.0,1182.8 -294.2,1192.6 -293.3,1180.6 -292.5,1192.9 -291.6,1181.0 -290.8,1189.2 -289.9,1176.7 -289.1,1187.7 -288.2,1175.5 -287.4,1189.4 -286.5,1174.6 -285.7,1187.2 -284.8,1176.3 -284.0,1186.6 -283.1,1171.6 -282.3,1186.7 -281.4,1174.5 -280.6,1187.7 -279.7,1169.9 -278.9,1185.3 -278.0,1169.5 -277.2,1185.1 -276.3,1168.3 -275.5,1183.0 -274.6,1167.3 -273.8,1182.9 -272.9,1169.7 -272.1,1186.6 -271.2,1170.7 -270.4,1186.6 -269.5,1169.3 -268.7,1186.5 -267.8,1169.5 -267.0,1183.9 -266.1,1167.6 -265.3,1185.9 -264.4,1165.2 -263.6,1186.9 -262.7,1170.1 -261.9,1182.6 -261.0,1167.3 -260.2,1183.8 -259.3,1170.8 -258.5,1185.5 -257.6,1169.8 -256.8,1186.3 -255.9,1169.7 -255.1,1183.4 -254.2,1170.4 -253.4,1184.7 -252.5,1173.5 -251.7,1186.6 -250.8,1174.9 -250.0,1187.8 -249.1,1175.1 -248.3,1185.9 -247.4,1177.0 -246.6,1186.6 -245.7,1175.1 -244.9,1189.8 -244.0,1176.5 -243.2,1190.2 -242.3,1178.3 -241.5,1189.8 -240.6,1181.3 -239.8,1190.7 -238.9,1182.3 -238.1,1191.1 -237.2,1181.0 -236.4,1191.7 -235.5,1182.6 -234.7,1194.5" stroke="#e4a41a" stroke-width="1.6" fill="none" opacity="0.9"/>
<polyline points="-90.9,1407.6 -90.1,1416.8 -89.2,1409.3 -88.4,1420.1 -87.5,1408.5 -86.7,1418.5 -85.8,1410.6 -85.0,1420.2 -84.1,1411.0 -83.3,1422.4 -82.4,1413.0 -81.6,1423.8 -80.7,1413.9 -79.9,1426.6 -79.0,1412.6 -78.2,1424.6 -77.3,1415.2 -76.5,1426.6 -75.6,1417.2 -74.8,1428.3 -73.9,1416.3 -73.1,1428.1 -72.2,1414.7 -71.4,1431.8 -70.5,1417.8 -69.7,1431.9 -68.8,1419.2 -68.0,1430.2 -67.1,1419.6 -66.3,1432.4 -65.4,1417.9 -64.6,1433.2 -63.7,1418.2 -62.9,1432.3 -62.0,1416.6 -61.2,1434.8 -60.3,1417.7 -59.5,1432.5 -58.6,1420.5 -57.8,1436.3 -56.9,1415.9 -56.1,1436.7 -55.2,1418.5 -54.4,1434.7 -53.5,1417.3 -52.7,1434.8 -51.8,1419.6 -51.0,1432.5 -50.1,1419.0 -49.3,1432.0 -48.4,1418.9 -47.6,1430.9 -46.7,1415.2 -45.9,1430.0 -45.0,1414.6 -44.2,1431.4 -43.3,1415.5 -42.5,1429.7 -41.6,1414.8 -40.8,1426.8 -39.9,1415.6 -39.1,1427.1 -38.2,1415.8 -37.4,1426.8 -36.5,1411.8 -35.7,1423.9 -34.8,1411.9 -34.0,1423.5 -33.1,1409.5 -32.3,1423.6 -31.4,1410.0 -30.6,1419.1 -29.7,1406.7 -28.9,1420.3 -28.0,1406.4 -27.2,1418.6" stroke="#e4a41a" stroke-width="1.6" fill="none" opacity="0.9"/>
<polyline points="116.5,1186.5 117.3,1196.3 118.2,1181.7 119.0,1193.7 119.9,1183.1 120.7,1192.6 121.6,1180.1 122.4,1192.5 123.3,1179.5 124.1,1190.4 125.0,1178.5 125.8,1188.6 126.7,1177.6 127.5,1187.2 128.4,1174.6 129.2,1188.9 130.1,1172.7 130.9,1187.8 131.8,1173.2 132.6,1187.1 133.5,1173.6 134.3,1186.5 135.2,1171.5 136.0,1187.8 136.9,1171.5 137.7,1184.6 138.6,1167.4 139.4,1186.0 140.3,1171.6 141.1,1184.6 142.0,1168.7 142.8,1185.3 143.7,1166.6 144.5,1182.0 145.4,1169.1 146.2,1182.0 147.1,1169.4 147.9,1184.3 148.8,1168.9 149.6,1186.5 150.5,1168.3 151.3,1182.0 152.2,1166.8 153.0,1182.5 153.9,1170.0 154.7,1182.2 155.6,1170.7 156.4,1184.7 157.3,1168.2 158.1,1184.0 159.0,1172.0 159.8,1184.1 160.7,1171.3 161.5,1183.5 162.4,1173.8 163.2,1184.9 164.1,1171.2 164.9,1185.7 165.8,1172.9 166.6,1186.2 167.5,1172.9 168.3,1186.4 169.2,1176.2 170.0,1186.8 170.9,1176.2 171.7,1190.8 172.6,1176.9 173.4,1191.0 174.3,1181.2 175.1,1191.9 176.0,1180.0 176.8,1193.2 177.7,1184.1 178.5,1192.8 179.4,1184.5 180.2,1194.0" stroke="#e4a41a" stroke-width="1.6" fill="none" opacity="0.9"/>
<polyline points="323.9,1407.2 324.8,1418.1 325.6,1407.4 326.4,1418.1 327.3,1408.5 328.1,1419.3 329.0,1412.0 329.8,1422.1 330.7,1411.6 331.5,1423.2 332.4,1412.9 333.2,1424.0 334.1,1413.0 334.9,1424.1 335.8,1415.3 336.6,1426.9 337.5,1414.6 338.3,1427.4 339.2,1416.1 340.0,1429.4 340.9,1414.1 341.7,1427.7 342.6,1414.8 343.4,1430.8 344.3,1415.6 345.1,1431.7 346.0,1416.2 346.8,1432.7 347.7,1416.6 348.5,1432.7 349.4,1417.9 350.2,1434.1 351.1,1417.1 351.9,1432.2 352.8,1415.1 353.6,1433.9 354.5,1415.6 355.3,1433.2 356.2,1416.2 357.0,1435.3 357.9,1418.9 358.7,1435.2 359.6,1419.6 360.4,1435.3 361.3,1416.0 362.1,1434.2 363.0,1415.7 363.8,1432.0 364.7,1417.3 365.5,1430.9 366.4,1415.0 367.2,1434.2 368.1,1417.2 368.9,1428.7 369.8,1417.3 370.6,1432.1 371.5,1417.2 372.3,1427.6 373.2,1415.7 374.0,1427.3 374.9,1415.2 375.7,1427.5 376.6,1412.0 377.4,1425.2 378.3,1412.0 379.1,1424.4 380.0,1411.5 380.8,1423.3 381.7,1409.5 382.5,1423.2 383.4,1409.1 384.2,1422.4 385.1,1409.1 385.9,1420.0 386.8,1405.5 387.6,1418.8" stroke="#e4a41a" stroke-width="1.6" fill="none" opacity="0.9"/>
<polyline points="531.4,1186.0 532.2,1194.8 533.1,1182.5 533.9,1195.4 534.8,1182.9 535.6,1192.5 536.5,1179.8 537.3,1192.3 538.2,1180.1 539.0,1190.7 539.9,1176.3 540.7,1188.2 541.6,1177.3 542.4,1189.2 543.3,1176.3 544.1,1187.9 545.0,1174.8 545.8,1185.4 546.7,1171.6 547.5,1186.5 548.4,1173.1 549.2,1186.0 550.1,1170.0 550.9,1183.4 551.8,1171.1 552.6,1185.7 553.5,1171.1 554.3,1183.3 555.2,1169.3 556.0,1186.8 556.9,1170.1 557.7,1183.2 558.6,1167.3 559.4,1183.0 560.3,1169.3 561.1,1182.9 562.0,1169.5 562.8,1184.4 563.7,1169.8 564.5,1185.2 565.4,1167.9 566.2,1186.2 567.1,1168.8 567.9,1181.9 568.8,1167.5 569.6,1183.0 570.5,1168.8 571.3,1184.4 572.2,1171.8 573.0,1183.9 573.9,1172.2 574.7,1184.2 575.6,1171.1 576.4,1185.3 577.3,1170.1 578.1,1187.7 579.0,1172.2 579.8,1186.2 580.7,1175.3 581.5,1186.2 582.4,1175.7 583.2,1187.7 584.1,1176.7 584.9,1186.4 585.8,1177.3 586.6,1190.1 587.5,1179.6 588.3,1191.0 589.2,1181.6 590.0,1191.0 590.9,1181.2 591.7,1191.1 592.6,1182.5 593.4,1195.2 594.3,1183.3 595.1,1194.7" stroke="#e4a41a" stroke-width="1.6" fill="none" opacity="0.9"/>
<polyline points="738.8,1404.6 739.6,1416.0 740.5,1406.7 741.3,1417.9 742.2,1410.3 743.0,1418.8 744.0,1410.0 744.8,1421.9 745.7,1411.9 746.5,1421.1 747.4,1413.9 748.2,1424.1 749.1,1414.1 749.9,1425.7 750.8,1412.9 751.6,1426.2 752.5,1415.8 753.3,1426.8 754.2,1414.1 755.0,1430.0 755.9,1417.4 756.7,1428.1 757.6,1417.9 758.4,1429.7 759.3,1416.5 760.1,1429.8 761.0,1416.0 761.8,1429.9 762.7,1416.5 763.5,1432.9 764.4,1415.7 765.2,1430.9 766.1,1419.6 766.9,1433.9 767.8,1417.8 768.6,1436.4 769.5,1416.9 770.3,1432.8 771.2,1415.5 772.0,1433.8 772.9,1417.4 773.7,1434.3 774.6,1418.9 775.4,1433.7 776.3,1419.2 777.1,1435.5 778.0,1418.8 778.8,1430.6 779.7,1416.6 780.5,1433.4 781.4,1418.2 782.2,1431.7 783.1,1417.4 783.9,1432.9 784.8,1416.6 785.6,1431.1 786.5,1415.8 787.3,1431.4 788.2,1415.3 789.0,1428.5 789.9,1413.2 790.7,1428.6 791.6,1414.2 792.4,1424.5 793.3,1411.9 794.1,1423.5 795.0,1411.0 795.8,1423.1 796.7,1409.5 797.5,1422.2 798.4,1408.2 799.2,1420.0 800.1,1410.0 800.9,1418.0 801.8,1405.6 802.6,1417.5" stroke="#e4a41a" stroke-width="1.6" fill="none" opacity="0.9"/>
<polyline points="946.3,1186.5 947.1,1197.0 948.0,1183.4 948.8,1193.2 949.7,1182.0 950.5,1191.7 951.4,1182.2 952.2,1190.8 953.1,1180.3 953.9,1189.0 954.8,1179.3 955.6,1188.1 956.5,1176.9 957.3,1190.2 958.2,1175.0 959.0,1189.4 959.9,1175.7 960.7,1186.7 961.6,1172.4 962.4,1187.1 963.3,1174.1 964.1,1186.8 965.0,1171.7 965.8,1185.4 966.7,1172.9 967.5,1185.4 968.4,1171.4 969.2,1184.0 970.1,1167.2 970.9,1185.8 971.8,1169.0 972.6,1182.5 973.5,1167.0 974.3,1183.5 975.2,1167.9 976.0,1186.7 976.9,1167.4 977.7,1182.3 978.6,1166.7 979.4,1181.8 980.3,1169.1 981.1,1181.6 982.0,1167.7 982.8,1183.9 983.7,1170.8 984.5,1183.5 985.4,1168.2 986.2,1182.3 987.1,1170.8 987.9,1184.8 988.8,1170.1 989.6,1183.2 990.5,1172.1 991.3,1184.3 992.2,1171.4 993.0,1185.4 993.9,1173.6 994.7,1184.4 995.6,1173.8 996.4,1185.3 997.3,1176.5 998.1,1185.4 999.0,1175.8 999.8,1186.7 1000.7,1179.0 1001.5,1189.8 1002.4,1177.1 1003.2,1190.6 1004.1,1178.2 1004.9,1192.6 1005.8,1182.1 1006.6,1192.8 1007.5,1182.7 1008.3,1194.7 1009.2,1182.7 1010.0,1196.3" stroke="#e4a41a" stroke-width="1.6" fill="none" opacity="0.9"/>
<polyline points="1153.8,1406.4 1154.5,1415.6 1155.5,1408.8 1156.2,1419.6 1157.2,1407.9 1158.0,1419.5 1158.9,1410.8 1159.7,1422.5 1160.6,1410.6 1161.4,1423.8 1162.3,1410.8 1163.1,1425.8 1164.0,1413.6 1164.8,1424.1 1165.7,1413.2 1166.5,1426.1 1167.4,1414.5 1168.2,1428.7 1169.1,1413.6 1169.9,1429.7 1170.8,1417.7 1171.6,1430.4 1172.5,1418.8 1173.3,1430.0 1174.2,1416.8 1175.0,1432.4 1175.9,1414.6 1176.7,1432.5 1177.6,1417.7 1178.4,1431.3 1179.3,1415.4 1180.1,1431.1 1181.0,1417.0 1181.8,1435.6 1182.7,1416.5 1183.5,1434.1 1184.4,1415.2 1185.2,1435.4 1186.1,1420.1 1186.9,1436.3 1187.8,1420.4 1188.6,1432.8 1189.5,1415.3 1190.3,1432.2 1191.2,1417.6 1192.0,1435.4 1192.9,1417.7 1193.7,1432.2 1194.6,1418.8 1195.4,1434.3 1196.3,1416.9 1197.1,1430.1 1198.0,1414.4 1198.8,1429.9 1199.7,1414.4 1200.5,1431.0 1201.4,1416.1 1202.2,1430.2 1203.1,1416.2 1203.9,1429.0 1204.8,1415.8 1205.6,1427.5 1206.5,1413.5 1207.3,1425.7 1208.2,1411.5 1209.0,1425.6 1209.9,1413.3 1210.7,1424.7 1211.6,1411.7 1212.4,1423.5 1213.3,1408.0 1214.1,1419.6 1215.0,1409.0 1215.8,1417.8 1216.7,1406.0 1217.5,1418.5" stroke="#e4a41a" stroke-width="1.6" fill="none" opacity="0.9"/>
<polyline points="1361.2,1186.2 1362.0,1197.3 1362.9,1184.1 1363.7,1193.3 1364.6,1180.3 1365.4,1194.2 1366.3,1182.0 1367.1,1193.3 1368.0,1177.4 1368.8,1191.9 1369.7,1178.0 1370.5,1190.0 1371.4,1178.2 1372.2,1189.3 1373.1,1173.7 1373.9,1189.0 1374.8,1175.5 1375.6,1187.9 1376.5,1172.4 1377.3,1185.1 1378.2,1170.4 1379.0,1184.1 1379.9,1173.4 1380.7,1184.6 1381.6,1170.7 1382.4,1185.6 1383.3,1167.5 1384.1,1186.5 1385.0,1167.8 1385.8,1185.6 1386.7,1167.7 1387.5,1182.1 1388.4,1167.0 1389.2,1184.7 1390.1,1167.1 1390.9,1184.7 1391.8,1170.4 1392.6,1184.6 1393.5,1165.7 1394.3,1181.9 1395.2,1167.1 1396.0,1186.3 1396.9,1169.7 1397.7,1184.3 1398.6,1168.2 1399.4,1186.0 1400.3,1169.1 1401.1,1186.4 1402.0,1170.5 1402.8,1187.2 1403.7,1168.9 1404.5,1184.5 1405.4,1169.6 1406.2,1186.6 1407.1,1171.6 1407.9,1186.6 1408.8,1171.7 1409.6,1188.1 1410.5,1172.3 1411.3,1187.2 1412.2,1174.0 1413.0,1186.6 1413.9,1177.0 1414.7,1188.6 1415.6,1178.3 1416.4,1190.1 1417.3,1180.1 1418.1,1189.5 1419.0,1179.5 1419.8,1191.6 1420.7,1181.7 1421.5,1191.4 1422.4,1182.1 1423.2,1194.8 1424.1,1182.4 1424.9,1194.9" stroke="#e4a41a" stroke-width="1.6" fill="none" opacity="0.9"/>
<polyline points="1568.6,1407.0 1569.4,1417.3 1570.3,1406.2 1571.1,1418.7 1572.0,1410.7 1572.8,1419.5 1573.8,1410.1 1574.5,1420.0 1575.5,1409.6 1576.2,1422.4 1577.2,1412.1 1578.0,1422.7 1578.9,1413.8 1579.7,1423.6 1580.6,1413.5 1581.4,1427.7 1582.3,1416.9 1583.1,1425.6 1584.0,1416.9 1584.8,1427.7 1585.7,1414.6 1586.5,1431.2 1587.4,1414.3 1588.2,1430.5 1589.1,1418.5 1589.9,1433.2 1590.8,1416.4 1591.6,1432.3 1592.5,1418.4 1593.3,1431.1 1594.2,1417.8 1595.0,1433.0 1595.9,1419.3 1596.7,1432.7 1597.6,1419.7 1598.4,1433.1 1599.3,1419.2 1600.1,1433.5 1601.0,1416.2 1601.8,1434.4 1602.7,1417.1 1603.5,1433.9 1604.4,1416.3 1605.2,1431.7 1606.1,1416.3 1606.9,1433.9 1607.8,1416.8 1608.6,1435.0 1609.5,1416.9 1610.3,1433.1 1611.2,1418.8 1612.0,1431.0 1612.9,1415.0 1613.7,1428.7 1614.6,1418.2 1615.4,1428.7 1616.3,1413.9 1617.1,1428.8 1618.0,1413.4 1618.8,1427.1 1619.7,1416.5 1620.5,1428.1 1621.4,1414.8 1622.2,1424.4 1623.1,1413.6 1623.9,1425.4 1624.8,1410.4 1625.6,1423.4 1626.5,1410.4 1627.3,1420.5 1628.2,1410.5 1629.0,1421.6 1629.9,1410.0 1630.7,1418.8 1631.6,1408.8 1632.4,1418.7" stroke="#e4a41a" stroke-width="1.6" fill="none" opacity="0.9"/>
<polyline points="1776.1,1184.9 1776.9,1196.4 1777.8,1184.0 1778.6,1194.6 1779.5,1181.7 1780.3,1192.8 1781.2,1182.0 1782.0,1190.2 1782.9,1177.9 1783.7,1191.2 1784.6,1177.3 1785.4,1190.2 1786.3,1177.1 1787.1,1186.9 1788.0,1173.9 1788.8,1187.0 1789.7,1172.8 1790.5,1185.8 1791.4,1171.7 1792.2,1186.7 1793.1,1174.1 1793.9,1184.8 1794.8,1170.7 1795.6,1187.6 1796.5,1171.0 1797.3,1185.7 1798.2,1168.3 1799.0,1182.4 1799.9,1170.6 1800.7,1183.2 1801.6,1167.5 1802.4,1185.8 1803.3,1166.0 1804.1,1183.7 1805.0,1165.9 1805.8,1182.4 1806.7,1165.9 1807.5,1186.2 1808.4,1166.3 1809.2,1184.7 1810.1,1165.3 1810.9,1186.0 1811.8,1170.8 1812.6,1186.1 1813.5,1169.9 1814.3,1183.4 1815.2,1168.6 1816.0,1186.0 1816.9,1167.3 1817.7,1182.4 1818.6,1170.5 1819.4,1183.1 1820.3,1170.4 1821.1,1183.5 1822.0,1171.4 1822.8,1186.4 1823.7,1173.6 1824.5,1186.8 1825.4,1172.9 1826.2,1188.7 1827.1,1174.1 1827.9,1187.6 1828.8,1175.8 1829.6,1186.2 1830.5,1177.3 1831.3,1190.3 1832.2,1178.9 1833.0,1190.2 1833.9,1181.6 1834.7,1191.0 1835.6,1179.6 1836.4,1192.1 1837.3,1184.1 1838.1,1193.1 1839.0,1185.0 1839.8,1195.4" stroke="#e4a41a" stroke-width="1.6" fill="none" opacity="0.9"/>
<polyline points="1983.5,1405.7 1984.3,1416.8 1985.2,1407.5 1986.0,1419.7 1987.0,1407.4 1987.8,1420.2 1988.7,1410.1 1989.5,1421.5 1990.4,1411.4 1991.2,1424.0 1992.1,1410.5 1992.9,1422.9 1993.8,1413.6 1994.6,1424.8 1995.5,1414.1 1996.3,1427.2 1997.2,1414.7 1998.0,1429.2 1998.9,1414.8 1999.7,1427.3 2000.6,1417.2 2001.4,1428.4 2002.3,1417.2 2003.1,1430.0 2004.0,1417.9 2004.8,1429.0 2005.7,1417.5 2006.5,1434.2 2007.4,1415.9 2008.2,1432.2 2009.1,1416.3 2009.9,1434.6 2010.8,1417.2 2011.6,1434.4 2012.5,1419.5 2013.3,1433.8 2014.2,1415.8 2015.0,1433.7 2015.9,1420.0 2016.7,1436.7 2017.6,1418.7 2018.4,1434.9 2019.3,1417.6 2020.1,1431.4 2021.0,1416.4 2021.8,1435.9 2022.7,1415.5 2023.5,1431.7 2024.4,1417.9 2025.2,1433.1 2026.1,1416.5 2026.9,1431.0 2027.8,1416.3 2028.6,1433.0 2029.5,1416.9 2030.3,1431.3 2031.2,1413.9 2032.0,1430.9 2032.9,1416.0 2033.7,1429.1 2034.6,1413.3 2035.4,1425.6 2036.3,1412.7 2037.1,1424.0 2038.0,1411.6 2038.8,1426.2 2039.7,1412.2 2040.5,1425.4 2041.4,1411.6 2042.2,1421.2 2043.1,1409.8 2043.9,1419.0 2044.8,1409.5 2045.6,1419.1 2046.5,1408.0 2047.3,1417.4" stroke="#e4a41a" stroke-width="1.6" fill="none" opacity="0.9"/>
<polyline points="2191.0,1184.9 2191.8,1194.2 2192.7,1183.4 2193.5,1195.1 2194.4,1181.5 2195.2,1191.5 2196.1,1180.5 2196.9,1192.6 2197.8,1179.8 2198.6,1191.0 2199.5,1176.5 2200.3,1190.6 2201.2,1177.4 2202.0,1186.8 2202.9,1176.5 2203.7,1185.9 2204.6,1176.4 2205.4,1185.3 2206.3,1173.2 2207.1,1186.6 2208.0,1172.6 2208.8,1186.4 2209.7,1172.3 2210.5,1185.7 2211.4,1171.9 2212.2,1183.2 2213.1,1167.7 2213.9,1186.1 2214.8,1167.8 2215.6,1186.4 2216.5,1169.0 2217.3,1183.1 2218.2,1170.0 2219.0,1185.5 2219.9,1166.3 2220.7,1186.7 2221.6,1168.7 2222.4,1186.0 2223.3,1167.9 2224.1,1185.8 2225.0,1169.2 2225.8,1184.9 2226.7,1167.7 2227.5,1186.1 2228.4,1170.6 2229.2,1187.0 2230.1,1168.7 2230.9,1186.4 2231.8,1171.7 2232.6,1186.2 2233.5,1168.6 2234.3,1184.2 2235.2,1171.4 2236.0,1186.9 2236.9,1172.8 2237.7,1184.2 2238.6,1172.0 2239.4,1187.6 2240.3,1173.6 2241.1,1185.1 2242.0,1175.1 2242.8,1187.8 2243.7,1175.3 2244.5,1189.0 2245.4,1176.4 2246.2,1190.9 2247.1,1180.3 2247.9,1191.3 2248.8,1180.5 2249.6,1189.4 2250.5,1182.0 2251.3,1191.3 2252.2,1184.0 2253.0,1193.3 2253.9,1182.5 2254.7,1195.3" stroke="#e4a41a" stroke-width="1.6" fill="none" opacity="0.9"/>
<polyline points="2398.4,1407.2 2399.2,1416.0 2400.1,1409.1 2400.9,1418.8 2401.8,1410.4 2402.6,1419.7 2403.5,1408.4 2404.3,1423.0 2405.2,1410.2 2406.0,1422.6 2406.9,1413.7 2407.7,1423.5 2408.6,1413.5 2409.4,1425.3 2410.3,1413.4 2411.1,1424.7 2412.0,1414.6 2412.8,1427.5 2413.7,1417.4 2414.5,1427.4 2415.4,1414.7 2416.2,1431.1 2417.1,1418.4 2417.9,1431.3 2418.8,1417.3 2419.6,1433.6 2420.5,1417.7 2421.3,1430.3 2422.2,1415.5 2423.0,1432.7 2423.9,1415.3 2424.7,1432.2 2425.6,1419.8 2426.4,1434.3 2427.3,1415.5 2428.1,1432.2 2429.0,1418.4 2429.8,1434.7 2430.7,1416.0 2431.5,1432.8 2432.4,1418.0 2433.2,1435.9 2434.1,1415.7 2434.9,1433.9 2435.8,1417.6 2436.6,1433.8 2437.5,1416.0 2438.3,1431.2 2439.2,1418.7 2440.0,1434.2 2440.9,1417.9 2441.7,1429.7 2442.6,1418.5 2443.4,1429.5 2444.3,1416.5 2445.1,1432.3 2446.0,1414.2 2446.8,1429.1 2447.7,1415.7 2448.5,1428.5 2449.4,1414.5 2450.2,1425.8 2451.1,1411.9 2451.9,1427.7 2452.8,1414.5 2453.6,1425.8 2454.5,1412.6 2455.3,1422.8 2456.2,1412.0 2457.0,1422.8 2457.9,1410.9 2458.7,1422.5 2459.6,1409.6 2460.4,1420.9 2461.3,1405.6 2462.1,1419.6" stroke="#e4a41a" stroke-width="1.6" fill="none" opacity="0.9"/>
<polyline points="2605.9,1184.1 2606.7,1197.0 2607.6,1185.1 2608.4,1195.0 2609.3,1183.8 2610.1,1193.8 2611.0,1179.0 2611.8,1190.0 2612.7,1177.6 2613.5,1192.5 2614.4,1176.7 2615.2,1190.6 2616.1,1177.4 2616.9,1190.0 2617.8,1177.6 2618.6,1188.4 2619.5,1174.0 2620.3,1186.9 2621.2,1173.1 2622.0,1185.0 2622.9,1171.0 2623.7,1186.9 2624.6,1171.7 2625.4,1185.8 2626.3,1169.4 2627.1,1186.9 2628.0,1170.1 2628.8,1183.8 2629.7,1167.3 2630.5,1182.2 2631.4,1167.3 2632.2,1182.2 2633.1,1168.6 2633.9,1185.9 2634.8,1167.8 2635.6,1186.2 2636.5,1166.2 2637.3,1184.1 2638.2,1165.9 2639.0,1182.0 2639.9,1165.7 2640.7,1183.0 2641.6,1168.7 2642.4,1186.4 2643.3,1168.3 2644.1,1185.1 2645.0,1166.5 2645.8,1184.0 2646.7,1170.9 2647.5,1185.7 2648.4,1169.7 2649.2,1185.9 2650.1,1170.9 2650.9,1186.2 2651.8,1169.7 2652.6,1186.0 2653.5,1174.3 2654.3,1186.3 2655.2,1173.2 2656.0,1187.3 2656.9,1176.9 2657.7,1186.0 2658.6,1177.1 2659.4,1186.8 2660.3,1175.3 2661.1,1188.6 2662.0,1177.1 2662.8,1189.4 2663.7,1179.2 2664.5,1191.1 2665.4,1179.9 2666.2,1191.1 2667.1,1183.3 2667.9,1191.7 2668.8,1185.1 2669.6,1196.6" stroke="#e4a41a" stroke-width="1.6" fill="none" opacity="0.9"/>
<polyline points="2813.3,1407.3 2814.2,1416.8 2815.0,1406.1 2815.8,1417.5 2816.7,1410.6 2817.5,1419.4 2818.4,1410.6 2819.2,1420.3 2820.1,1409.7 2820.9,1422.2 2821.8,1414.0 2822.6,1422.4 2823.5,1413.1 2824.3,1425.1 2825.2,1412.7 2826.0,1424.7 2826.9,1414.1 2827.7,1425.5 2828.6,1417.5 2829.4,1426.9 2830.3,1414.3 2831.1,1429.7 2832.0,1415.9 2832.8,1430.1 2833.7,1418.1 2834.5,1430.6 2835.4,1416.4 2836.2,1431.3 2837.1,1417.6 2837.9,1435.3 2838.8,1417.8 2839.6,1435.7 2840.5,1417.8 2841.3,1435.6 2842.2,1419.2 2843.0,1432.5 2843.9,1418.8 2844.7,1436.4 2845.6,1416.8 2846.4,1434.7 2847.3,1416.1 2848.1,1434.4 2849.0,1416.9 2849.8,1435.2 2850.7,1417.4 2851.5,1434.8 2852.4,1419.7 2853.2,1435.7 2854.1,1416.1 2854.9,1433.2 2855.8,1415.3 2856.6,1430.1 2857.5,1418.3 2858.3,1431.2 2859.2,1417.0 2860.0,1431.6 2860.9,1415.9 2861.7,1430.6 2862.6,1414.5 2863.4,1429.7 2864.3,1416.1 2865.1,1426.1 2866.0,1414.6 2866.8,1424.5 2867.7,1413.0 2868.5,1424.0 2869.4,1411.7 2870.2,1424.1 2871.1,1410.4 2871.9,1420.6 2872.8,1409.9 2873.6,1421.4 2874.5,1407.3 2875.3,1419.4 2876.2,1408.5 2877.0,1419.6" stroke="#e4a41a" stroke-width="1.6" fill="none" opacity="0.9"/>
<polyline points="100.0,1326.2 102.0,1323.7 104.0,1323.2 106.0,1321.0 108.0,1317.0 110.0,1315.1 112.0,1314.4 114.0,1312.2 116.0,1310.6 118.0,1308.1 120.0,1306.4 122.0,1303.5 124.0,1303.1 126.0,1300.9 128.0,1298.8 130.0,1296.8 132.0,1294.8 134.0,1292.0 136.0,1292.3 138.0,1288.9 140.0,1288.0 142.0,1287.1 144.0,1285.5 146.0,1283.7 148.0,1283.9 150.0,1281.6 152.0,1282.3 154.0,1280.2 156.0,1279.6 158.0,1276.9 160.0,1275.9 162.0,1276.5 164.0,1276.3 166.0,1273.4 168.0,1273.2 170.0,1272.0 172.0,1272.9 174.0,1271.1 176.0,1269.9 178.0,1270.5 180.0,1269.9 182.0,1269.8 184.0,1269.6 186.0,1268.7 188.0,1268.6 190.0,1269.1 192.0,1268.9 194.0,1267.9 196.0,1267.6 198.0,1269.4 200.0,1268.4 202.0,1268.2 204.0,1268.8 206.0,1270.2 208.0,1271.3 210.0,1270.8 212.0,1271.5 214.0,1270.9 216.0,1273.0 218.0,1272.5 220.0,1274.4 222.0,1274.4 224.0,1276.1 226.0,1275.8 228.0,1278.2 230.0,1279.1 232.0,1279.7 234.0,1281.2 236.0,1280.8 238.0,1282.8 240.0,1284.9 242.0,1284.6 244.0,1287.2 246.0,1288.9 248.0,1290.9 250.0,1291.5 252.0,1292.6 254.0,1295.3 256.0,1297.6 258.0,1298.9 260.0,1299.3 262.0,1301.1 264.0,1302.1 266.0,1304.4 268.0,1306.8 270.0,1307.2 272.0,1310.7 274.0,1311.4 276.0,1312.5 278.0,1316.2 280.0,1316.6 282.0,1319.2 284.0,1320.3 286.0,1323.6 288.0,1323.9 290.0,1325.2 292.0,1328.3 294.0,1328.7 296.0,1332.1 298.0,1332.1 300.0,1335.6 302.0,1336.7 304.0,1338.7 306.0,1339.2 308.0,1341.0 310.0,1342.4 312.0,1344.9 314.0,1347.0 316.0,1347.9 318.0,1350.7 320.0,1352.5 322.0,1355.4 324.0,1355.2 326.0,1357.5 328.0,1359.2 330.0,1360.5 332.0,1363.3 334.0,1365.3 336.0,1367.7 338.0,1367.3 340.0,1368.9 342.0,1371.6 344.0,1372.3 346.0,1374.8 348.0,1377.1 350.0,1378.7 352.0,1378.4 354.0,1381.5 356.0,1382.7 358.0,1383.0 360.0,1385.2 362.0,1387.2 364.0,1388.0 366.0,1389.3 368.0,1390.6 370.0,1391.0 372.0,1393.4 374.0,1392.4 376.0,1394.8 378.0,1395.8 380.0,1396.0 382.0,1396.8 384.0,1397.2 386.0,1399.3 388.0,1398.9 390.0,1399.0 392.0,1400.0 394.0,1401.4 396.0,1401.7 398.0,1403.0 400.0,1402.0 402.0,1402.1 404.0,1402.5 406.0,1402.4 408.0,1403.4 410.0,1401.9 412.0,1403.1 414.0,1403.1 416.0,1403.1 418.0,1402.7 420.0,1401.4 422.0,1400.6 424.0,1400.3 426.0,1399.1 428.0,1399.6 430.0,1396.8 432.0,1395.3 434.0,1394.0 436.0,1394.6 438.0,1392.9 440.0,1390.7 442.0,1391.3 444.0,1387.8 446.0,1388.1 448.0,1386.7 450.0,1384.7 452.0,1381.6 454.0,1380.5 456.0,1379.5 458.0,1377.6 460.0,1375.8 462.0,1374.5 464.0,1372.4 466.0,1370.5 468.0,1368.3 470.0,1368.0 472.0,1365.7 474.0,1364.7 476.0,1362.6 478.0,1359.0 480.0,1357.6 482.0,1357.5 484.0,1354.4 486.0,1354.1 488.0,1351.1 490.0,1350.5 492.0,1346.6 494.0,1345.8 496.0,1343.1 498.0,1341.8 500.0,1340.0 502.0,1338.2 504.0,1337.0 506.0,1333.8 508.0,1333.8 510.0,1331.3 512.0,1328.9 514.0,1327.1 516.0,1325.6 518.0,1323.7 520.0,1321.4 522.0,1318.7 524.0,1317.3 526.0,1315.1 528.0,1312.4 530.0,1311.7 532.0,1309.9 534.0,1306.3 536.0,1305.1 538.0,1303.8 540.0,1302.2 542.0,1299.1 544.0,1296.2 546.0,1296.3 548.0,1293.1 550.0,1291.3 552.0,1291.2 554.0,1287.9 556.0,1286.7 558.0,1286.4 560.0,1284.9 562.0,1284.6 564.0,1282.4 566.0,1281.1 568.0,1279.5 570.0,1280.6 572.0,1279.3 574.0,1277.4 576.0,1276.8 578.0,1276.4 580.0,1275.7 582.0,1273.6 584.0,1272.8 586.0,1272.4 588.0,1270.9 590.0,1270.9 592.0,1271.2 594.0,1270.6 596.0,1269.2 598.0,1270.0 600.0,1269.5 602.0,1269.1 604.0,1268.4 606.0,1267.2 608.0,1267.1 610.0,1267.6 612.0,1268.4 614.0,1267.9 616.0,1270.2 618.0,1268.4 620.0,1269.6 622.0,1270.6 624.0,1271.0 626.0,1270.7 628.0,1270.9 630.0,1271.4 632.0,1272.0 634.0,1272.3 636.0,1273.2 638.0,1274.2 640.0,1276.1 642.0,1277.0 644.0,1277.3 646.0,1279.3 648.0,1279.9 650.0,1282.0 652.0,1282.3 654.0,1284.8 656.0,1285.5 658.0,1287.1 660.0,1287.4 662.0,1290.0 664.0,1291.9 666.0,1293.3 668.0,1294.2 670.0,1296.2 672.0,1297.7 674.0,1299.3 676.0,1300.7 678.0,1302.8 680.0,1304.6 682.0,1306.7 684.0,1307.5 686.0,1308.8 688.0,1311.3 690.0,1312.2 692.0,1315.4 694.0,1316.1 696.0,1318.1 698.0,1319.0 700.0,1322.8 702.0,1323.2 704.0,1324.5 706.0,1327.6 708.0,1328.0 710.0,1331.0 712.0,1332.1 714.0,1333.8 716.0,1334.4 718.0,1338.0 720.0,1340.2 722.0,1340.3 724.0,1343.4 726.0,1344.8 728.0,1345.0 730.0,1347.7 732.0,1349.3 734.0,1350.6 736.0,1352.9 738.0,1356.4 740.0,1356.8 742.0,1358.8 744.0,1361.9 746.0,1363.0 748.0,1364.9 750.0,1366.9 752.0,1367.9 754.0,1370.2 756.0,1370.0 758.0,1372.5 760.0,1374.0 762.0,1375.1 764.0,1377.7 766.0,1379.7 768.0,1379.8 770.0,1382.5 772.0,1383.9 774.0,1385.3 776.0,1386.5 778.0,1388.1 780.0,1388.2 782.0,1390.4 784.0,1390.5 786.0,1391.0 788.0,1394.0 790.0,1393.7 792.0,1394.9 794.0,1396.6 796.0,1396.1 798.0,1397.1 800.0,1399.1 802.0,1398.5 804.0,1400.5 806.0,1400.1 808.0,1401.4 810.0,1402.7 812.0,1402.1 814.0,1403.6 816.0,1402.1 818.0,1403.9 820.0,1403.8 822.0,1403.0 824.0,1402.9 826.0,1401.7 828.0,1401.7 830.0,1402.4 832.0,1401.1 834.0,1402.0 836.0,1400.9 838.0,1401.1 840.0,1400.1 842.0,1398.6 844.0,1398.9 846.0,1397.8 848.0,1396.1 850.0,1395.3 852.0,1393.0 854.0,1393.0 856.0,1389.6 858.0,1390.3 860.0,1388.1 862.0,1385.4 864.0,1385.8 866.0,1383.7 868.0,1380.9 870.0,1379.0 872.0,1377.4 874.0,1375.4 876.0,1375.3 878.0,1372.5 880.0,1371.7 882.0,1370.3 884.0,1368.9 886.0,1366.8 888.0,1363.8 890.0,1362.0 892.0,1361.8 894.0,1359.6 896.0,1357.2 898.0,1354.9 900.0,1353.6 902.0,1351.9 904.0,1351.1 906.0,1349.3 908.0,1346.4 910.0,1344.0 912.0,1343.0 914.0,1341.7 916.0,1338.6 918.0,1337.1 920.0,1335.1 922.0,1333.6 924.0,1332.0 926.0,1329.4 928.0,1328.7 930.0,1326.1 932.0,1323.4 934.0,1321.8 936.0,1319.9 938.0,1317.5 940.0,1314.9 942.0,1314.5 944.0,1312.4 946.0,1310.3 948.0,1308.8 950.0,1304.9 952.0,1304.0 954.0,1302.6 956.0,1301.3 958.0,1297.4 960.0,1296.9 962.0,1295.0 964.0,1293.3 966.0,1290.8 968.0,1289.1 970.0,1287.5 972.0,1287.4 974.0,1284.9 976.0,1285.7 978.0,1284.1 980.0,1281.6 982.0,1279.9 984.0,1280.6 986.0,1279.9 988.0,1277.3 990.0,1277.1 992.0,1274.9 994.0,1274.2 996.0,1274.7 998.0,1274.6 1000.0,1272.8 1002.0,1271.7 1004.0,1270.6 1006.0,1269.8 1008.0,1269.4 1010.0,1268.7 1012.0,1270.1 1014.0,1268.0 1016.0,1269.7 1018.0,1267.6 1020.0,1267.2 1022.0,1268.8 1024.0,1268.6 1026.0,1267.6 1028.0,1268.1 1030.0,1268.0 1032.0,1268.7 1034.0,1268.7 1036.0,1268.9 1038.0,1270.0 1040.0,1270.0 1042.0,1272.1 1044.0,1271.4 1046.0,1272.1 1048.0,1273.2 1050.0,1272.6 1052.0,1274.9 1054.0,1275.5 1056.0,1276.4 1058.0,1277.9 1060.0,1279.3 1062.0,1279.4 1064.0,1281.1 1066.0,1282.0 1068.0,1282.1 1070.0,1284.5 1072.0,1286.2 1074.0,1287.5 1076.0,1289.7 1078.0,1291.2 1080.0,1291.4 1082.0,1292.6 1084.0,1295.4 1086.0,1296.6 1088.0,1299.4 1090.0,1300.8 1092.0,1302.7 1094.0,1303.6 1096.0,1303.7 1098.0,1306.3 1100.0,1308.6 1102.0,1309.8 1104.0,1312.1 1106.0,1314.7 1108.0,1315.6 1110.0,1316.3 1112.0,1318.2 1114.0,1320.5 1116.0,1323.2 1118.0,1324.7 1120.0,1325.9 1122.0,1328.2 1124.0,1330.5 1126.0,1330.3 1128.0,1332.7 1130.0,1335.6 1132.0,1335.4 1134.0,1338.9 1136.0,1340.0 1138.0,1341.8 1140.0,1344.0 1142.0,1344.8 1144.0,1346.8 1146.0,1349.5 1148.0,1349.8 1150.0,1353.5 1152.0,1354.9 1154.0,1357.0 1156.0,1357.9 1158.0,1360.9 1160.0,1361.8 1162.0,1362.3 1164.0,1365.9 1166.0,1366.2 1168.0,1369.4 1170.0,1369.6 1172.0,1372.0 1174.0,1373.8 1176.0,1375.4 1178.0,1376.0 1180.0,1379.1 1182.0,1380.4 1184.0,1380.4 1186.0,1381.6 1188.0,1383.3 1190.0,1384.0 1192.0,1386.7 1194.0,1387.0 1196.0,1389.0 1198.0,1389.2 1200.0,1391.8 1202.0,1392.6 1204.0,1393.0 1206.0,1393.6 1208.0,1396.3 1210.0,1397.2 1212.0,1398.1 1214.0,1396.8 1216.0,1399.7 1218.0,1399.0 1220.0,1399.8 1222.0,1402.0 1224.0,1401.0 1226.0,1402.2 1228.0,1403.1 1230.0,1402.6 1232.0,1402.8 1234.0,1403.6 1236.0,1403.4 1238.0,1403.8 1240.0,1403.8 1242.0,1401.8 1244.0,1401.7 1246.0,1402.7 1248.0,1402.1 1250.0,1400.7 1252.0,1400.9 1254.0,1400.7 1256.0,1398.3 1258.0,1397.3 1260.0,1397.3 1262.0,1395.5 1264.0,1393.9 1266.0,1394.7 1268.0,1392.6 1270.0,1391.9 1272.0,1389.3 1274.0,1389.8 1276.0,1386.5 1278.0,1384.7 1280.0,1384.5 1282.0,1382.7 1284.0,1381.8 1286.0,1379.2 1288.0,1377.1 1290.0,1376.5 1292.0,1373.7 1294.0,1371.0 1296.0,1369.4 1298.0,1368.8 1300.0,1366.6 1302.0,1364.3 1304.0,1363.1 1306.0,1360.9 1308.0,1359.0 1310.0,1357.2 1312.0,1356.5 1314.0,1354.6 1316.0,1353.4 1318.0,1350.3 1320.0,1350.2 1322.0,1348.3 1324.0,1346.2 1326.0,1344.0 1328.0,1341.9 1330.0,1341.3 1332.0,1337.2 1334.0,1335.8 1336.0,1335.6 1338.0,1332.1 1340.0,1331.3 1342.0,1327.8 1344.0,1325.8 1346.0,1324.7 1348.0,1322.0 1350.0,1321.8 1352.0,1318.8 1354.0,1317.0 1356.0,1316.0 1358.0,1313.4 1360.0,1311.6 1362.0,1307.8 1364.0,1307.0 1366.0,1304.2 1368.0,1302.4 1370.0,1300.5 1372.0,1298.5 1374.0,1297.7 1376.0,1294.4 1378.0,1293.7 1380.0,1291.6 1382.0,1290.8 1384.0,1287.8 1386.0,1288.4 1388.0,1285.3 1390.0,1284.4 1392.0,1284.2 1394.0,1283.1 1396.0,1280.6 1398.0,1280.5 1400.0,1278.3 1402.0,1279.2 1404.0,1276.3 1406.0,1276.8 1408.0,1274.8 1410.0,1275.3 1412.0,1274.7 1414.0,1273.9 1416.0,1271.7 1418.0,1271.1 1420.0,1271.8 1422.0,1271.1 1424.0,1269.7 1426.0,1268.5 1428.0,1268.8 1430.0,1269.7 1432.0,1267.9 1434.0,1269.1 1436.0,1267.6 1438.0,1269.2 1440.0,1267.9 1442.0,1269.3 1444.0,1268.9 1446.0,1268.9 1448.0,1270.0 1450.0,1269.8 1452.0,1269.4 1454.0,1269.7 1456.0,1271.1 1458.0,1271.7 1460.0,1271.0 1462.0,1272.3 1464.0,1272.0 1466.0,1273.0 1468.0,1274.6 1470.0,1275.6 1472.0,1277.6 1474.0,1278.0 1476.0,1279.8 1478.0,1279.6 1480.0,1281.8 1482.0,1283.5 1484.0,1283.7 1486.0,1284.8 1488.0,1287.3 1490.0,1287.8 1492.0,1288.9 1494.0,1289.9 1496.0,1292.3 1498.0,1294.1 1500.0,1296.8 1502.0,1297.0 1504.0,1298.7 1506.0,1301.3 1508.0,1301.7 1510.0,1303.4 1512.0,1304.8 1514.0,1307.3 1516.0,1310.5 1518.0,1310.4 1520.0,1313.3 1522.0,1314.4 1524.0,1317.0 1526.0,1317.3 1528.0,1319.1 1530.0,1321.1 1532.0,1323.7 1534.0,1324.9 1536.0,1328.3 1538.0,1330.0 1540.0,1329.8 1542.0,1332.8 1544.0,1333.6 1546.0,1334.6 1548.0,1336.7 1550.0,1339.4 1552.0,1340.0 1554.0,1343.6 1556.0,1344.5 1558.0,1347.3 1560.0,1348.4 1562.0,1350.9 1564.0,1351.8 1566.0,1353.6 1568.0,1356.6 1570.0,1356.8 1572.0,1359.0 1574.0,1360.8 1576.0,1362.1 1578.0,1364.5 1580.0,1365.6 1582.0,1368.3 1584.0,1368.2 1586.0,1370.9 1588.0,1371.9 1590.0,1374.2 1592.0,1375.1 1594.0,1378.6 1596.0,1379.5 1598.0,1381.3 1600.0,1382.7 1602.0,1382.1 1604.0,1383.7 1606.0,1385.6 1608.0,1388.1 1610.0,1388.1 1612.0,1388.8 1614.0,1390.0 1616.0,1392.2 1618.0,1392.9 1620.0,1394.4 1622.0,1394.5 1624.0,1396.1 1626.0,1397.5 1628.0,1398.6 1630.0,1397.4 1632.0,1398.1 1634.0,1398.6 1636.0,1399.8 1638.0,1402.4 1640.0,1401.9 1642.0,1401.7 1644.0,1403.1 1646.0,1403.8 1648.0,1401.8 1650.0,1403.9 1652.0,1402.6 1654.0,1402.8 1656.0,1402.7 1658.0,1401.7 1660.0,1403.1 1662.0,1402.6 1664.0,1402.0 1666.0,1400.6 1668.0,1401.0 1670.0,1398.7 1672.0,1398.2 1674.0,1398.8 1676.0,1397.6 1678.0,1395.8 1680.0,1393.9 1682.0,1394.0 1684.0,1392.1 1686.0,1389.6 1688.0,1388.3 1690.0,1388.0 1692.0,1386.3 1694.0,1385.4 1696.0,1384.0 1698.0,1380.2 1700.0,1379.1 1702.0,1378.8 1704.0,1375.7 1706.0,1374.2 1708.0,1373.2 1710.0,1370.9 1712.0,1368.3 1714.0,1366.7 1716.0,1366.4 1718.0,1364.8 1720.0,1361.7 1722.0,1360.9 1724.0,1359.0 1726.0,1356.1 1728.0,1354.9 1730.0,1354.0 1732.0,1352.0 1734.0,1349.7 1736.0,1347.9 1738.0,1347.2 1740.0,1343.9 1742.0,1343.8 1744.0,1340.1 1746.0,1338.0 1748.0,1337.1 1750.0,1335.3 1752.0,1333.5 1754.0,1332.2 1756.0,1330.2 1758.0,1326.9 1760.0,1326.7 1762.0,1322.9 1764.0,1321.5 1766.0,1320.8 1768.0,1318.8 1770.0,1315.1 1772.0,1314.7 1774.0,1311.4 1776.0,1309.3 1778.0,1308.6 1780.0,1306.6 1782.0,1303.4 1784.0,1301.1 1786.0,1300.1 1788.0,1298.5 1790.0,1296.6 1792.0,1295.5 1794.0,1292.6 1796.0,1291.6 1798.0,1290.4 1800.0,1287.4 1802.0,1286.5 1804.0,1285.5 1806.0,1283.5 1808.0,1284.1 1810.0,1282.3 1812.0,1281.2 1814.0,1278.8 1816.0,1279.6 1818.0,1278.7 1820.0,1275.9 1822.0,1276.8 1824.0,1275.4 1826.0,1275.4 1828.0,1273.2 1830.0,1273.5 1832.0,1271.1 1834.0,1270.7 1836.0,1271.3 1838.0,1270.2 1840.0,1268.8 1842.0,1268.5 1844.0,1268.2 1846.0,1267.4 1848.0,1267.8 1850.0,1269.2 1852.0,1268.9 1854.0,1267.4 1856.0,1268.3 1858.0,1267.5 1860.0,1268.5 1862.0,1268.9 1864.0,1269.6 1866.0,1269.7 1868.0,1271.1 1870.0,1271.2 1872.0,1271.3 1874.0,1271.2 1876.0,1273.2 1878.0,1272.1 1880.0,1272.8 1882.0,1275.3 1884.0,1275.2 1886.0,1276.7 1888.0,1277.2 1890.0,1277.9 1892.0,1278.9 1894.0,1281.6 1896.0,1281.9 1898.0,1284.3 1900.0,1284.3 1902.0,1285.4 1904.0,1287.9 1906.0,1288.2 1908.0,1289.2 1910.0,1290.8 1912.0,1294.2 1914.0,1294.3 1916.0,1297.1 1918.0,1297.9 1920.0,1301.0 1922.0,1302.0 1924.0,1304.0 1926.0,1304.2 1928.0,1306.8 1930.0,1307.7 1932.0,1310.1 1934.0,1312.1 1936.0,1313.7 1938.0,1315.9 1940.0,1317.8 1942.0,1318.8 1944.0,1320.3 1946.0,1323.1 1948.0,1324.9 1950.0,1325.5 1952.0,1328.9 1954.0,1328.6 1956.0,1331.8 1958.0,1333.9 1960.0,1334.8 1962.0,1335.7 1964.0,1338.2 1966.0,1340.9 1968.0,1341.6 1970.0,1342.7 1972.0,1345.6 1974.0,1348.1 1976.0,1349.5 1978.0,1350.6 1980.0,1352.8 1982.0,1354.3 1984.0,1356.8 1986.0,1358.5 1988.0,1359.7 1990.0,1361.0 1992.0,1363.8 1994.0,1366.2 1996.0,1367.4 1998.0,1368.8 2000.0,1370.2 2002.0,1372.1 2004.0,1373.6 2006.0,1375.2 2008.0,1376.4 2010.0,1379.0 2012.0,1379.2 2014.0,1382.1 2016.0,1382.7 2018.0,1383.2 2020.0,1385.1 2022.0,1387.4 2024.0,1387.0 2026.0,1388.3 2028.0,1389.2 2030.0,1392.1 2032.0,1393.1 2034.0,1393.4 2036.0,1395.0 2038.0,1396.2 2040.0,1396.6 2042.0,1396.9 2044.0,1399.0 2046.0,1399.1 2048.0,1399.9 2050.0,1401.3 2052.0,1401.3 2054.0,1401.3 2056.0,1401.2 2058.0,1402.0 2060.0,1401.6 2062.0,1403.3 2064.0,1403.1 2066.0,1402.6 2068.0,1403.7 2070.0,1402.3 2072.0,1403.7 2074.0,1401.7 2076.0,1401.4 2078.0,1402.8 2080.0,1401.3 2082.0,1400.8 2084.0,1400.1 2086.0,1399.9 2088.0,1397.6 2090.0,1396.3 2092.0,1397.0 2094.0,1394.7 2096.0,1394.0 2098.0,1391.5 2100.0,1391.0 2102.0,1390.1 2104.0,1388.3 2106.0,1386.0 2108.0,1384.7 2110.0,1384.0 2112.0,1383.0 2114.0,1380.7 2116.0,1379.0 2118.0,1377.1 2120.0,1375.2 2122.0,1373.6 2124.0,1371.2 2126.0,1371.4 2128.0,1368.9 2130.0,1366.6 2132.0,1364.5 2134.0,1362.2 2136.0,1361.5 2138.0,1359.1 2140.0,1359.0 2142.0,1355.6 2144.0,1354.4 2146.0,1352.5 2148.0,1351.8 2150.0,1348.2 2152.0,1347.8 2154.0,1345.9 2156.0,1342.9 2158.0,1341.0 2160.0,1340.5 2162.0,1337.0 2164.0,1337.0 2166.0,1334.2 2168.0,1331.3 2170.0,1331.1 2172.0,1327.6 2174.0,1325.7 2176.0,1324.4 2178.0,1322.9 2180.0,1319.5 2182.0,1317.4 2184.0,1317.3 2186.0,1314.0 2188.0,1311.5 2190.0,1311.5 2192.0,1308.7 2194.0,1306.4 2196.0,1304.5 2198.0,1303.9 2200.0,1300.6 2202.0,1298.9 2204.0,1296.0 2206.0,1295.5 2208.0,1293.3 2210.0,1290.6 2212.0,1290.2 2214.0,1289.6 2216.0,1287.7 2218.0,1286.5 2220.0,1283.8 2222.0,1284.8 2224.0,1282.5 2226.0,1281.7 2228.0,1279.2 2230.0,1278.6 2232.0,1278.0 2234.0,1278.0 2236.0,1276.2 2238.0,1275.8 2240.0,1273.8 2242.0,1273.4 2244.0,1272.0 2246.0,1272.7 2248.0,1272.1 2250.0,1271.5 2252.0,1271.3 2254.0,1269.2 2256.0,1270.1 2258.0,1269.5 2260.0,1269.3 2262.0,1267.6 2264.0,1269.1 2266.0,1268.1 2268.0,1269.4" stroke="#00f872" stroke-width="14" fill="none" stroke-linejoin="round"/>
<polyline points="100.0,1318.5 101.0,1335.6 102.3,1317.8 103.3,1330.4 104.6,1313.6 105.6,1328.2 106.9,1311.1 107.9,1328.0 109.2,1309.0 110.2,1325.2 111.5,1307.9 112.5,1322.6 113.8,1303.4 114.8,1319.4 116.1,1301.0 117.1,1316.5 118.4,1300.3 119.4,1314.2 120.7,1297.6 121.7,1314.9 123.0,1294.0 124.0,1312.7 125.3,1294.1 126.3,1307.8 127.6,1291.4 128.6,1305.2 129.9,1289.2 130.9,1303.5 132.2,1287.1 133.2,1302.0 134.5,1284.7 135.5,1299.2 136.8,1281.7 137.8,1297.3 139.1,1280.8 140.1,1295.6 141.4,1278.8 142.4,1296.0 143.7,1276.6 144.7,1293.8 146.0,1275.4 147.0,1291.4 148.3,1276.7 149.3,1290.7 150.6,1274.3 151.6,1290.4 152.9,1273.5 153.9,1288.9 155.2,1269.9 156.2,1285.6 157.5,1268.9 158.5,1284.3 159.8,1268.7 160.8,1285.1 162.1,1266.7 163.1,1284.7 164.4,1268.7 165.4,1282.4 166.7,1264.9 167.7,1281.7 169.0,1263.9 170.0,1280.6 171.3,1263.8 172.3,1280.4 173.6,1263.6 174.6,1281.0 175.9,1262.3 176.9,1277.3 178.2,1261.7 179.2,1279.3 180.5,1260.7 181.5,1278.8 182.8,1262.9 183.8,1276.1 185.1,1262.0 186.1,1275.3 187.4,1261.1 188.4,1277.7 189.7,1260.8 190.7,1276.0 192.0,1259.7 193.0,1274.5 194.3,1259.5 195.3,1275.7 196.6,1261.5 197.6,1275.5 198.9,1259.3 199.9,1276.2 201.2,1260.4 202.2,1277.5 203.5,1260.3 204.5,1277.8 205.8,1263.6 206.8,1277.5 208.1,1262.5 209.1,1278.6 210.4,1264.2 211.4,1279.7 212.7,1264.3 213.7,1279.0 215.0,1265.6 216.0,1280.9 217.3,1264.9 218.3,1281.9 219.6,1265.6 220.6,1280.2 221.9,1266.9 222.9,1282.3 224.2,1267.5 225.2,1283.3 226.5,1270.0 227.5,1283.6 228.8,1271.0 229.8,1286.3 231.1,1271.8 232.1,1286.4 233.4,1272.2 234.4,1289.1 235.7,1275.1 236.7,1291.0 238.0,1273.9 239.0,1289.8 240.3,1277.3 241.3,1291.0 242.6,1278.1 243.6,1294.1 244.9,1279.9 245.9,1293.8 247.2,1281.3 248.2,1298.3 249.5,1284.4 250.5,1299.6 251.8,1284.5 252.8,1299.5 254.1,1285.4 255.1,1302.9 256.4,1287.6 257.4,1303.8 258.7,1291.2 259.7,1306.3 261.0,1293.2 262.0,1308.3 263.3,1295.8 264.3,1310.3 265.6,1297.6 266.6,1312.1 267.9,1299.8 268.9,1315.0 270.2,1300.5 271.2,1317.8 272.5,1302.8 273.5,1319.5 274.8,1303.1 275.8,1320.3 277.1,1306.2 278.1,1321.5 279.4,1310.4 280.4,1325.4 281.7,1312.4 282.7,1326.5 284.0,1314.0 285.0,1327.0 286.3,1313.7 287.3,1330.1 288.6,1315.8 289.6,1334.0 290.9,1320.4 291.9,1335.7 293.2,1320.3 294.2,1335.5 295.5,1323.0 296.5,1338.8 297.8,1325.9 298.8,1339.6 300.1,1328.7 301.1,1342.1 302.4,1328.1 303.4,1345.2 304.7,1331.8 305.7,1347.6 307.0,1333.7 308.0,1347.1 309.3,1335.7 310.3,1351.7 311.6,1337.9 312.6,1353.1 313.9,1337.7 314.9,1355.2 316.2,1340.9 317.2,1358.3 318.5,1341.8 319.5,1357.7 320.8,1347.3 321.8,1360.0 323.1,1346.7 324.1,1362.6 325.4,1350.5 326.4,1366.8 327.7,1353.4 328.7,1366.7 330.0,1354.0 331.0,1368.4 332.3,1356.7 333.3,1370.1 334.6,1356.8 335.6,1374.6 336.9,1361.0 337.9,1374.3 339.2,1359.9 340.2,1376.1 341.5,1362.2 342.5,1377.8 343.8,1366.0 344.8,1380.2 346.1,1367.6 347.1,1381.6 348.4,1370.2 349.4,1386.1 350.7,1371.0 351.7,1387.2 353.0,1372.4 354.0,1386.4 355.3,1375.5 356.3,1391.2 357.6,1376.8 358.6,1391.9 359.9,1378.5 360.9,1391.7 362.2,1379.3 363.2,1394.7 364.5,1379.2 365.5,1397.3 366.8,1381.6 367.8,1395.8 369.1,1382.4 370.1,1399.7 371.4,1385.7 372.4,1399.9 373.7,1385.7 374.7,1401.9 376.0,1385.5 377.0,1400.8 378.3,1388.3 379.3,1401.7 380.6,1389.0 381.6,1403.6 382.9,1390.5 383.9,1405.4 385.2,1390.3 386.2,1404.4 387.5,1391.9 388.5,1406.3 389.8,1391.8 390.8,1408.8 392.1,1391.9 393.1,1410.1 394.4,1394.7 395.4,1409.2 396.7,1395.4 397.7,1410.5 399.0,1396.5 400.0,1409.0 401.3,1394.1 402.3,1411.2 403.6,1393.6 404.6,1409.2 405.9,1396.3 406.9,1410.9 408.2,1396.1 409.2,1412.0 410.5,1396.3 411.5,1409.8 412.8,1395.7 413.8,1412.0 415.1,1393.5 416.1,1409.0 417.4,1395.4 418.4,1409.5 419.7,1393.8 420.7,1407.7 422.0,1394.6 423.0,1407.5 424.3,1393.9 425.3,1408.7 426.6,1392.0 427.6,1407.6 428.9,1390.5 429.9,1405.3 431.2,1388.9 432.2,1402.7 433.5,1386.1 434.5,1401.5 435.8,1386.4 436.8,1400.2 438.1,1384.3 439.1,1400.3 440.4,1383.9 441.4,1399.3 442.7,1382.2 443.7,1395.9 445.0,1379.1 446.0,1396.1 447.3,1380.3 448.3,1392.8 449.6,1375.4 450.6,1391.4 451.9,1374.7 452.9,1390.3 454.2,1371.6 455.2,1389.8 456.5,1372.4 457.5,1385.1 458.8,1370.3 459.8,1382.9 461.1,1365.8 462.1,1382.2 463.4,1364.0 464.4,1379.7 465.7,1363.7 466.7,1377.4 468.0,1361.8 469.0,1377.3 470.3,1359.6 471.3,1374.0 472.6,1356.8 473.6,1373.0 474.9,1356.7 475.9,1371.9 477.2,1353.7 478.2,1368.9 479.5,1351.8 480.5,1365.8 481.8,1349.4 482.8,1363.5 484.1,1348.3 485.1,1362.3 486.4,1343.8 487.4,1359.0 488.7,1342.7 489.7,1359.5 491.0,1341.4 492.0,1356.7 493.3,1338.7 494.3,1354.1 495.6,1335.8 496.6,1351.8 497.9,1336.1 498.9,1349.4 500.2,1334.0 501.2,1346.3 502.5,1328.7 503.5,1345.4 504.8,1328.8 505.8,1345.2 507.1,1327.4 508.1,1339.8 509.4,1323.6 510.4,1338.8 511.7,1322.4 512.7,1335.8 514.0,1319.6 515.0,1334.3 516.3,1317.4 517.3,1331.1 518.6,1314.2 519.6,1328.6 520.9,1312.8 521.9,1327.9 523.2,1311.7 524.2,1324.3 525.5,1308.3 526.5,1323.9 527.8,1306.9 528.8,1321.9 530.1,1304.3 531.1,1319.9 532.4,1299.2 533.4,1317.9 534.7,1297.1 535.7,1315.8 537.0,1297.2 538.0,1313.5 539.3,1294.5 540.3,1310.3 541.6,1293.1 542.6,1307.7 543.9,1290.2 544.9,1303.9 546.2,1286.1 547.2,1304.3 548.5,1284.6 549.5,1300.9 550.8,1282.2 551.8,1299.6 553.1,1282.6 554.1,1298.4 555.4,1278.9 556.4,1297.3 557.7,1278.2 558.7,1295.8 560.0,1276.3 561.0,1292.0 562.3,1277.4 563.3,1290.2 564.6,1273.7 565.6,1290.5 566.9,1273.8 567.9,1288.4 569.2,1270.4 570.2,1287.0 571.5,1269.5 572.5,1287.4 573.8,1268.6 574.8,1286.1 576.1,1270.0 577.1,1284.4 578.4,1268.6 579.4,1282.5 580.7,1267.8 581.7,1282.5 583.0,1264.4 584.0,1280.7 585.3,1264.9 586.3,1279.3 587.6,1264.8 588.6,1279.1 589.9,1263.7 590.9,1279.7 592.2,1262.7 593.2,1276.6 594.5,1260.7 595.5,1278.0 596.8,1262.9 597.8,1275.6 599.1,1262.3 600.1,1278.3 601.4,1261.4 602.4,1278.1 603.7,1259.1 604.7,1275.9 606.0,1259.5 607.0,1275.0 608.3,1260.2 609.3,1274.5 610.6,1260.7 611.6,1276.7 612.9,1261.5 613.9,1275.0 615.2,1260.0 616.2,1277.8 617.5,1261.6 618.5,1275.7 619.8,1260.3 620.8,1277.9 622.1,1261.7 623.1,1277.4 624.4,1263.7 625.4,1278.4 626.7,1264.9 627.7,1278.4 629.0,1263.9 630.0,1278.5 631.3,1264.7 632.3,1278.6 633.6,1266.4 634.6,1282.4 635.9,1265.5 636.9,1280.8 638.2,1265.9 639.2,1283.6 640.5,1266.9 641.5,1282.6 642.8,1271.0 643.8,1284.3 645.1,1270.4 646.1,1287.1 647.4,1271.7 648.4,1286.7 649.7,1273.6 650.7,1288.9 652.0,1274.9 653.0,1288.7 654.3,1277.7 655.3,1290.4 656.6,1279.2 657.6,1293.8 658.9,1278.1 659.9,1295.9 661.2,1282.5 662.2,1294.8 663.5,1282.3 664.5,1298.9 665.8,1285.1 666.8,1300.4 668.1,1287.5 669.1,1300.5 670.4,1289.0 671.4,1303.9 672.7,1291.5 673.7,1305.5 675.0,1292.9 676.0,1309.1 677.3,1292.7 678.3,1310.7 679.6,1295.1 680.6,1311.8 681.9,1298.8 682.9,1314.0 684.2,1299.2 685.2,1314.4 686.5,1300.2 687.5,1316.8 688.8,1304.5 689.8,1320.5 691.1,1306.5 692.1,1321.7 693.4,1309.1 694.4,1324.6 695.7,1310.0 696.7,1326.5 698.0,1311.9 699.0,1327.7 700.3,1315.3 701.3,1330.5 702.6,1316.3 703.6,1333.5 704.9,1320.0 705.9,1334.0 707.2,1321.3 708.2,1335.1 709.5,1322.2 710.5,1337.8 711.8,1325.5 712.8,1341.0 714.1,1326.6 715.1,1343.1 716.4,1329.4 717.4,1343.1 718.7,1331.2 719.7,1345.5 721.0,1330.8 722.0,1349.3 723.3,1333.2 724.3,1349.9 725.6,1335.0 726.6,1350.2 727.9,1338.4 728.9,1354.7 730.2,1341.5 731.2,1355.9 732.5,1342.5 733.5,1356.5 734.8,1344.9 735.8,1361.0 737.1,1346.6 738.1,1361.2 739.4,1347.2 740.4,1364.0 741.7,1352.5 742.7,1365.5 744.0,1351.7 745.0,1368.7 746.3,1353.9 747.3,1370.7 748.6,1356.5 749.6,1373.2 750.9,1357.2 751.9,1373.4 753.2,1360.7 754.2,1374.9 755.5,1363.0 756.5,1376.6 757.8,1364.9 758.8,1381.5 760.1,1365.2 761.1,1382.7 762.4,1366.6 763.4,1384.0 764.7,1368.8 765.7,1385.5 767.0,1373.1 768.0,1387.1 769.3,1372.6 770.3,1388.3 771.6,1373.9 772.6,1391.7 773.9,1378.1 774.9,1392.1 776.2,1377.3 777.2,1394.5 778.5,1378.1 779.5,1394.0 780.8,1381.6 781.8,1396.1 783.1,1381.4 784.1,1396.9 785.4,1382.3 786.4,1400.8 787.7,1386.1 788.7,1400.7 790.0,1387.6 791.0,1403.1 792.3,1387.3 793.3,1403.3 794.6,1388.9 795.6,1402.8 796.9,1388.9 797.9,1404.2 799.2,1389.7 800.2,1407.3 801.5,1391.3 802.5,1405.8 803.8,1392.0 804.8,1406.9 806.1,1392.3 807.1,1409.6 808.4,1392.6 809.4,1408.1 810.7,1393.0 811.7,1410.7 813.0,1393.5 814.0,1410.0 815.3,1394.3 816.3,1411.3 817.6,1394.2 818.6,1409.2 819.9,1396.7 820.9,1410.7 822.2,1393.8 823.2,1411.5 824.5,1394.8 825.5,1411.3 826.8,1393.6 827.8,1410.2 829.1,1393.2 830.1,1408.8 831.4,1395.9 832.4,1409.6 833.7,1395.6 834.7,1410.9 836.0,1394.1 837.0,1410.7 838.3,1390.9 839.3,1406.5 840.6,1390.5 841.6,1405.7 842.9,1389.3 843.9,1405.2 845.2,1389.8 846.2,1406.5 847.5,1388.2 848.5,1402.4 849.8,1387.0 850.8,1403.5 852.1,1386.5 853.1,1400.5 854.4,1384.8 855.4,1398.7 856.7,1383.2 857.7,1396.8 859.0,1380.7 860.0,1397.0 861.3,1379.3 862.3,1393.7 863.6,1378.2 864.6,1392.7 865.9,1375.3 866.9,1392.0 868.2,1372.5 869.2,1389.7 870.5,1373.3 871.5,1385.7 872.8,1368.6 873.8,1384.1 875.1,1366.9 876.1,1381.8 877.4,1367.1 878.4,1382.9 879.7,1363.0 880.7,1379.9 882.0,1362.3 883.0,1377.5 884.3,1361.0 885.3,1373.8 886.6,1358.9 887.6,1372.1 888.9,1355.8 889.9,1373.0 891.2,1353.7 892.2,1368.8 893.5,1351.7 894.5,1366.7 895.8,1348.1 896.8,1366.0 898.1,1349.3 899.1,1363.9 900.4,1345.5 901.4,1360.8 902.7,1342.9 903.7,1360.4 905.0,1343.1 906.0,1358.6 907.3,1338.5 908.3,1355.5 909.6,1336.4 910.6,1354.4 911.9,1336.8 912.9,1351.4 914.2,1333.0 915.2,1347.4 916.5,1329.8 917.5,1348.3 918.8,1328.9 919.8,1344.1 921.1,1325.6 922.1,1341.3 923.4,1323.0 924.4,1338.8 925.7,1322.2 926.7,1337.7 928.0,1321.3 929.0,1335.3 930.3,1316.8 931.3,1334.6 932.6,1313.9 933.6,1330.0 934.9,1311.7 935.9,1327.3 937.2,1312.3 938.2,1327.5 939.5,1308.4 940.5,1324.0 941.8,1308.0 942.8,1321.7 944.1,1304.5 945.1,1319.5 946.4,1303.3 947.4,1317.1 948.7,1299.3 949.7,1315.0 951.0,1298.9 952.0,1312.4 953.3,1295.1 954.3,1310.9 955.6,1292.6 956.6,1307.4 957.9,1290.6 958.9,1304.5 960.2,1289.7 961.2,1302.7 962.5,1286.2 963.5,1300.2 964.8,1284.5 965.8,1300.4 967.1,1282.3 968.1,1299.7 969.4,1281.7 970.4,1296.2 971.7,1278.3 972.7,1295.4 974.0,1279.0 975.0,1295.2 976.3,1277.6 977.3,1292.5 978.6,1275.2 979.6,1289.5 980.9,1275.5 981.9,1289.7 983.2,1274.0 984.2,1287.6 985.5,1270.4 986.5,1288.3 987.8,1269.2 988.8,1284.0 990.1,1269.6 991.1,1285.4 992.4,1269.5 993.4,1283.3 994.7,1268.3 995.7,1281.6 997.0,1265.5 998.0,1282.7 999.3,1265.5 1000.3,1281.3 1001.6,1265.9 1002.6,1279.9 1003.9,1264.1 1004.9,1279.5 1006.2,1262.8 1007.2,1279.3 1008.5,1261.5 1009.5,1278.1 1010.8,1262.1 1011.8,1277.1 1013.1,1262.3 1014.1,1275.5 1015.4,1261.0 1016.4,1275.4 1017.7,1260.3 1018.7,1277.9 1020.0,1261.5 1021.0,1275.8 1022.3,1259.4 1023.3,1276.0 1024.6,1262.3 1025.6,1275.7 1026.9,1259.4 1027.9,1276.0 1029.2,1261.1 1030.2,1277.7 1031.5,1260.4 1032.5,1277.8 1033.8,1262.7 1034.8,1276.7 1036.1,1261.1 1037.1,1276.9 1038.4,1263.8 1039.4,1279.7 1040.7,1264.6 1041.7,1278.2 1043.0,1262.2 1044.0,1277.7 1045.3,1265.5 1046.3,1280.3 1047.6,1263.4 1048.6,1279.8 1049.9,1265.1 1050.9,1280.1 1052.2,1264.8 1053.2,1282.3 1054.5,1266.4 1055.5,1281.8 1056.8,1268.2 1057.8,1282.6 1059.1,1269.8 1060.1,1286.7 1061.4,1271.6 1062.4,1287.1 1063.7,1271.4 1064.7,1287.2 1066.0,1273.2 1067.0,1289.8 1068.3,1275.9 1069.3,1289.6 1070.6,1276.2 1071.6,1291.4 1072.9,1278.6 1073.9,1292.5 1075.2,1278.6 1076.2,1296.7 1077.5,1282.0 1078.5,1298.9 1079.8,1285.5 1080.8,1299.4 1082.1,1287.2 1083.1,1302.3 1084.4,1288.4 1085.4,1301.6 1086.7,1288.7 1087.7,1303.7 1089.0,1291.4 1090.0,1307.8 1091.3,1294.9 1092.3,1309.5 1093.6,1294.4 1094.6,1311.1 1095.9,1295.7 1096.9,1312.8 1098.2,1298.0 1099.2,1313.3 1100.5,1302.6 1101.5,1317.3 1102.8,1304.7 1103.8,1317.6 1105.1,1306.1 1106.1,1321.4 1107.4,1308.3 1108.4,1322.2 1109.7,1309.4 1110.7,1323.6 1112.0,1311.6 1113.0,1325.6 1114.3,1312.5 1115.3,1329.0 1116.6,1317.0 1117.6,1331.0 1118.9,1319.0 1119.9,1332.1 1121.2,1318.9 1122.2,1333.8 1123.5,1322.4 1124.5,1335.6 1125.8,1322.6 1126.8,1338.3 1128.1,1327.0 1129.1,1339.4 1130.4,1327.8 1131.4,1344.4 1132.7,1329.8 1133.7,1344.3 1135.0,1332.1 1136.0,1346.3 1137.3,1331.7 1138.3,1350.4 1139.6,1333.9 1140.6,1351.3 1141.9,1335.9 1142.9,1352.2 1144.2,1340.6 1145.2,1356.2 1146.5,1340.6 1147.5,1356.0 1148.8,1342.8 1149.8,1358.6 1151.1,1347.5 1152.1,1359.8 1153.4,1348.1 1154.4,1363.8 1155.7,1349.3 1156.7,1367.5 1158.0,1353.5 1159.0,1369.2 1160.3,1353.6 1161.3,1369.7 1162.6,1357.4 1163.6,1371.6 1164.9,1357.8 1165.9,1374.5 1167.2,1361.8 1168.2,1377.2 1169.5,1362.8 1170.5,1378.4 1171.8,1362.2 1172.8,1380.2 1174.1,1364.6 1175.1,1382.0 1176.4,1366.0 1177.4,1383.0 1178.7,1368.4 1179.7,1384.9 1181.0,1370.9 1182.0,1386.4 1183.3,1373.9 1184.3,1388.2 1185.6,1375.6 1186.6,1389.0 1187.9,1377.3 1188.9,1391.1 1190.2,1379.1 1191.2,1394.0 1192.5,1379.8 1193.5,1392.8 1194.8,1380.4 1195.8,1394.9 1197.1,1382.4 1198.1,1399.0 1199.4,1381.9 1200.4,1400.5 1201.7,1385.3 1202.7,1399.0 1204.0,1385.7 1205.0,1403.0 1206.3,1386.5 1207.3,1402.5 1208.6,1387.8 1209.6,1405.0 1210.9,1388.8 1211.9,1403.1 1213.2,1390.3 1214.2,1404.5 1215.5,1392.1 1216.5,1406.6 1217.8,1392.7 1218.8,1407.1 1220.1,1390.9 1221.1,1407.2 1222.4,1393.4 1223.4,1408.2 1224.7,1395.5 1225.7,1408.7 1227.0,1394.6 1228.0,1408.7 1229.3,1395.6 1230.3,1410.7 1231.6,1395.4 1232.6,1409.3 1233.9,1395.1 1234.9,1410.5 1236.2,1395.0 1237.2,1411.2 1238.5,1393.3 1239.5,1410.0 1240.8,1396.6 1241.8,1408.9 1243.1,1394.0 1244.1,1409.9 1245.4,1396.0 1246.4,1411.1 1247.7,1394.0 1248.7,1410.2 1250.0,1392.7 1251.0,1410.1 1252.3,1392.2 1253.3,1409.7 1254.6,1390.7 1255.6,1408.4 1256.9,1392.7 1257.9,1405.1 1259.2,1390.7 1260.2,1406.6 1261.5,1389.5 1262.5,1405.3 1263.8,1386.2 1264.8,1402.6 1266.1,1387.1 1267.1,1400.1 1268.4,1383.2 1269.4,1398.6 1270.7,1383.0 1271.7,1397.3 1273.0,1381.0 1274.0,1396.3 1275.3,1379.1 1276.3,1394.9 1277.6,1377.3 1278.6,1394.9 1279.9,1375.4 1280.9,1392.1 1282.2,1375.9 1283.2,1390.0 1284.5,1372.4 1285.5,1388.3 1286.8,1371.3 1287.8,1387.8 1289.1,1368.0 1290.1,1385.3 1291.4,1365.0 1292.4,1383.5 1293.7,1363.8 1294.7,1378.8 1296.0,1362.0 1297.0,1379.7 1298.3,1360.4 1299.3,1377.8 1300.6,1357.4 1301.6,1373.4 1302.9,1357.1 1303.9,1372.9 1305.2,1355.1 1306.2,1371.1 1307.5,1354.0 1308.5,1369.4 1309.8,1350.3 1310.8,1367.7 1312.1,1349.1 1313.1,1362.7 1314.4,1345.4 1315.4,1362.6 1316.7,1344.6 1317.7,1359.1 1319.0,1340.9 1320.0,1358.3 1321.3,1340.1 1322.3,1354.1 1323.6,1339.1 1324.6,1354.4 1325.9,1337.8 1326.9,1352.8 1328.2,1333.9 1329.2,1348.9 1330.5,1332.7 1331.5,1347.4 1332.8,1328.6 1333.8,1344.3 1335.1,1326.0 1336.1,1343.5 1337.4,1324.3 1338.4,1341.2 1339.7,1322.4 1340.7,1339.9 1342.0,1321.0 1343.0,1338.0 1344.3,1320.0 1345.3,1334.9 1346.6,1315.2 1347.6,1333.3 1348.9,1313.8 1349.9,1330.0 1351.2,1311.9 1352.2,1326.4 1353.5,1309.2 1354.5,1323.7 1355.8,1307.6 1356.8,1322.7 1358.1,1306.3 1359.1,1320.0 1360.4,1304.0 1361.4,1319.3 1362.7,1299.7 1363.7,1316.2 1365.0,1298.5 1366.0,1314.7 1367.3,1295.1 1368.3,1310.7 1369.6,1293.8 1370.6,1308.9 1371.9,1289.8 1372.9,1306.6 1374.2,1287.5 1375.2,1305.3 1376.5,1286.0 1377.5,1301.5 1378.8,1285.7 1379.8,1301.1 1381.1,1281.7 1382.1,1297.8 1383.4,1281.3 1384.4,1298.0 1385.7,1279.9 1386.7,1294.7 1388.0,1279.6 1389.0,1295.2 1390.3,1277.4 1391.3,1292.3 1392.6,1275.2 1393.6,1292.4 1394.9,1275.6 1395.9,1290.0 1397.2,1272.4 1398.2,1289.3 1399.5,1273.4 1400.5,1288.7 1401.8,1269.0 1402.8,1286.0 1404.1,1271.3 1405.1,1283.3 1406.4,1270.1 1407.4,1283.7 1408.7,1266.7 1409.7,1282.7 1411.0,1267.4 1412.0,1281.1 1413.3,1264.1 1414.3,1281.1 1415.6,1265.7 1416.6,1279.6 1417.9,1263.8 1418.9,1279.4 1420.2,1263.8 1421.2,1279.6 1422.5,1263.2 1423.5,1279.1 1424.8,1261.8 1425.8,1276.0 1427.1,1260.2 1428.1,1277.6 1429.4,1261.1 1430.4,1276.9 1431.7,1261.0 1432.7,1275.8 1434.0,1259.7 1435.0,1275.8 1436.3,1260.9 1437.3,1276.1 1438.6,1261.0 1439.6,1277.4 1440.9,1261.9 1441.9,1274.6 1443.2,1261.5 1444.2,1277.8 1445.5,1260.6 1446.5,1276.6 1447.8,1260.8 1448.8,1277.6 1450.1,1262.9 1451.1,1276.8 1452.4,1264.2 1453.4,1277.2 1454.7,1261.8 1455.7,1277.4 1457.0,1262.7 1458.0,1279.9 1459.3,1262.6 1460.3,1278.6 1461.6,1264.9 1462.6,1278.4 1463.9,1264.0 1464.9,1279.2 1466.2,1267.1 1467.2,1280.2 1468.5,1265.9 1469.5,1283.2 1470.8,1267.5 1471.8,1284.2 1473.1,1269.1 1474.1,1286.0 1475.4,1271.9 1476.4,1287.4 1477.7,1270.6 1478.7,1286.6 1480.0,1274.5 1481.0,1287.7 1482.3,1273.8 1483.3,1291.3 1484.6,1277.5 1485.6,1293.2 1486.9,1279.7 1487.9,1295.3 1489.2,1281.1 1490.2,1293.9 1491.5,1282.9 1492.5,1297.4 1493.8,1284.6 1494.8,1299.0 1496.1,1285.7 1497.1,1301.7 1498.4,1288.6 1499.4,1301.6 1500.7,1287.3 1501.7,1305.1 1503.0,1292.2 1504.0,1306.2 1505.3,1293.8 1506.3,1308.8 1507.6,1292.7 1508.6,1309.4 1509.9,1295.7 1510.9,1312.9 1512.2,1297.6 1513.2,1312.5 1514.5,1301.6 1515.5,1316.8 1516.8,1302.1 1517.8,1318.7 1519.1,1305.6 1520.1,1320.1 1521.4,1305.0 1522.4,1320.3 1523.7,1309.4 1524.7,1324.0 1526.0,1311.1 1527.0,1326.0 1528.3,1313.8 1529.3,1329.2 1530.6,1314.5 1531.6,1331.5 1532.9,1318.0 1533.9,1331.9 1535.2,1317.0 1536.2,1335.1 1537.5,1320.8 1538.5,1337.9 1539.8,1321.0 1540.8,1337.1 1542.1,1324.6 1543.1,1339.1 1544.4,1325.5 1545.4,1340.4 1546.7,1327.3 1547.7,1345.1 1549.0,1331.6 1550.0,1346.7 1551.3,1333.5 1552.3,1348.1 1553.6,1336.1 1554.6,1349.1 1555.9,1338.1 1556.9,1353.6 1558.2,1339.0 1559.2,1355.8 1560.5,1340.2 1561.5,1356.4 1562.8,1344.5 1563.8,1359.8 1565.1,1346.8 1566.1,1359.6 1567.4,1346.1 1568.4,1362.1 1569.7,1350.7 1570.7,1365.1 1572.0,1351.2 1573.0,1367.3 1574.3,1352.4 1575.3,1367.7 1576.6,1355.2 1577.6,1369.7 1578.9,1355.9 1579.9,1372.1 1581.2,1358.4 1582.2,1375.8 1583.5,1360.9 1584.5,1378.2 1585.8,1361.4 1586.8,1377.9 1588.1,1365.4 1589.1,1382.1 1590.4,1367.6 1591.4,1380.8 1592.7,1367.1 1593.7,1383.5 1595.0,1369.0 1596.0,1385.1 1597.3,1371.3 1598.3,1386.1 1599.6,1372.6 1600.6,1390.6 1601.9,1375.0 1602.9,1392.2 1604.2,1376.4 1605.2,1393.2 1606.5,1378.2 1607.5,1394.0 1608.8,1378.8 1609.8,1394.3 1611.1,1380.1 1612.1,1395.7 1613.4,1383.4 1614.4,1400.0 1615.7,1385.3 1616.7,1399.2 1618.0,1384.5 1619.0,1401.9 1620.3,1388.0 1621.3,1400.5 1622.6,1388.9 1623.6,1404.5 1624.9,1389.6 1625.9,1405.7 1627.2,1389.1 1628.2,1404.3 1629.5,1391.2 1630.5,1405.9 1631.8,1392.3 1632.8,1405.6 1634.1,1393.7 1635.1,1407.9 1636.4,1392.2 1637.4,1409.4 1638.7,1392.6 1639.7,1409.5 1641.0,1395.8 1642.0,1410.1 1643.3,1394.5 1644.3,1408.6 1645.6,1395.4 1646.6,1409.6 1647.9,1395.1 1648.9,1412.2 1650.2,1396.0 1651.2,1409.0 1652.5,1395.2 1653.5,1411.3 1654.8,1395.6 1655.8,1410.6 1657.1,1396.4 1658.1,1409.9 1659.4,1393.5 1660.4,1408.9 1661.7,1395.8 1662.7,1411.0 1664.0,1393.6 1665.0,1408.6 1666.3,1393.6 1667.3,1407.1 1668.6,1394.0 1669.6,1408.8 1670.9,1392.4 1671.9,1406.1 1673.2,1390.1 1674.2,1407.5 1675.5,1389.7 1676.5,1406.1 1677.8,1389.1 1678.8,1404.6 1680.1,1384.8 1681.1,1400.6 1682.4,1385.7 1683.4,1402.2 1684.7,1382.1 1685.7,1397.7 1687.0,1381.8 1688.0,1398.9 1689.3,1382.2 1690.3,1395.0 1691.6,1378.3 1692.6,1393.8 1693.9,1377.7 1694.9,1390.8 1696.2,1376.8 1697.2,1390.3 1698.5,1373.1 1699.5,1388.4 1700.8,1369.6 1701.8,1386.3 1703.1,1370.3 1704.1,1383.8 1705.4,1368.0 1706.4,1383.8 1707.7,1364.0 1708.7,1382.5 1710.0,1361.9 1711.0,1379.4 1712.3,1362.4 1713.3,1377.2 1714.6,1358.5 1715.6,1376.5 1716.9,1357.5 1717.9,1373.1 1719.2,1355.5 1720.2,1371.6 1721.5,1352.2 1722.5,1370.3 1723.8,1350.1 1724.8,1366.8 1726.1,1351.0 1727.1,1366.2 1728.4,1348.3 1729.4,1364.0 1730.7,1345.6 1731.7,1362.3 1733.0,1344.0 1734.0,1359.5 1735.3,1342.3 1736.3,1357.9 1737.6,1338.9 1738.6,1354.2 1739.9,1336.8 1740.9,1351.2 1742.2,1333.6 1743.2,1349.8 1744.5,1331.2 1745.5,1349.2 1746.8,1331.2 1747.8,1347.0 1749.1,1328.8 1750.1,1343.4 1751.4,1328.0 1752.4,1340.8 1753.7,1323.8 1754.7,1340.2 1756.0,1323.3 1757.0,1338.9 1758.3,1318.1 1759.3,1335.9 1760.6,1316.1 1761.6,1332.4 1762.9,1313.9 1763.9,1329.7 1765.2,1312.4 1766.2,1327.3 1767.5,1311.1 1768.5,1327.0 1769.8,1308.0 1770.8,1324.7 1772.1,1307.3 1773.1,1322.3 1774.4,1304.2 1775.4,1319.8 1776.7,1301.7 1777.7,1316.8 1779.0,1300.2 1780.0,1315.9 1781.3,1296.2 1782.3,1311.2 1783.6,1295.5 1784.6,1309.5 1785.9,1292.8 1786.9,1309.5 1788.2,1288.7 1789.2,1305.3 1790.5,1286.8 1791.5,1304.1 1792.8,1287.3 1793.8,1301.9 1795.1,1283.7 1796.1,1300.4 1797.4,1282.1 1798.4,1296.3 1799.7,1280.0 1800.7,1295.6 1802.0,1278.8 1803.0,1295.0 1804.3,1276.2 1805.3,1293.0 1806.6,1277.2 1807.6,1291.4 1808.9,1276.1 1809.9,1291.5 1811.2,1272.6 1812.2,1288.5 1813.5,1272.0 1814.5,1287.2 1815.8,1269.4 1816.8,1285.2 1818.1,1269.3 1819.1,1284.8 1820.4,1270.0 1821.4,1284.6 1822.7,1267.0 1823.7,1282.5 1825.0,1265.9 1826.0,1283.4 1827.3,1266.3 1828.3,1280.4 1829.6,1265.3 1830.6,1280.4 1831.9,1263.0 1832.9,1280.0 1834.2,1264.9 1835.2,1277.7 1836.5,1261.9 1837.5,1279.8 1838.8,1261.0 1839.8,1275.9 1841.1,1262.8 1842.1,1276.9 1843.4,1260.4 1844.4,1278.3 1845.7,1261.5 1846.7,1276.2 1848.0,1259.1 1849.0,1277.4 1850.3,1261.6 1851.3,1274.5 1852.6,1259.0 1853.6,1277.6 1854.9,1262.3 1855.9,1277.4 1857.2,1262.1 1858.2,1276.7 1859.5,1262.2 1860.5,1274.9 1861.8,1262.9 1862.8,1276.0 1864.1,1262.9 1865.1,1278.8 1866.4,1262.3 1867.4,1279.5 1868.7,1261.3 1869.7,1277.7 1871.0,1264.1 1872.0,1278.2 1873.3,1263.7 1874.3,1280.0 1875.6,1265.9 1876.6,1280.6 1877.9,1265.0 1878.9,1279.6 1880.2,1267.4 1881.2,1280.8 1882.5,1268.0 1883.5,1282.5 1884.8,1268.6 1885.8,1283.3 1887.1,1270.8 1888.1,1283.2 1889.4,1270.6 1890.4,1285.3 1891.7,1272.2 1892.7,1287.9 1894.0,1272.2 1895.0,1288.8 1896.3,1275.3 1897.3,1290.7 1898.6,1276.9 1899.6,1290.8 1900.9,1279.0 1901.9,1292.5 1903.2,1278.1 1904.2,1295.1 1905.5,1281.7 1906.5,1295.0 1907.8,1283.2 1908.8,1296.7 1910.1,1284.4 1911.1,1298.2 1912.4,1285.4 1913.4,1302.1 1914.7,1287.2 1915.7,1305.1 1917.0,1289.9 1918.0,1304.0 1919.3,1290.0 1920.3,1307.7 1921.6,1293.1 1922.6,1307.9 1923.9,1295.5 1924.9,1309.7 1926.2,1296.6 1927.2,1313.2 1928.5,1298.1 1929.5,1313.6 1930.8,1300.2 1931.8,1316.9 1933.1,1304.9 1934.1,1320.7 1935.4,1306.6 1936.4,1320.4 1937.7,1308.9 1938.7,1324.9 1940.0,1309.9 1941.0,1325.3 1942.3,1311.9 1943.3,1327.8 1944.6,1312.9 1945.6,1329.1 1946.9,1315.7 1947.9,1330.8 1949.2,1318.9 1950.2,1334.5 1951.5,1318.9 1952.5,1334.2 1953.8,1320.9 1954.8,1337.1 1956.1,1325.1 1957.1,1338.0 1958.4,1326.6 1959.4,1341.0 1960.7,1326.1 1961.7,1344.0 1963.0,1329.0 1964.0,1343.7 1965.3,1332.8 1966.3,1347.8 1967.6,1334.5 1968.6,1350.1 1969.9,1337.5 1970.9,1352.7 1972.2,1337.7 1973.2,1354.2 1974.5,1340.7 1975.5,1354.9 1976.8,1341.6 1977.8,1356.0 1979.1,1345.5 1980.1,1360.3 1981.4,1346.9 1982.4,1362.9 1983.7,1347.7 1984.7,1363.7 1986.0,1350.3 1987.0,1366.1 1988.3,1353.3 1989.3,1367.3 1990.6,1356.1 1991.6,1369.0 1992.9,1355.1 1993.9,1371.4 1995.2,1358.1 1996.2,1375.2 1997.5,1361.2 1998.5,1375.0 1999.8,1361.1 2000.8,1377.2 2002.1,1365.8 2003.1,1380.4 2004.4,1364.6 2005.4,1380.4 2006.7,1368.9 2007.7,1382.2 2009.0,1368.3 2010.0,1384.6 2011.3,1372.1 2012.3,1385.7 2013.6,1373.9 2014.6,1389.2 2015.9,1375.0 2016.9,1390.9 2018.2,1376.1 2019.2,1391.1 2020.5,1378.2 2021.5,1393.8 2022.8,1381.0 2023.8,1394.8 2025.1,1380.4 2026.1,1396.3 2027.4,1383.5 2028.4,1398.1 2029.7,1382.9 2030.7,1400.9 2032.0,1386.3 2033.0,1400.3 2034.3,1387.1 2035.3,1401.0 2036.6,1387.9 2037.6,1402.3 2038.9,1387.7 2039.9,1403.5 2041.2,1390.5 2042.2,1402.9 2043.5,1389.6 2044.5,1404.2 2045.8,1391.2 2046.8,1405.9 2048.1,1392.2 2049.1,1407.2 2050.4,1391.4 2051.4,1408.4 2052.7,1393.3 2053.7,1410.6 2055.0,1393.4 2056.0,1407.9 2057.3,1394.8 2058.3,1410.0 2059.6,1396.2 2060.6,1409.5 2061.9,1395.2 2062.9,1411.3 2064.2,1394.5 2065.2,1409.2 2066.5,1394.4 2067.5,1412.2 2068.8,1395.1 2069.8,1409.3 2071.1,1396.5 2072.1,1409.6 2073.4,1393.3 2074.4,1409.0 2075.7,1392.8 2076.7,1408.4 2078.0,1392.8 2079.0,1410.5 2080.3,1394.3 2081.3,1407.7 2082.6,1393.5 2083.6,1410.0 2084.9,1392.5 2085.9,1406.7 2087.2,1392.2 2088.2,1407.0 2089.5,1390.3 2090.5,1405.4 2091.8,1389.2 2092.8,1404.9 2094.1,1387.4 2095.1,1403.5 2096.4,1386.7 2097.4,1402.0 2098.7,1384.0 2099.7,1399.7 2101.0,1381.7 2102.0,1397.1 2103.3,1380.0 2104.3,1395.8 2105.6,1381.0 2106.6,1394.2 2107.9,1377.0 2108.9,1394.5 2110.2,1376.4 2111.2,1390.9 2112.5,1372.8 2113.5,1388.2 2114.8,1370.4 2115.8,1388.3 2117.1,1368.5 2118.1,1384.5 2119.4,1368.7 2120.4,1383.0 2121.7,1365.2 2122.7,1380.5 2124.0,1365.9 2125.0,1379.6 2126.3,1363.0 2127.3,1378.5 2128.6,1359.2 2129.6,1374.0 2130.9,1357.2 2131.9,1373.2 2133.2,1355.2 2134.2,1370.5 2135.5,1353.9 2136.5,1370.3 2137.8,1351.3 2138.8,1366.5 2140.1,1350.4 2141.1,1365.0 2142.4,1347.8 2143.4,1364.2 2144.7,1344.6 2145.7,1361.4 2147.0,1343.7 2148.0,1358.4 2149.3,1341.2 2150.3,1358.5 2151.6,1341.5 2152.6,1356.0 2153.9,1336.9 2154.9,1351.8 2156.2,1334.1 2157.2,1352.4 2158.5,1332.2 2159.5,1349.3 2160.8,1330.6 2161.8,1346.2 2163.1,1329.3 2164.1,1346.3 2165.4,1326.2 2166.4,1341.7 2167.7,1325.5 2168.7,1340.2 2170.0,1324.4 2171.0,1338.1 2172.3,1320.1 2173.3,1335.0 2174.6,1318.1 2175.6,1332.5 2176.9,1314.7 2177.9,1331.8 2179.2,1313.8 2180.2,1330.8 2181.5,1310.3 2182.5,1327.9 2183.8,1309.3 2184.8,1324.5 2186.1,1307.7 2187.1,1323.0 2188.4,1303.2 2189.4,1319.1 2190.7,1303.8 2191.7,1318.1 2193.0,1299.0 2194.0,1316.0 2195.3,1298.3 2196.3,1313.6 2197.6,1296.5 2198.6,1312.1 2199.9,1292.0 2200.9,1309.0 2202.2,1290.1 2203.2,1305.1 2204.5,1289.7 2205.5,1303.6 2206.8,1288.4 2207.8,1300.7 2209.1,1285.7 2210.1,1301.2 2211.4,1282.4 2212.4,1298.4 2213.7,1281.6 2214.7,1296.6 2216.0,1278.2 2217.0,1294.3 2218.3,1277.2 2219.3,1293.1 2220.6,1275.4 2221.6,1291.2 2222.9,1276.5 2223.9,1291.6 2225.2,1275.2 2226.2,1288.2 2227.5,1271.8 2228.5,1288.3 2229.8,1271.4 2230.8,1288.6 2232.1,1271.7 2233.1,1287.0 2234.4,1267.9 2235.4,1285.8 2236.7,1267.3 2237.7,1282.5 2239.0,1267.2 2240.0,1282.8 2241.3,1265.6 2242.3,1282.5 2243.6,1263.8 2244.6,1281.9 2245.9,1263.9 2246.9,1279.3 2248.2,1265.3 2249.2,1277.7 2250.5,1262.2 2251.5,1278.8 2252.8,1260.6 2253.8,1279.4 2255.1,1262.8 2256.1,1277.8 2257.4,1262.3 2258.4,1277.1 2259.7,1262.4 2260.7,1277.1 2262.0,1261.0 2263.0,1277.2 2264.3,1260.0 2265.3,1275.8 2266.6,1260.4 2267.6,1275.7 2268.9,1260.3 2269.9,1275.5" stroke="#00f872" stroke-width="1.5" fill="none" opacity="0.85"/>
<polyline points="-257.4,1253.5 -256.4,1280.2 -255.4,1256.0 -254.4,1281.4 -253.4,1257.2 -252.4,1281.3 -251.4,1247.1 -250.4,1279.7 -249.4,1253.3 -248.4,1275.7 -247.4,1257.9 -246.4,1274.4 -245.4,1250.7 -244.4,1274.6 -243.4,1256.7 -242.4,1276.6 -241.4,1253.0 -240.4,1273.8 -239.4,1259.2 -238.4,1271.3 -237.4,1256.8 -236.4,1274.2 -235.4,1255.0 -234.4,1271.2 -233.4,1256.0 -232.4,1271.8 -231.4,1258.3 -230.4,1273.2 -229.4,1256.8 -228.4,1270.3 -227.4,1257.2 -226.4,1269.3 -225.4,1258.4 -224.4,1270.4 -223.4,1254.8 -222.4,1273.0 -221.4,1254.1 -220.4,1272.7 -219.4,1259.1 -218.4,1273.0 -217.4,1254.3 -216.4,1270.8 -215.4,1258.2 -214.4,1271.3 -213.4,1255.3 -212.4,1274.0 -211.4,1255.8 -210.4,1273.3 -209.4,1256.5 -208.4,1272.5 -207.4,1258.8 -206.4,1271.9 -205.4,1260.3 -204.4,1274.9 -203.4,1258.1 -202.4,1271.5" stroke="#14fb84" stroke-width="3" fill="none"/>
<polygon points="-255.4,1270.5 -251.4,1256.2 -249.4,1235.1 -246.4,1244.7 -241.4,1246.4 -235.4,1250.1 -231.4,1246.2 -225.4,1252.7 -219.4,1255.8 -213.4,1258.2 -205.4,1263.0 -195.4,1267.2 -195.4,1280.2 -219.4,1276.3 -231.4,1278.9 -241.4,1284.6 -249.4,1289.7 -255.4,1285.2" fill="#00f87a"/>
<polygon points="-54.9,1376.9 -48.9,1375.1 -42.9,1373.7 -36.9,1374.7 -30.9,1378.8 -24.9,1387.4 -16.9,1393.7 -16.9,1411.7 -22.9,1415.4 -30.9,1418.4 -36.9,1417.7 -42.9,1410.4 -48.9,1401.8 -54.9,1393.0" fill="#00f87a"/>
<path d="M-271.4,1286.2v26M-269.4,1285.0v18M-255.4,1277.2v30M-252.4,1275.9v22M-249.4,1274.7v34M-245.4,1273.1v20M-240.4,1271.2v26M-299.4,1310.7v20M-295.4,1306.7v24M-291.4,1302.8v16M-299.4,1310.7v-16M-293.4,1304.8v-18M-277.4,1290.2v-20M-273.4,1287.5v-16" stroke="#14fb84" stroke-width="2.6" fill="none" opacity="0.85"/>
<polyline points="-68.9,1361.9 -67.9,1387.3 -66.7,1365.0 -65.7,1388.6 -64.5,1369.1 -63.5,1391.5 -62.3,1368.1 -61.3,1397.6 -60.1,1367.8 -59.1,1399.6 -57.9,1368.3 -56.9,1394.8 -55.7,1365.0 -54.7,1407.2 -53.5,1361.0 -52.5,1399.1 -51.3,1361.2 -50.3,1414.3 -49.1,1358.0 -48.1,1418.1 -46.9,1377.2 -45.9,1416.1 -44.7,1360.3 -43.7,1422.4 -42.5,1368.8 -41.5,1410.9 -40.3,1368.4 -39.3,1404.6 -38.1,1377.3 -37.1,1406.4 -35.9,1376.4 -34.9,1405.1 -33.7,1378.7 -32.7,1415.2 -31.5,1388.8 -30.5,1411.9 -29.3,1386.8 -28.3,1406.2 -27.1,1386.4 -26.1,1413.6 -24.9,1391.3 -23.9,1408.5 -22.7,1388.1 -21.7,1408.3 -20.5,1394.0 -19.5,1412.3 -18.3,1394.8 -17.3,1410.0" stroke="#14fb84" stroke-width="2.6" fill="none"/>
<polyline points="157.5,1242.0 158.5,1281.2 159.5,1258.2 160.5,1281.8 161.5,1247.2 162.5,1278.2 163.5,1247.7 164.5,1276.0 165.5,1247.6 166.5,1279.6 167.5,1256.3 168.5,1275.6 169.5,1254.2 170.5,1277.4 171.5,1251.8 172.5,1274.1 173.5,1251.6 174.5,1271.6 175.5,1251.8 176.5,1275.7 177.5,1250.9 178.5,1274.3 179.5,1258.4 180.5,1272.3 181.5,1251.6 182.5,1272.4 183.5,1252.4 184.5,1273.7 185.5,1258.0 186.5,1272.8 187.5,1254.6 188.5,1273.3 189.5,1252.9 190.5,1271.4 191.5,1255.8 192.5,1268.9 193.5,1257.3 194.5,1272.6 195.5,1259.1 196.5,1270.8 197.5,1258.9 198.5,1268.8 199.5,1259.4 200.5,1270.0 201.5,1257.5 202.5,1273.7 203.5,1259.7 204.5,1270.4 205.5,1257.7 206.5,1270.9 207.5,1261.1 208.5,1272.7 209.5,1258.3 210.5,1272.0 211.5,1258.7 212.5,1271.8" stroke="#14fb84" stroke-width="3" fill="none"/>
<polygon points="159.5,1270.5 163.5,1255.5 165.5,1235.0 168.5,1245.9 173.5,1247.0 179.5,1250.3 183.5,1245.8 189.5,1251.0 195.5,1254.9 201.5,1259.8 209.5,1261.5 219.5,1265.7 219.5,1280.2 195.5,1276.3 183.5,1278.9 173.5,1284.6 165.5,1289.7 159.5,1285.2" fill="#00f87a"/>
<polygon points="360.0,1376.3 366.0,1373.7 372.0,1373.8 378.0,1373.5 384.0,1376.6 390.0,1385.9 398.0,1395.6 398.0,1411.4 392.0,1414.5 384.0,1416.8 378.0,1418.2 372.0,1410.1 366.0,1400.3 360.0,1394.0" fill="#00f87a"/>
<path d="M143.5,1286.2v26M145.5,1285.0v18M159.5,1277.2v30M162.5,1275.9v22M165.5,1274.7v34M169.5,1273.1v20M174.5,1271.2v26M115.5,1310.7v20M119.5,1306.7v24M123.5,1302.8v16M115.5,1310.7v-16M121.5,1304.8v-18M137.5,1290.2v-20M141.5,1287.5v-16" stroke="#14fb84" stroke-width="2.6" fill="none" opacity="0.85"/>
<polyline points="346.0,1365.4 347.0,1384.8 348.2,1367.6 349.2,1390.3 350.4,1362.8 351.4,1385.8 352.6,1362.8 353.6,1397.0 354.8,1367.1 355.8,1393.3 357.0,1366.9 358.0,1391.8 359.2,1361.6 360.2,1397.4 361.4,1376.1 362.4,1405.8 363.6,1359.8 364.6,1400.0 365.8,1358.5 366.8,1405.2 368.0,1365.9 369.0,1418.8 370.2,1363.7 371.2,1408.6 372.4,1366.7 373.4,1404.1 374.6,1369.8 375.6,1413.1 376.8,1380.2 377.8,1412.1 379.0,1381.6 380.0,1404.7 381.2,1379.5 382.2,1414.5 383.4,1384.9 384.4,1414.5 385.6,1388.2 386.6,1407.6 387.8,1387.4 388.8,1413.7 390.0,1385.9 391.0,1407.3 392.2,1390.9 393.2,1408.7 394.4,1388.3 395.4,1409.3 396.6,1395.4 397.6,1411.2" stroke="#14fb84" stroke-width="2.6" fill="none"/>
<polyline points="572.4,1239.3 573.4,1278.6 574.4,1249.0 575.4,1277.8 576.4,1247.3 577.4,1281.2 578.4,1245.5 579.4,1278.3 580.4,1249.1 581.4,1278.4 582.4,1250.8 583.4,1275.7 584.4,1251.2 585.4,1275.4 586.4,1259.0 587.4,1273.0 588.4,1250.2 589.4,1274.9 590.4,1253.0 591.4,1275.1 592.4,1257.1 593.4,1273.7 594.4,1255.0 595.4,1271.9 596.4,1254.2 597.4,1271.8 598.4,1256.1 599.4,1269.6 600.4,1258.5 601.4,1271.9 602.4,1252.8 603.4,1271.2 604.4,1255.6 605.4,1270.0 606.4,1258.8 607.4,1270.5 608.4,1255.0 609.4,1269.0 610.4,1256.4 611.4,1269.3 612.4,1255.4 613.4,1271.1 614.4,1257.8 615.4,1272.5 616.4,1257.0 617.4,1271.0 618.4,1256.2 619.4,1272.8 620.4,1256.9 621.4,1271.7 622.4,1257.2 623.4,1273.1 624.4,1259.4 625.4,1275.1 626.4,1257.6 627.4,1275.7" stroke="#14fb84" stroke-width="3" fill="none"/>
<polygon points="574.4,1269.6 578.4,1256.3 580.4,1235.3 583.4,1245.2 588.4,1247.5 594.4,1249.5 598.4,1248.1 604.4,1252.1 610.4,1254.8 616.4,1259.9 624.4,1261.5 634.4,1265.5 634.4,1280.2 610.4,1276.3 598.4,1278.9 588.4,1284.6 580.4,1289.7 574.4,1285.2" fill="#00f87a"/>
<polygon points="774.9,1376.5 780.9,1376.4 786.9,1372.5 792.9,1372.4 798.9,1377.2 804.9,1386.7 812.9,1395.3 812.9,1410.6 806.9,1415.4 798.9,1417.7 792.9,1417.0 786.9,1411.2 780.9,1401.2 774.9,1393.7" fill="#00f87a"/>
<path d="M558.4,1286.2v26M560.4,1285.0v18M574.4,1277.2v30M577.4,1275.9v22M580.4,1274.7v34M584.4,1273.1v20M589.4,1271.2v26M530.4,1310.7v20M534.4,1306.7v24M538.4,1302.8v16M530.4,1310.7v-16M536.4,1304.8v-18M552.4,1290.2v-20M556.4,1287.5v-16" stroke="#14fb84" stroke-width="2.6" fill="none" opacity="0.85"/>
<polyline points="760.9,1365.7 761.9,1383.3 763.1,1365.1 764.1,1386.3 765.3,1370.8 766.3,1386.3 767.5,1367.9 768.5,1390.9 769.7,1369.7 770.7,1390.4 771.9,1362.8 772.9,1401.4 774.1,1372.0 775.1,1395.2 776.3,1360.7 777.3,1410.2 778.5,1364.3 779.5,1404.0 780.7,1365.7 781.7,1401.8 782.9,1356.1 783.9,1425.8 785.1,1362.3 786.1,1411.0 787.3,1375.0 788.3,1413.3 789.5,1377.0 790.5,1417.2 791.7,1375.0 792.7,1416.7 793.9,1378.7 794.9,1406.0 796.1,1381.8 797.1,1405.1 798.3,1382.3 799.3,1406.6 800.5,1382.8 801.5,1412.6 802.7,1385.5 803.7,1412.1 804.9,1386.4 805.9,1407.7 807.1,1388.7 808.1,1412.3 809.3,1390.4 810.3,1410.0 811.5,1393.4 812.5,1410.3" stroke="#14fb84" stroke-width="2.6" fill="none"/>
<polyline points="987.3,1237.3 988.3,1278.8 989.3,1255.9 990.3,1279.3 991.3,1244.0 992.3,1281.3 993.3,1257.4 994.3,1275.5 995.3,1248.4 996.3,1278.9 997.3,1254.0 998.3,1277.1 999.3,1252.2 1000.3,1276.5 1001.3,1250.6 1002.3,1274.7 1003.3,1250.4 1004.3,1275.4 1005.3,1254.6 1006.3,1272.7 1007.3,1258.7 1008.3,1271.0 1009.3,1256.6 1010.3,1272.2 1011.3,1252.4 1012.3,1269.7 1013.3,1255.0 1014.3,1269.9 1015.3,1256.6 1016.3,1271.1 1017.3,1256.5 1018.3,1272.3 1019.3,1253.0 1020.3,1271.1 1021.3,1257.2 1022.3,1269.6 1023.3,1255.7 1024.3,1268.8 1025.3,1259.3 1026.3,1271.7 1027.3,1256.2 1028.3,1273.3 1029.3,1257.5 1030.3,1269.2 1031.3,1255.9 1032.3,1271.9 1033.3,1255.7 1034.3,1271.0 1035.3,1259.5 1036.3,1270.5 1037.3,1261.2 1038.3,1270.6 1039.3,1257.9 1040.3,1271.7 1041.3,1261.4 1042.3,1276.0" stroke="#14fb84" stroke-width="3" fill="none"/>
<polygon points="989.3,1268.2 993.3,1255.7 995.3,1233.8 998.3,1246.7 1003.3,1248.4 1009.3,1249.7 1013.3,1245.9 1019.3,1252.6 1025.3,1254.4 1031.3,1259.5 1039.3,1262.4 1049.3,1266.8 1049.3,1280.2 1025.3,1276.3 1013.3,1278.9 1003.3,1284.6 995.3,1289.7 989.3,1285.2" fill="#00f87a"/>
<polygon points="1189.8,1377.7 1195.8,1374.2 1201.8,1373.1 1207.8,1372.4 1213.8,1376.8 1219.8,1387.3 1227.8,1393.0 1227.8,1411.4 1221.8,1414.7 1213.8,1416.3 1207.8,1416.2 1201.8,1411.1 1195.8,1399.9 1189.8,1392.2" fill="#00f87a"/>
<path d="M973.3,1286.2v26M975.3,1285.0v18M989.3,1277.2v30M992.3,1275.9v22M995.3,1274.7v34M999.3,1273.1v20M1004.3,1271.2v26M945.3,1310.7v20M949.3,1306.7v24M953.3,1302.8v16M945.3,1310.7v-16M951.3,1304.8v-18M967.3,1290.2v-20M971.3,1287.5v-16" stroke="#14fb84" stroke-width="2.6" fill="none" opacity="0.85"/>
<polyline points="1175.8,1366.1 1176.8,1388.1 1178.0,1361.3 1179.0,1385.4 1180.2,1363.3 1181.2,1387.5 1182.4,1364.5 1183.4,1395.8 1184.6,1369.9 1185.6,1390.2 1186.8,1361.8 1187.8,1399.7 1189.0,1370.7 1190.0,1399.8 1191.2,1367.4 1192.2,1407.0 1193.4,1373.1 1194.4,1402.8 1195.6,1369.8 1196.6,1413.7 1197.8,1360.9 1198.8,1417.6 1200.0,1370.1 1201.0,1411.6 1202.2,1367.4 1203.2,1416.2 1204.4,1376.8 1205.4,1404.1 1206.6,1379.0 1207.6,1409.6 1208.8,1380.7 1209.8,1409.1 1211.0,1383.2 1212.0,1409.4 1213.2,1382.8 1214.2,1408.6 1215.4,1389.4 1216.4,1412.0 1217.6,1388.3 1218.6,1410.1 1219.8,1386.4 1220.8,1414.4 1222.0,1393.8 1223.0,1410.6 1224.2,1392.8 1225.2,1414.9 1226.4,1390.0 1227.4,1411.9" stroke="#14fb84" stroke-width="2.6" fill="none"/>
<polyline points="1402.2,1245.8 1403.2,1279.7 1404.2,1247.7 1405.2,1279.4 1406.2,1259.4 1407.2,1277.1 1408.2,1258.7 1409.2,1279.9 1410.2,1252.7 1411.2,1278.4 1412.2,1249.1 1413.2,1276.1 1414.2,1255.1 1415.2,1277.2 1416.2,1251.8 1417.2,1272.4 1418.2,1255.7 1419.2,1276.3 1420.2,1259.7 1421.2,1270.9 1422.2,1253.1 1423.2,1274.8 1424.2,1256.6 1425.2,1270.3 1426.2,1258.5 1427.2,1273.4 1428.2,1255.2 1429.2,1269.3 1430.2,1256.4 1431.2,1272.3 1432.2,1258.3 1433.2,1269.8 1434.2,1257.7 1435.2,1269.5 1436.2,1257.4 1437.2,1272.1 1438.2,1254.9 1439.2,1268.8 1440.2,1254.7 1441.2,1269.0 1442.2,1255.7 1443.2,1269.6 1444.2,1256.3 1445.2,1270.4 1446.2,1260.0 1447.2,1270.8 1448.2,1257.1 1449.2,1271.4 1450.2,1259.2 1451.2,1270.9 1452.2,1258.4 1453.2,1274.5 1454.2,1259.8 1455.2,1271.4 1456.2,1260.0 1457.2,1273.7" stroke="#14fb84" stroke-width="3" fill="none"/>
<polygon points="1404.2,1269.9 1408.2,1256.0 1410.2,1235.2 1413.2,1245.3 1418.2,1247.4 1424.2,1251.3 1428.2,1247.7 1434.2,1252.4 1440.2,1254.3 1446.2,1258.7 1454.2,1261.7 1464.2,1265.0 1464.2,1280.2 1440.2,1276.3 1428.2,1278.9 1418.2,1284.6 1410.2,1289.7 1404.2,1285.2" fill="#00f87a"/>
<polygon points="1604.7,1377.9 1610.7,1374.1 1616.7,1371.6 1622.7,1373.0 1628.7,1376.6 1634.7,1384.8 1642.7,1394.8 1642.7,1410.8 1636.7,1413.4 1628.7,1417.5 1622.7,1416.5 1616.7,1411.1 1610.7,1400.5 1604.7,1392.9" fill="#00f87a"/>
<path d="M1388.2,1286.2v26M1390.2,1285.0v18M1404.2,1277.2v30M1407.2,1275.9v22M1410.2,1274.7v34M1414.2,1273.1v20M1419.2,1271.2v26M1360.2,1310.7v20M1364.2,1306.7v24M1368.2,1302.8v16M1360.2,1310.7v-16M1366.2,1304.8v-18M1382.2,1290.2v-20M1386.2,1287.5v-16" stroke="#14fb84" stroke-width="2.6" fill="none" opacity="0.85"/>
<polyline points="1590.7,1360.8 1591.7,1382.8 1592.9,1362.8 1593.9,1384.1 1595.1,1367.8 1596.1,1385.7 1597.3,1368.0 1598.3,1394.5 1599.5,1366.6 1600.5,1392.7 1601.7,1369.9 1602.7,1393.8 1603.9,1370.7 1604.9,1402.3 1606.1,1369.7 1607.1,1397.2 1608.3,1368.7 1609.3,1415.4 1610.5,1369.1 1611.5,1412.5 1612.7,1371.6 1613.7,1418.1 1614.9,1372.4 1615.9,1401.9 1617.1,1380.5 1618.1,1410.7 1619.3,1376.8 1620.3,1413.3 1621.5,1381.9 1622.5,1417.0 1623.7,1378.2 1624.7,1410.2 1625.9,1380.0 1626.9,1410.2 1628.1,1382.6 1629.1,1405.7 1630.3,1386.2 1631.3,1412.7 1632.5,1389.5 1633.5,1408.4 1634.7,1389.7 1635.7,1414.8 1636.9,1388.6 1637.9,1410.8 1639.1,1393.3 1640.1,1413.8 1641.3,1391.3 1642.3,1410.4" stroke="#14fb84" stroke-width="2.6" fill="none"/>
<polyline points="1817.1,1235.3 1818.1,1280.5 1819.1,1256.2 1820.1,1281.0 1821.1,1247.6 1822.1,1276.6 1823.1,1252.6 1824.1,1280.2 1825.1,1252.8 1826.1,1275.2 1827.1,1259.4 1828.1,1274.3 1829.1,1256.5 1830.1,1277.0 1831.1,1253.6 1832.1,1276.8 1833.1,1259.2 1834.1,1273.9 1835.1,1259.5 1836.1,1271.8 1837.1,1256.0 1838.1,1272.6 1839.1,1252.6 1840.1,1272.1 1841.1,1253.0 1842.1,1271.5 1843.1,1258.0 1844.1,1273.2 1845.1,1257.8 1846.1,1273.1 1847.1,1258.7 1848.1,1269.9 1849.1,1255.1 1850.1,1270.9 1851.1,1258.9 1852.1,1270.0 1853.1,1253.6 1854.1,1272.6 1855.1,1256.3 1856.1,1269.2 1857.1,1259.1 1858.1,1269.7 1859.1,1255.5 1860.1,1272.7 1861.1,1259.6 1862.1,1269.6 1863.1,1256.4 1864.1,1273.0 1865.1,1259.2 1866.1,1273.3 1867.1,1260.4 1868.1,1271.5 1869.1,1258.1 1870.1,1272.8 1871.1,1261.5 1872.1,1271.6" stroke="#14fb84" stroke-width="3" fill="none"/>
<polygon points="1819.1,1269.8 1823.1,1256.1 1825.1,1235.5 1828.1,1244.2 1833.1,1246.7 1839.1,1248.6 1843.1,1247.3 1849.1,1251.3 1855.1,1254.6 1861.1,1258.8 1869.1,1261.3 1879.1,1265.8 1879.1,1280.2 1855.1,1276.3 1843.1,1278.9 1833.1,1284.6 1825.1,1289.7 1819.1,1285.2" fill="#00f87a"/>
<polygon points="2019.6,1378.2 2025.6,1376.2 2031.6,1371.7 2037.6,1373.5 2043.6,1377.6 2049.6,1386.8 2057.6,1395.1 2057.6,1410.9 2051.6,1413.6 2043.6,1417.3 2037.6,1418.7 2031.6,1409.1 2025.6,1401.8 2019.6,1394.4" fill="#00f87a"/>
<path d="M1803.1,1286.2v26M1805.1,1285.0v18M1819.1,1277.2v30M1822.1,1275.9v22M1825.1,1274.7v34M1829.1,1273.1v20M1834.1,1271.2v26M1775.1,1310.7v20M1779.1,1306.7v24M1783.1,1302.8v16M1775.1,1310.7v-16M1781.1,1304.8v-18M1797.1,1290.2v-20M1801.1,1287.5v-16" stroke="#14fb84" stroke-width="2.6" fill="none" opacity="0.85"/>
<polyline points="2005.6,1362.3 2006.6,1384.2 2007.8,1364.8 2008.8,1388.1 2010.0,1364.8 2011.0,1387.2 2012.2,1364.0 2013.2,1397.2 2014.4,1370.2 2015.4,1394.3 2016.6,1363.1 2017.6,1393.8 2018.8,1369.6 2019.8,1402.2 2021.0,1371.6 2022.0,1410.3 2023.2,1368.1 2024.2,1403.8 2025.4,1357.4 2026.4,1406.1 2027.6,1361.9 2028.6,1410.6 2029.8,1374.7 2030.8,1411.3 2032.0,1370.4 2033.0,1412.2 2034.2,1369.1 2035.2,1416.3 2036.4,1378.5 2037.4,1407.0 2038.6,1375.9 2039.6,1410.9 2040.8,1386.0 2041.8,1415.2 2043.0,1385.6 2044.0,1408.7 2045.2,1382.3 2046.2,1415.0 2047.4,1388.1 2048.4,1414.5 2049.6,1385.4 2050.6,1411.7 2051.8,1392.1 2052.8,1408.8 2054.0,1391.5 2055.0,1411.7 2056.2,1390.7 2057.2,1409.5" stroke="#14fb84" stroke-width="2.6" fill="none"/>
<polyline points="2232.0,1236.1 2233.0,1283.1 2234.0,1257.5 2235.0,1279.8 2236.0,1259.5 2237.0,1280.1 2238.0,1258.2 2239.0,1277.3 2240.0,1255.5 2241.0,1278.3 2242.0,1255.4 2243.0,1277.6 2244.0,1253.4 2245.0,1277.4 2246.0,1258.1 2247.0,1273.9 2248.0,1255.5 2249.0,1275.1 2250.0,1255.5 2251.0,1273.2 2252.0,1251.2 2253.0,1271.3 2254.0,1259.2 2255.0,1272.5 2256.0,1254.9 2257.0,1272.0 2258.0,1253.8 2259.0,1271.2 2260.0,1256.1 2261.0,1270.2 2262.0,1257.8 2263.0,1270.6 2264.0,1255.7 2265.0,1270.2 2266.0,1257.8 2267.0,1271.4 2268.0,1256.2 2269.0,1268.4 2270.0,1257.3 2271.0,1270.1 2272.0,1256.6 2273.0,1273.2 2274.0,1258.6 2275.0,1271.0 2276.0,1255.3 2277.0,1273.2 2278.0,1257.2 2279.0,1272.0 2280.0,1257.4 2281.0,1273.1 2282.0,1257.1 2283.0,1274.0 2284.0,1260.8 2285.0,1273.9 2286.0,1258.2 2287.0,1272.4" stroke="#14fb84" stroke-width="3" fill="none"/>
<polygon points="2234.0,1269.3 2238.0,1256.2 2240.0,1233.2 2243.0,1244.7 2248.0,1247.9 2254.0,1249.2 2258.0,1247.9 2264.0,1251.4 2270.0,1255.4 2276.0,1258.8 2284.0,1261.6 2294.0,1267.2 2294.0,1280.2 2270.0,1276.3 2258.0,1278.9 2248.0,1284.6 2240.0,1289.7 2234.0,1285.2" fill="#00f87a"/>
<polygon points="2434.5,1376.5 2440.5,1373.7 2446.5,1371.8 2452.5,1374.1 2458.5,1378.3 2464.5,1385.1 2472.5,1394.2 2472.5,1409.6 2466.5,1414.2 2458.5,1418.5 2452.5,1416.5 2446.5,1409.0 2440.5,1401.1 2434.5,1391.9" fill="#00f87a"/>
<path d="M2218.0,1286.2v26M2220.0,1285.0v18M2234.0,1277.2v30M2237.0,1275.9v22M2240.0,1274.7v34M2244.0,1273.1v20M2249.0,1271.2v26M2190.0,1310.7v20M2194.0,1306.7v24M2198.0,1302.8v16M2190.0,1310.7v-16M2196.0,1304.8v-18M2212.0,1290.2v-20M2216.0,1287.5v-16" stroke="#14fb84" stroke-width="2.6" fill="none" opacity="0.85"/>
<polyline points="2420.5,1364.0 2421.5,1385.6 2422.7,1367.5 2423.7,1385.5 2424.9,1362.8 2425.9,1386.5 2427.1,1363.2 2428.1,1393.2 2429.3,1365.9 2430.3,1397.5 2431.5,1364.5 2432.5,1395.3 2433.7,1374.2 2434.7,1396.4 2435.9,1368.1 2436.9,1403.1 2438.1,1367.6 2439.1,1400.4 2440.3,1368.9 2441.3,1405.4 2442.5,1378.3 2443.5,1418.7 2444.7,1371.8 2445.7,1406.4 2446.9,1364.4 2447.9,1410.0 2449.1,1378.0 2450.1,1410.9 2451.3,1384.1 2452.3,1404.9 2453.5,1383.3 2454.5,1413.9 2455.7,1377.6 2456.7,1409.4 2457.9,1385.8 2458.9,1407.4 2460.1,1390.4 2461.1,1413.2 2462.3,1386.2 2463.3,1408.7 2464.5,1389.8 2465.5,1414.3 2466.7,1392.6 2467.7,1409.3 2468.9,1392.2 2469.9,1413.2 2471.1,1392.2 2472.1,1410.1" stroke="#14fb84" stroke-width="2.6" fill="none"/>
</g>
<path d="M110,1107.5H2180" stroke="#0a84ff" stroke-width="5" stroke-dasharray="32 8.2" fill="none"/>
<path d="M110,1293H2180" stroke="#0a84ff" stroke-width="5.5" stroke-dasharray="16.5 7.3" fill="none"/>
<path d="M2261.5,1073.8H2212L2179.5,1107.5L2212,1141H2261.5" stroke="#0a84ff" stroke-width="4.5" fill="#fff"/>
<path d="M2261.5,1259.3H2212.5L2179.5,1293L2212.5,1327H2261.5" stroke="#0a84ff" stroke-width="4.5" fill="#fff"/>
<path d="M2190.5,1689V1640L2225.6,1604.5L2261.5,1640" stroke="#0a84ff" stroke-width="4" fill="#fff"/>
<text class="ss" x="2210" y="1126" font-size="45" fill="#1280ff" stroke="#1280ff" stroke-width="0.9" textLength="48" lengthAdjust="spacingAndGlyphs">Y2</text>
<text class="ss" x="2210" y="1311.5" font-size="45" fill="#1280ff" stroke="#1280ff" stroke-width="0.9" textLength="43" lengthAdjust="spacingAndGlyphs">Y1</text>
<text class="ss" x="2200" y="1678" font-size="46" fill="#1280ff" stroke="#1280ff" stroke-width="0.9" textLength="52" lengthAdjust="spacingAndGlyphs">X2</text>
<path d="M108,920V1691" stroke="#161616" stroke-width="5" fill="none"/>
<path d="M106,922H2264.5" stroke="#3a3a3a" stroke-width="4.8" fill="none"/>
<path d="M106,1689H2264.5" stroke="#161616" stroke-width="5" fill="none"/>
<path d="M2261.5,922V1689" stroke="#04081c" stroke-width="6" fill="none"/>
<path d="M2258.3,926V1687" stroke="#0a6cff" stroke-width="2.2" stroke-dasharray="30 9" fill="none"/>
<rect x="72.5" y="922" width="10" height="3.5" fill="#ff30f0"/>
<polygon points="89,1284.5 105,1297 93,1302 76,1301 76,1296.5 91,1296.5" fill="#e49400"/>
<path d="M55,1283q9,-3 12,3q0,5 -5,6q7,1 5,7" stroke="#e49400" stroke-width="3.2" fill="none"/>
<path d="M55,1304H97L103,1310V1374L97,1380H55Z" fill="#58fdfa" stroke="#00f27a" stroke-width="6" stroke-linejoin="round"/>
<polygon points="88,1313 103,1329 88,1345" fill="#00ee5a"/>
<path d="M62,1312l-6,24h15M66,1310v36" stroke="#10ea7a" stroke-width="3.4" fill="none"/>
<path d="M77.5,1331v25M62,1357.5h30M67,1364h21M73,1370.5h10" stroke="#06ec80" stroke-width="3.6" fill="none"/>
<text x="1041.5" y="1075" font-size="61.5" fill="#e29a08" stroke="#e29a08" stroke-width="0.8" textLength="789" lengthAdjust="spacingAndGlyphs">Current of secondary coil10A/div</text>
<text x="478.7" y="1569" font-size="61.5" fill="#00b050" stroke="#00b050" stroke-width="1" textLength="757" lengthAdjust="spacingAndGlyphs">Current of primary coil 20A/div</text>
</g>
<text fill="#000"><tspan x="1122.2" y="1845" font-size="86">(</tspan><tspan x="1150.3" y="1845.6" font-size="90" font-weight="bold">b</tspan><tspan x="1199.4" y="1845" font-size="86">)</tspan></text>
</svg></body></html>
